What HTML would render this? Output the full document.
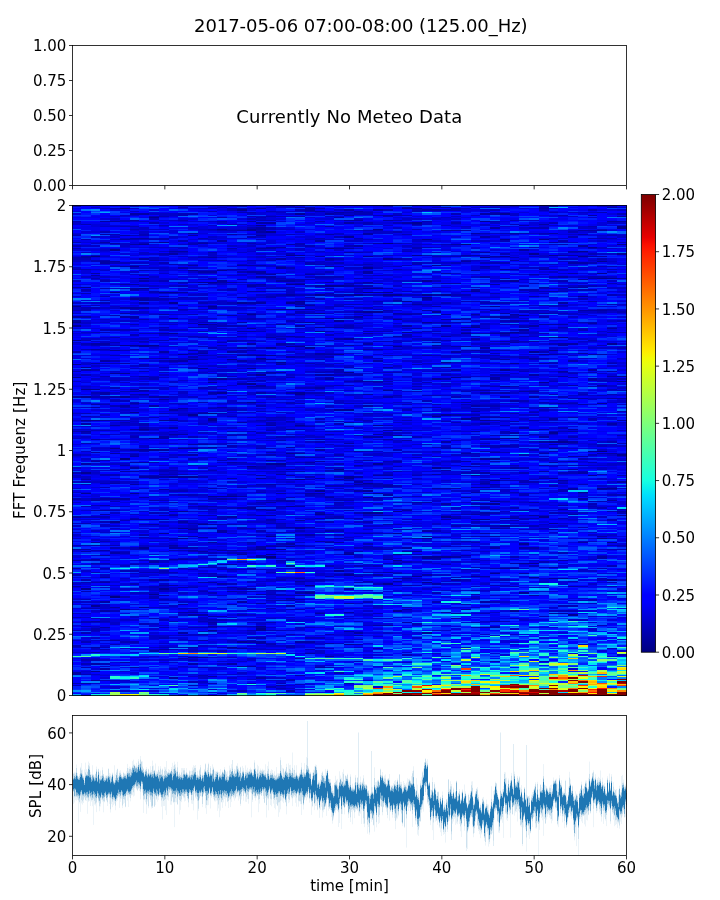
<!DOCTYPE html>
<html><head><meta charset="utf-8"><title>Spectrogram 2017-05-06 07:00-08:00</title>
<style>html,body{margin:0;padding:0;background:#fff}svg{display:block}</style></head>
<body><svg width="720" height="900" viewBox="0 0 720 900">
<rect width="720" height="900" fill="#fff"/>
<g fill="none" shape-rendering="crispEdges">
<path stroke="#000080" stroke-width="9" d="M95.5 256v1M212.5 413v1"/>
<path stroke="#000080" stroke-width="10" d="M115 596v2M125 458v2M203 324v1M271 556v2M300 479v1M368 292v1M388 243v1M466 244v1M485 257v1M495 480v1M563 337v1M602 451v1"/>
<path stroke="#000092" stroke-width="9" d="M76.5 306v1m0 15v1m0 2v2m0 13v1m0 23v1m0 12v1M95.5 389v1m0 30v1m0 184v2m0 64v1M134.5 266v1m0 31v2m0 45v1m0 66v1m0 80v1M173.5 292v1m0 9v2m0 14v1m0 14v1m0 86v1m0 55v2M212.5 282v1m0 23v1m0 75v1m0 35v3m0 75v1m0 31v1m0 101v1M251.5 229v2m0 83v1m0 13v1m0 39v1m0 14v2m0 17v1m0 63v1M290.5 255v1m0 28v1m0 17v2m0 5v1m0 36v1m0 82v1m0 23v1m0 52v1m0 39v1M329.5 248v1m0 36v2m0 31v1M358.5 294v2M397.5 294v2m0 23v1m0 26v1m0 83v1m0 4v1m0 75v1m0 21v1m0 20v1m0 5v1m0 49v2M436.5 265v1m0 45v2m0 65v2m0 36v1m0 50v2m0 87v2M475.5 291v1m0 35v1m0 147v1m0 100v1M514.5 280v2m0 50v1m0 30v1m0 74v1m0 171v2M553.5 255v1m0 81v1m0 12v1m0 81v2m0 7v2m0 5v1m0 29v1m0 44v1m0 54v1M592.5 247v1m0 203v1m0 23v1"/>
<path stroke="#000092" stroke-width="9.5" d="M621.75 226v3m0 15v1m0 8v2m0 121v1m0 4v1m0 72v2"/>
<path stroke="#000092" stroke-width="10" d="M86 287v1m0 79v1m0 21v1m0 6v2m0 22v1m0 51v2m0 19v1m0 94v2M115 249v2m0 41v1m0 57v1m0 22v1m0 74v1m0 72v2M125 208v1m0 136v1m0 27v1m0 22v2m0 211v1M144 244v1m0 33v1m0 9v1m0 56v2m0 82v1m0 117v2m0 58v1M154 217v1m0 127v1m0 92v1m0 10v2m0 68v1m0 74v1M164 242v1m0 49v1m0 127v1m0 112v1m0 54v2M183 354v1m0 93v1m0 27v2m0 33v1m0 16v1m0 9v1M193 270v1m0 88v1m0 54v2m0 32v1m0 27v2m0 179v1M203 282v1m0 85v1m0 155v1m0 132v1M222 229v1m0 40v1m0 107v2m0 12v2m0 102v1m0 79v1M232 359v1m0 136v1m0 150v1M242 209v2m0 91v2m0 337v2m0 23v1M261 225v1m0 129v1m0 2v1m0 15v2m0 102v1m0 70v1m0 76v1m0 1v3M271 231v2m0 114v2m0 6v1m0 104v1m0 2v2m0 71v1m0 12v1m0 4v1M281 267v2m0 40v1m0 52v1m0 100v2m0 84v1M300 213v2m0 40v1m0 28v1m0 16v1m0 44v1m0 45v3m0 30v1m0 101v2M310 322v1m0 24v2m0 236v1m0 6v2M320 294v2m0 17v1m0 13v1m0 3v1m0 158v2m0 22v1M339 285v2m0 33v2m0 32v1m0 54v2m0 58v1m0 100v2M349 236v2m0 100v2m0 32v1m0 36v2m0 65v3m0 75v1m0 19v2m0 68v1M368 256v1m0 10v2m0 19v1m0 22v2m0 170v1m0 6v2m0 5v1m0 14v2M378 229v1m0 58v1m0 3v1m0 18v2m0 112v1m0 37v2m0 28v1m0 18v2M388 258v2m0 32v1m0 1v2m0 94v1m0 192v2M407 301v1m0 30v1M417 222v2m0 31v1m0 295v1m0 24v1M427 239v1m0 40v2m0 12v2m0 1v1m0 24v1m0 215v1m0 17v3m0 23v1m0 49v2M446 294v2m0 29v2m0 35v1m0 51v2m0 100v2m0 38v2M456 319v1m0 57v1M466 333v1m0 12v1m0 71v2M485 221v1m0 198v1m0 37v2m0 59v1M495 306v1m0 151v2m0 41v1m0 1v2m0 68v1M505 213v2m0 24v1m0 16v1m0 12v1m0 63v1m0 35v2m0 15v1m0 30v1m0 20v1m0 86v2m0 41v1M524 315v1m0 227v2m0 18v1m0 28v2M534 253v2m0 96v2m0 210v1m0 13v1M544 239v1m0 114v1m0 27v1m0 133v2M563 441v2m0 135v1M573 614v2M583 251v1m0 4v1m0 39v1m0 195v1M602 261v1m0 11v1m0 4v1m0 124v1m0 84v1m0 49v1M612 278v1m0 64v2m0 143v1m0 53v1m0 36v2"/>
<path stroke="#0000a4" stroke-width="9" d="M76.5 287v1m0 28v2m0 2v2m0 74v2m0 118v2m0 31v1m0 10v1m0 7v1m0 17v1m0 85v3M95.5 273v1m0 1v1m0 67v2m0 4v1m0 13v1m0 40v1m0 2v1m0 31v1m0 12v1m0 8v1m0 38v1m0 9v1m0 31v1m0 2v1m0 13v1m0 61v1m0 25v1m0 4v1m0 10v2m0 15v1M134.5 213v2m0 5v1m0 17v1m0 5v1m0 39v1m0 3v3m0 16v2m0 7v2m0 71v1m0 1v1m0 11v1m0 25v1m0 19v2m0 5v1m0 5v1m0 4v2m0 2v1m0 12v1m0 34v1m0 147v1M173.5 251v1m0 1v2m0 105v2m0 47v2m0 16v2m0 5v1m0 76v1m0 3v1m0 22v1m0 6v1m0 1v2m0 10v1m0 25v1m0 91v2M212.5 257v1m0 13v2m0 34v2m0 15v1m0 53v2m0 12v2m0 53v1m0 40v1m0 17v1m0 17v1m0 17v1m0 39v1m0 33v1m0 5v1m0 3v1m0 49v1M251.5 221v1m0 43v1m0 5v2m0 12v2m0 4v1m0 10v2m0 27v1m0 11v2m0 10v1m0 30v1m0 120v2m0 79v2m0 51v2m0 23v1M290.5 244v1m0 35v2m0 12v2m0 40v1m0 19v2m0 34v2m0 53v1m0 21v1m0 5v1m0 25v1m0 25v1m0 15v2m0 20v2m0 31v1m0 1v1m0 4v2m0 83v2M329.5 213v2m0 11v1m0 7v1m0 23v2m0 6v1m0 15v1m0 44v1m0 26v1m0 19v2m0 2v2m0 117v1m0 20v1m0 11v2m0 10v1m0 100v1m0 12v1M358.5 211v1m0 8v1m0 24v2m0 64v2m0 3v2m0 63v1m0 69v1m0 13v1m0 10v2m0 3v2m0 1v1m0 5v2m0 140v2m0 1v1m0 8v1M397.5 258v2m0 40v1m0 12v1m0 22v1m0 124v1m0 35v1m0 65v1m0 14v1m0 2v1M436.5 209v2m0 83v2m0 10v1m0 35v1m0 2v1m0 128v1m0 13v1m0 69v1m0 24v2M475.5 233v1m0 21v1m0 14v1m0 18v2m0 23v1m0 10v2m0 11v2m0 10v1m0 54v2m0 4v1m0 5v3m0 11v1m0 55v1m0 4v1m0 7v1m0 13v1m0 4v1m0 70v1M514.5 233v1m0 26v1m0 8v1m0 44v1m0 5v2m0 20v1m0 57v2m0 19v1m0 10v2m0 33v2m0 49v1m0 44v1m0 4v1M553.5 205v2m0 26v1m0 8v1m0 48v1m0 32v1m0 29v1m0 52v1m0 10v2m0 24v1m0 17v1m0 66v1m0 37v1m0 45v1M592.5 215v1m0 14v1m0 25v1m0 21v1m0 31v1m0 12v1m0 30v1m0 14v2m0 7v3"/>
<path stroke="#0000a4" stroke-width="9.5" d="M621.75 216v1m0 4v1m0 56v1m0 119v1m0 21v1m0 60v2m0 28v1m0 3v1"/>
<path stroke="#0000a4" stroke-width="10" d="M86 256v2m0 58v2m0 51v2m0 52v2m0 6v1m0 31v2m0 14v1m0 69v1m0 1v1m0 131v1M105 221v1m0 12v1m0 7v1m0 18v3m0 79v2m0 15v2m0 30v3m0 25v1m0 77v2m0 5v1m0 4v1m0 3v1m0 35v1m0 4v1m0 21v1m0 4v1m0 18v2m0 7v2m0 15v1m0 40v2M115 221v1m0 21v1m0 17v1m0 134v2m0 22v1m0 4v1m0 27v1m0 29v1m0 14v2m0 52v2m0 53v1m0 32v1M125 235v1m0 3v1m0 26v1m0 17v1m0 22v2m0 4v1m0 2v2m0 45v1m0 41v2m0 58v1m0 5v1m0 26v2m0 162v1M144 213v2m0 23v1m0 19v2m0 20v2m0 16v3m0 1v2m0 3v2m0 49v1m0 17v1m0 13v1m0 3v1m0 54v2m0 11v1m0 13v2m0 19v1m0 21v1M154 396v2m0 7v2m0 69v2m0 22v1m0 23v1m0 36v2m0 16v2m0 69v2M164 314v1m0 18v1m0 17v2m0 5v1m0 37v2m0 1v1m0 36v3m0 10v2m0 25v2m0 11v1m0 89v2m0 4v1m0 9v1m0 53v1M183 251v1m0 15v2m0 23v1m0 67v2m0 46v1m0 25v1m0 86v2m0 24v2m0 10v1m0 27v1m0 16v1m0 7v1m0 19v2M193 233v1m0 1v1m0 29v1m0 84v1m0 93v1m0 9v2m0 73v1m0 6v1m0 13v1m0 61v1m0 1v2m0 31v1m0 15v2M203 243v1m0 27v2m0 80v1m0 59v1m0 30v1m0 61v1m0 30v1m0 13v1m0 30v1m0 31v2m0 18v1m0 5v1M222 240v2m0 38v3m0 124v1m0 90v2m0 30v3m0 17v1m0 13v1m0 18v2m0 31v1M232 234v1m0 47v1m0 32v1m0 25v1m0 9v2m0 109v1m0 15v1m0 37v2m0 32v1m0 13v1m0 22v1m0 3v1m0 71v2M242 230v1m0 34v1m0 31v1m0 24v1m0 8v1m0 15v2m0 6v1m0 4v2m0 21v2m0 37v1m0 73v1m0 10v2m0 45v1m0 33v2m0 11v2m0 45v1M261 208v1m0 13v2m0 3v3m0 1v2m0 2v1m0 12v1m0 16v1m0 5v3m0 2v2m0 6v1m0 6v1m0 10v2m0 55v1m0 25v2m0 5v2m0 81v1m0 33v1m0 5v1m0 30v3m0 6v3m0 36v1m0 8v1m0 23v1m0 13v3m0 33v2M271 222v2m0 23v2m0 25v1m0 1v2m0 31v1m0 27v1m0 21v1m0 12v1m0 52v1m0 58v1m0 17v1m0 7v1m0 4v1m0 30v1m0 11v1M281 247v1m0 10v2m0 20v2m0 42v1m0 18v2m0 19v1m0 7v1m0 101v1m0 18v1m0 6v1m0 45v1m0 53v1m0 84v1M300 207v1m0 94v3m0 1v1m0 2v1m0 12v1m0 2v2m0 126v1m0 3v1m0 48v1m0 13v1m0 47v1m0 9v1m0 2v1m0 10v2m0 1v1m0 3v1m0 41v2m0 15v1m0 16v1M310 208v3m0 63v1m0 30v1m0 3v1m0 3v1m0 143v1m0 4v1m0 30v1m0 33v1m0 6v2m0 105v2m0 10v1M320 211v1m0 28v2m0 14v1m0 28v2m0 66v2m0 19v2m0 11v2m0 50v1m0 9v2m0 10v1m0 16v1m0 14v1m0 18v2m0 4v1m0 22v1m0 71v1m0 53v1M339 212v1m0 4v1m0 30v1m0 78v1m0 10v2m0 139v1m0 58v1m0 3v1m0 6v1M349 209v2m0 4v1m0 4v1m0 1v2m0 24v1m0 3v1m0 32v2m0 7v2m0 49v1m0 76v1m0 20v1m0 108v2m0 34v2m0 13v1m0 8v1m0 18v1M368 233v2m0 36v3m0 8v1m0 48v1m0 1v1m0 9v2m0 4v1m0 31v1m0 12v1m0 10v2m0 29v2m0 22v1m0 72v1M378 209v2m0 32v1m0 105v1m0 10v2m0 19v1m0 52v1m0 1v2m0 37v1m0 39v1m0 58v2m0 49v1m0 22v1M388 215v1m0 4v1m0 146v1m0 28v2m0 32v1m0 8v1m0 35v1m0 9v2m0 7v2m0 63v1m0 12v1m0 52v1M407 208v1m0 13v2m0 90v1m0 10v2m0 113v1m0 69v1m0 36v2m0 2v1m0 2v1m0 23v1m0 6v1m0 23v1m0 12v1M417 208v1m0 15v1m0 79v1m0 23v1m0 173v1m0 35v1M427 209v2m0 87v2m0 10v1m0 44v1m0 146v1m0 27v2m0 4v1m0 37v2M446 207v1m0 22v1m0 42v1m0 9v1m0 30v1m0 4v1m0 16v1m0 30v1m0 10v2m0 61v2m0 27v1m0 17v1m0 14v2m0 14v1m0 92v1M456 230v1m0 13v1m0 38v1m0 62v1m0 4v2m0 16v2m0 43v2m0 72v1m0 29v1m0 37v2m0 21v2m0 32v1m0 4v1M466 230v1m0 24v1m0 5v1m0 65v1m0 74v1m0 50v1m0 7v1m0 4v1m0 30v1m0 57v1m0 53v1M485 213v2m0 21v2m0 14v1m0 13v1m0 9v2m0 69v2m0 41v1m0 1v2m0 23v1m0 5v2m0 14v1m0 11v1m0 20v2m0 9v1m0 3v1m0 15v2m0 7v2m0 19v1m0 42v1m0 24v2m0 24v1M495 213v2m0 12v2m0 27v1m0 27v1m0 25v1m0 5v2m0 15v1m0 43v3m0 37v1m0 2v1m0 17v2m0 12v1m0 31v1m0 24v1m0 18v1m0 7v1m0 10v2m0 19v1m0 52v1m0 5v1M505 280v2m0 31v1m0 2v2m0 23v1m0 17v1m0 32v2m0 2v2m0 47v2m0 31v1m0 39v1m0 9v1M524 225v1m0 23v2m0 78v2m0 60v1m0 35v2m0 118v2m0 24v1M534 274v1m0 21v1m0 28v2m0 14v1m0 16v1m0 15v2m0 15v1m0 4v2m0 22v1m0 81v1m0 12v1m0 31v2m0 46v1M544 208v1m0 15v1m0 44v1m0 17v1m0 25v1m0 10v1m0 38v1m0 43v1m0 21v1m0 6v2m0 3v2m0 10v1m0 11v1m0 5v1m0 6v1M563 255v1m0 20v2m0 24v2m0 20v1m0 18v3m0 25v1m0 4v1m0 26v1m0 76v1m0 24v1m0 3v1m0 50v1m0 52v1M573 251v1m0 3v1m0 6v2m0 9v1m0 13v1m0 55v2m0 15v2m0 23v1m0 31v1m0 11v1m0 1v1m0 9v2m0 13v1m0 4v1m0 7v1m0 18v2m0 24v1m0 71v1M583 230v1m0 3v1m0 10v2m0 15v2m0 15v1m0 7v1m0 22v1m0 42v1m0 44v1m0 5v1m0 51v1m0 15v2m0 24v2m0 42v1M602 230v1m0 25v1m0 53v1m0 43v1m0 30v1m0 67v1m0 35v1m0 46v1m0 19v3M612 207v1m0 13v1m0 106v1m0 42v1m0 4v1m0 21v1m0 24v2m0 28v1m0 46v1"/>
<path stroke="#0000b6" stroke-width="9" d="M76.5 205v2m0 14v1m0 13v1m0 6v1m0 2v2m0 1v1m0 8v3m0 9v1m0 40v1m0 40v2m0 18v1m0 59v1m0 22v2m0 16v2m0 24v2m0 45v1m0 28v2m0 41v1m0 12v1m0 14v2m0 36v1m0 1v1M95.5 260v2m0 16v1m0 26v1m0 1v2m0 23v1m0 12v1m0 23v2m0 21v2m0 2v2m0 32v1m0 29v1m0 37v2m0 5v1m0 10v2m0 32v1m0 9v1m0 2v1m0 8v1m0 9v1m0 25v1m0 9v1m0 9v3m0 28v2M134.5 226v1m0 2v1m0 5v1m0 3v1m0 57v1m0 20v1m0 5v1m0 4v2m0 3v2m0 13v1m0 44v1m0 41v2m0 16v2m0 62v1m0 28v3m0 14v1m0 5v2m0 11v2m0 56v2M173.5 264v1m0 93v1m0 111v1m0 3v1m0 15v2m0 10v1m0 11v1m0 31v1m0 3v1m0 21v1m0 48v1m0 27v1M212.5 208v1m0 2v1m0 17v1m0 22v1m0 25v1m0 4v1m0 38v1m0 14v1m0 9v2m0 45v1m0 13v1m0 12v1m0 22v1m0 25v1m0 27v2m0 9v1m0 5v1m0 33v1m0 2v2m0 13v1m0 5v1m0 2v1m0 15v2m0 25v2m0 2v2m0 2v1m0 55v1M251.5 212v1m0 3v1m0 1v2m0 7v2m0 7v2m0 5v1m0 16v1m0 23v1m0 28v1m0 4v2m0 20v1m0 9v1m0 3v1m0 19v2m0 5v1m0 35v1m0 13v1m0 35v2m0 40v1m0 18v1m0 13v1m0 6v1m0 13v1m0 4v1m0 22v1m0 17v1m0 16v1m0 3v1m0 6v2m0 44v1M290.5 216v1m0 17v1m0 18v2m0 12v2m0 10v1m0 34v1m0 5v2m0 21v2m0 32v1m0 24v2m0 17v1m0 14v2m0 33v1m0 7v1m0 17v1m0 2v1m0 31v1m0 5v1m0 21v1m0 34v1m0 13v1m0 24v1m0 10v3m0 31v2M329.5 260v1m0 10v2m0 3v2m0 10v1m0 4v3m0 35v1m0 2v2m0 4v1m0 12v1m0 2v2m0 13v1m0 5v1m0 53v1m0 2v1m0 35v1m0 14v2m0 9v1m0 17v1m0 6v2m0 18v1m0 23v2m0 9v1m0 57v1m0 32v1M358.5 212v3m0 23v1m0 13v1m0 25v1m0 4v1m0 1v2m0 1v1m0 3v1m0 11v1m0 69v2m0 4v1m0 54v1m0 76v2m0 4v1m0 14v1m0 13v2m0 2v1m0 13v2m0 9v1m0 5v1m0 56v1m0 21v1M397.5 215v1m0 4v1m0 1v2m0 7v2m0 10v1m0 22v1m0 2v1m0 31v1m0 12v1m0 34v1m0 22v1m0 22v1m0 53v2m0 11v1m0 3v1m0 4v1m0 13v2m0 22v1m0 14v1m0 4v1m0 43v1m0 11v1M436.5 207v1m0 48v1m0 23v2m0 9v1m0 30v1m0 4v1m0 3v1m0 8v1m0 6v2m0 6v1m0 15v1m0 23v1m0 8v1m0 2v1m0 6v2m0 31v1m0 3v1m0 4v1m0 73v2m0 5v1m0 21v1m0 32v2m0 7v2m0 27v1M475.5 252v1m0 48v1m0 31v1m0 56v1m0 17v1m0 5v2m0 37v1m0 9v2m0 1v1m0 5v2m0 29v2m0 16v2m0 2v2m0 9v1m0 5v1m0 16v1m0 7v1m0 26v1m0 3v1m0 23v1m0 4v1M514.5 220v1m0 3v1m0 32v1m0 57v3m0 6v1m0 8v1m0 6v2m0 44v1m0 26v1m0 21v1m0 9v2m0 18v1m0 14v1m0 11v1m0 14v2m0 7v2m0 2v1m0 4v2m0 29v2m0 28v1m0 31v1M553.5 212v1m0 9v2m0 14v1m0 30v1m0 6v2m0 10v1m0 24v1m0 15v2m0 12v2m0 18v1m0 17v1m0 12v1m0 8v1m0 27v1m0 19v1m0 33v2m0 25v2m0 96v2M592.5 209v2m0 15v1m0 11v1m0 9v1m0 4v2m0 7v2m0 12v2m0 7v2m0 2v2m0 10v1m0 20v1m0 17v1m0 31v1m0 13v1m0 31v2m0 34v2m0 6v1m0 38v1m0 1v2m0 1v1m0 92v2"/>
<path stroke="#0000b6" stroke-width="9.5" d="M621.75 213v2m0 27v1m0 68v2m0 7v2m0 10v1m0 14v2m0 29v2m0 10v1m0 20v1m0 23v1m0 7v1m0 31v1m0 18v2m0 13v1m0 2v2m0 31v1m0 3v1m0 104v2"/>
<path stroke="#0000b6" stroke-width="10" d="M86 224v1m0 14v1m0 18v2m0 9v1m0 19v2m0 2v1m0 13v4m0 29v1m0 2v2m0 4v1m0 24v2m0 37v1m0 2v1m0 15v2m0 9v1m0 37v2m0 1v1m0 21v1m0 9v2m0 5v1m0 21v1m0 14v1m0 18v2m0 1v1m0 8v1m0 7v1m0 8v1m0 12v2m0 3v1m0 5v2m0 7v2m0 16v2m0 2v2m0 2v1m0 6v1M105 231v2m0 27v1m0 19v2m0 6v1m0 7v1m0 3v1m0 1v2m0 25v2m0 1v1m0 12v1m0 3v1m0 13v1m0 12v1m0 19v2m0 6v1m0 25v1m0 3v1m0 4v1m0 20v1m0 13v2m0 7v1m0 3v1m0 28v2m0 3v2m0 18v1m0 3v1m0 17v1m0 4v1m0 12v1m0 13v1m0 25v1m0 18v1m0 6v1m0 1v1m0 13v2m0 15v1M115 208v1m0 25v1m0 27v2m0 2v1m0 48v1m0 13v2m0 6v1m0 4v1m0 2v1m0 9v1m0 4v2m0 1v1m0 16v1m0 6v2m0 11v2m0 3v2m0 62v1m0 4v2m0 5v2m0 18v1m0 8v1m0 34v1m0 1v2m0 61v2m0 32v1m0 35v1M125 220v2m0 4v1m0 35v2m0 65v2m0 19v1m0 4v1m0 35v1m0 8v2m0 5v1m0 12v1m0 1v1m0 46v1m0 50v1m0 31v2m0 16v2m0 24v2m0 43v2M144 234v2m0 7v1m0 26v1m0 4v1m0 21v1m0 21v1m0 13v1m0 7v1m0 22v3m0 4v1m0 19v1m0 31v3m0 1v2m0 1v1m0 20v1m0 72v1m0 9v2m0 1v1m0 11v1m0 10v1m0 11v1m0 50v2m0 24v1M154 216v1m0 1v2m0 2v2m0 15v1m0 2v1m0 17v1m0 30v2m0 5v3m0 32v1m0 12v1m0 11v1m0 18v3m0 37v1m0 11v1m0 32v1m0 12v1m0 36v2m0 46v1m0 11v1m0 13v2m0 8v3m0 19v1M164 216v1m0 8v1m0 12v2m0 13v2m0 7v2m0 16v2m0 14v1m0 1v2m0 27v1m0 1v2m0 9v1m0 19v2m0 5v1m0 45v1m0 56v2m0 2v1m0 25v1m0 14v1m0 3v1m0 50v3m0 17v2m0 7v1m0 19v2m0 6v1m0 9v2m0 8v1M183 207v1m0 5v3m0 4v1m0 19v2m0 40v1m0 2v2m0 10v1m0 7v1m0 3v1m0 144v2m0 18v1m0 15v2m0 2v2m0 40v1m0 13v1m0 7v1m0 9v1m0 39v1m0 26v1m0 22v1M193 213v2m0 28v2m0 37v1m0 31v1m0 8v1m0 3v1m0 8v1m0 16v2m0 1v2m0 78v2m0 20v2m0 34v2m0 10v1m0 16v1m0 4v1m0 18v2m0 2v1m0 7v1m0 9v1m0 17v1m0 20v1m0 18v1m0 12v1m0 9v2m0 7v2m0 20v2m0 2v1M203 238v1m0 3v1m0 14v1m0 26v1m0 17v2m0 2v1m0 15v1m0 4v1m0 3v1m0 5v1m0 8v1m0 4v2m0 2v1m0 31v2m0 13v1m0 9v1m0 63v2m0 37v1m0 7v1m0 4v1m0 38v1m0 5v1m0 17v1m0 29v1m0 5v1m0 3v1m0 35v1m0 7v1M222 217v1m0 3v1m0 8v1m0 29v1m0 54v1m0 9v2m0 1v1m0 13v1m0 2v1m0 43v1m0 23v1m0 25v1m0 20v1m0 55v3m0 5v1m0 34v1m0 9v1m0 49v2m0 5v1m0 20v1m0 2v2M232 208v3m0 13v1m0 5v1m0 17v1m0 20v1m0 19v2m0 11v2m0 21v2m0 13v1m0 35v1m0 1v2m0 29v2m0 5v1m0 14v1m0 3v1m0 9v2m0 11v2m0 34v2m0 2v2m0 7v2m0 15v1m0 27v2m0 15v1m0 6v1m0 6v2m0 14v1m0 4v1m0 21v1m0 21v1m0 8v1M242 205v2m0 1v1m0 3v1m0 56v1m0 1v2m0 6v1m0 2v1m0 30v1m0 11v2m0 9v1m0 3v1m0 9v3m0 25v2m0 22v1m0 31v1m0 27v1m0 24v1m0 40v1m0 21v1m0 1v2m0 15v1m0 21v1m0 22v2m0 10v1m0 63v2M261 217v1m0 2v1m0 9v1m0 54v2m0 44v1m0 15v2m0 23v1m0 7v1m0 21v1m0 2v2m0 4v1m0 8v1m0 4v1m0 6v2m0 14v1m0 17v3m0 15v1m0 7v1m0 9v1m0 3v1m0 23v2m0 105v2M271 211v1m0 4v1m0 3v1m0 6v3m0 30v1m0 17v1m0 9v1m0 7v2m0 75v1m0 22v2m0 19v1m0 2v1m0 1v3m0 5v1m0 17v1m0 3v1m0 1v2m0 44v1m0 18v2m0 2v1m0 21v1m0 26v1m0 17v1m0 3v1m0 5v1m0 7v1m0 13v1m0 7v1m0 12v2m0 41v2M281 216v1m0 49v1m0 11v1m0 9v1m0 5v2m0 40v1m0 1v2m0 5v1m0 17v1m0 53v1m0 18v2m0 2v1m0 19v1m0 4v2m0 4v1m0 29v1m0 4v1m0 16v1m0 3v1m0 4v1m0 10v2m0 15v1m0 18v2m0 9v1m0 3v2m0 34v1m0 52v1m0 4v1M300 209v2m0 5v1m0 26v2m0 12v1m0 21v3m0 1v1m0 10v2m0 15v3m0 22v2m0 18v2m0 29v2m0 14v1m0 22v1m0 2v1m0 32v1m0 8v1m0 58v2m0 2v2m0 9v1m0 63v1m0 74v1M310 207v1m0 3v1m0 33v2m0 15v3m0 14v1m0 14v2m0 1v1m0 65v1m0 23v2m0 3v2m0 32v1m0 12v1m0 36v2m0 1v1m0 14v2m0 85v1m0 9v1m0 35v1m0 9v2m0 10v1M320 208v1m0 12v1m0 16v1m0 25v1m0 9v1m0 1v2m0 20v2m0 18v1m0 3v1m0 36v1m0 12v1m0 19v2m0 24v2m0 21v2m0 14v1m0 121v2m0 56v2M339 213v2m0 21v2m0 20v2m0 2v2m0 2v1m0 9v2m0 16v3m0 9v1m0 11v1m0 50v4m0 1v2m0 9v1m0 35v1m0 1v2m0 6v1m0 22v2m0 7v2m0 5v2m0 4v2m0 7v2m0 13v1m0 1v1m0 13v3m0 11v2m0 2v2m0 38v2m0 96v2M349 212v1m0 32v2m0 36v1m0 20v1m0 13v1m0 6v3m0 39v1m0 6v2m0 5v1m0 3v1m0 17v1m0 22v1m0 53v1m0 19v1m0 9v1m0 62v1m0 109v1M368 212v3m0 7v3m0 5v1m0 33v1m0 18v1m0 1v2m0 7v2m0 11v2m0 6v1m0 40v2m0 45v1m0 9v1m0 6v1m0 30v1m0 28v1m0 3v1m0 8v1m0 21v1m0 5v2m0 20v2m0 1v3m0 23v1m0 8v1m0 19v2M378 215v1m0 14v1m0 44v1m0 7v1m0 10v2m0 5v1m0 7v1m0 21v1m0 9v1m0 16v1m0 23v1m0 100v4m0 11v2m0 33v1m0 13v3m0 15v2m0 5v1m0 10v2m0 28v1M388 209v2m0 5v1m0 71v1m0 21v1m0 20v1m0 9v1m0 3v1m0 9v1m0 16v1m0 8v1m0 43v1m0 6v4m0 25v1m0 12v1m0 3v1m0 5v1m0 30v1m0 8v1m0 8v1m0 15v1m0 13v1M407 207v1m0 7v1m0 18v1m0 16v1m0 6v2m0 5v1m0 25v1m0 2v2m0 17v1m0 14v1m0 5v3m0 67v1m0 4v2m0 9v1m0 88v1m0 19v1m0 8v1m0 22v2m0 32v1m0 11v1m0 46v2M417 209v3m0 17v1m0 17v2m0 13v3m0 15v2m0 12v2m0 17v2m0 17v1m0 31v1m0 21v1m0 2v1m0 1v1m0 44v2m0 19v1m0 17v1m0 20v1m0 22v1m0 34v1m0 30v1m0 37v2M427 221v1m0 25v1m0 7v1m0 44v1m0 3v1m0 26v1m0 8v1m0 41v1m0 12v1m0 4v2m0 5v1M446 209v2m0 33v1m0 11v1m0 8v1m0 36v2m0 18v1m0 17v1m0 33v2m0 33v2m0 10v1m0 25v2m0 18v2m0 77v1m0 17v1m0 91v1M456 208v3m0 2v2m0 7v2m0 32v1m0 5v2m0 30v2m0 26v1m0 73v2m0 24v1m0 17v1m0 7v1m0 12v1m0 54v2m0 7v2m0 50v1M466 260v1m0 30v1m0 2v2m0 5v1m0 16v2m0 2v1m0 6v2m0 1v1m0 17v1m0 26v1m0 13v1m0 12v1m0 9v2m0 53v1m0 2v2m0 40v1m0 26v1m0 4v1m0 3v1m0 18v1m0 9v2m0 23v1M485 207v1m0 25v1m0 28v2m0 3v2m0 33v2m0 12v2m0 15v1m0 11v1m0 4v3m0 2v1m0 7v1m0 21v1m0 19v2m0 9v1m0 21v1m0 4v1m0 1v2m0 32v1m0 1v2m0 1v1m0 15v1m0 6v2m0 5v1m0 10v2m0 9v1m0 76v1M495 207v1m0 1v2m0 1v1m0 8v1m0 40v2m0 16v2m0 11v1m0 8v2m0 37v1m0 8v1m0 2v1m0 1v1m0 2v2m0 14v2m0 10v1m0 3v1m0 1v2m0 11v2m0 28v1m0 9v3m0 13v1m0 12v1m0 37v2m0 11v2m0 58v1m0 15v2m0 23v1m0 34v1M505 233v1m0 6v2m0 11v2m0 7v2m0 14v1m0 23v2m0 16v2m0 2v1m0 7v1m0 1v2m0 7v2m0 5v1m0 23v2m0 49v1m0 5v3m0 1v1m0 16v1m0 27v1m0 20v1m0 77v2m0 40v1M524 233v1m0 55v2m0 20v2m0 7v2m0 3v3m0 4v2m0 2v1m0 4v1m0 14v3m0 12v1m0 28v2m0 33v1m0 18v2m0 11v2m0 3v2m0 6v3m0 10v3m0 14v1m0 7v2M534 227v2m0 18v1m0 8v1m0 26v1m0 5v3m0 18v1m0 43v1m0 4v1m0 52v1m0 21v1m0 14v2m0 30v2m0 26v1m0 8v1m0 6v2m0 38v2M544 205v3m0 1v2m0 16v2m0 4v1m0 33v2m0 19v1m0 2v1m0 13v1m0 10v2m0 15v1m0 17v2m0 5v1m0 43v1m0 6v2m0 117v1m0 32v2m0 53v1m0 44v1M563 215v1m0 24v2m0 2v1m0 13v2m0 20v2m0 6v1m0 2v1m0 13v1m0 7v1m0 13v1m0 26v1m0 17v1m0 23v2m0 29v2m0 2v1m0 29v1m0 10v2m0 9v1m0 5v3m0 20v2m0 4v1m0 33v2m0 51v2m0 3v2M573 231v2m0 3v2m0 14v1m0 120v1m0 3v1m0 20v1m0 4v1m0 32v2m0 5v1m0 21v1m0 6v2m0 107v1m0 23v2m0 3v2M583 285v2m0 2v2m0 7v2m0 22v1m0 6v2m0 63v1m0 63v2m0 5v1m0 5v1m0 12v1m0 42v1m0 58v1m0 13v1m0 43v1M602 212v1m0 25v1m0 19v2m0 6v1m0 9v2m0 31v1m0 1v2m0 32v1m0 34v1m0 5v1m0 8v1m0 49v2m0 27v1m0 26v1m0 5v2m0 59v1m0 9v3m0 44v1M612 235v1m0 2v1m0 27v1m0 2v1m0 13v1m0 10v2m0 8v1m0 4v2m0 21v1m0 30v1m0 17v1m0 7v1m0 4v1m0 46v2m0 46v1m0 4v2m0 15v1m0 7v2m0 17v1m0 6v1m0 3v1m0 15v2m0 15v1m0 3v1m0 61v1"/>
<path stroke="#0000c8" stroke-width="9" d="M76.5 222v3m0 9v1m0 25v2m0 5v2m0 11v2m0 2v1m0 11v1m0 5v2m0 1v1m0 1v3m0 3v1m0 9v1m0 18v1m0 38v1m0 31v1m0 6v1m0 8v1m0 8v1m0 28v2m0 6v3m0 3v2m0 5v1m0 3v1m0 9v1m0 16v1m0 3v1m0 1v2m0 5v1m0 1v2m0 2v1m0 44v2m0 14v1m0 1v2m0 10v1m0 26v1m0 6v1m0 4v1M95.5 207v1m0 28v2m0 5v1m0 1v2m0 8v1m0 13v1m0 32v2m0 34v2m0 1v1m0 23v2m0 11v2m0 14v1m0 21v1m0 31v1m0 14v2m0 5v1m0 1v2m0 7v2m0 36v1m0 10v2m0 7v2m0 14v1m0 8v1m0 36v2m0 7v2m0 10v1m0 3v1m0 4v1m0 5v2m0 1v1m0 7v2m0 8v1m0 15v1m0 8v1M134.5 205v2m0 1v1m0 2v1m0 3v1m0 5v1m0 40v2m0 1v1m0 1v2m0 2v2m0 1v1m0 3v1m0 30v1m0 1v3m0 6v2m0 16v2m0 1v1m0 4v1m0 18v2m0 1v1m0 7v1m0 19v2m0 4v1m0 1v1m0 2v1m0 10v2m0 1v1m0 1v3m0 6v2m0 1v1m0 17v1m0 25v1m0 1v2m0 6v1m0 24v1m0 48v1m0 9v1m0 14v2m0 2v2m0 15v1m0 6v2m0 1v2m0 22v1m0 13v1M173.5 213v3m0 4v1m0 15v2m0 9v1m0 4v1m0 26v1m0 5v2m0 6v1m0 4v2m0 7v2m0 5v1m0 7v1m0 1v1m0 4v2m0 7v2m0 6v1m0 15v1m0 18v2m0 3v1m0 9v2m0 5v1m0 9v1m0 4v2m0 11v1m0 3v1m0 7v1m0 10v2m0 1v1m0 9v2m0 2v3m0 20v2m0 32v1m0 31v1m0 26v5m0 8v1m0 4v2m0 10v1m0 17v1m0 11v1m0 14v1m0 5v2M212.5 221v1m0 3v1m0 4v1m0 5v2m0 1v1m0 3v1m0 9v4m0 3v1m0 9v1m0 2v1m0 5v1m0 21v3m0 1v1m0 12v1m0 6v6m0 24v1m0 9v2m0 4v1m0 1v1m0 6v1m0 5v4m0 8v1m0 8v1m0 14v1m0 34v1m0 8v1m0 12v1m0 17v1m0 13v1m0 43v1m0 2v1m0 6v2m0 7v2m0 45v1m0 9v1m0 2v1m0 22v1m0 9v1m0 21v1M251.5 208v1m0 4v2m0 10v1m0 8v1m0 10v2m0 4v1m0 45v3m0 4v1m0 2v2m0 6v1m0 31v2m0 11v3m0 2v2m0 11v2m0 7v2m0 3v3m0 8v1m0 8v1m0 8v1m0 17v1m0 23v2m0 6v1m0 2v1m0 10v2m0 16v2m0 1v1m0 7v2m0 2v1m0 2v2m0 20v2m0 2v2m0 1v1m0 18v1m0 11v2m0 3v1m0 9v2m0 16v2m0 6v1m0 9v2m0 6v1m0 7v1m0 9v3m0 18v1M290.5 205v3m0 3v1m0 1v2m0 14v1m0 53v1m0 3v1m0 1v5m0 7v1m0 49v2m0 21v2m0 23v1m0 7v1m0 9v1m0 4v1m0 11v1m0 21v1m0 5v1m0 18v2m0 31v1m0 13v1m0 22v1m0 6v1m0 9v1m0 8v2m0 20v1m0 17v1m0 1v2m0 9v1m0 54v1m0 2v1M329.5 211v2m0 3v1m0 22v1m0 22v3m0 13v1m0 27v3m0 4v1m0 32v1m0 17v3m0 5v1m0 12v2m0 5v2m0 4v1m0 6v3m0 1v2m0 28v1m0 4v1m0 22v2m0 2v1m0 35v2m0 7v2m0 20v1m0 8v2m0 30v2m0 67v1m0 16v1m0 14v1M358.5 218v2m0 2v2m0 6v1m0 8v3m0 6v1m0 15v2m0 1v2m0 13v1m0 6v3m0 6v2m0 7v2m0 5v1m0 3v1m0 4v1m0 3v1m0 10v2m0 5v1m0 27v1m0 20v1m0 3v1m0 4v1m0 1v2m0 11v3m0 1v1m0 4v2m0 31v1m0 1v1m0 3v1m0 5v2m0 6v1m0 4v2m0 34v2m0 32v3m0 16v2m0 27v1m0 4v1m0 12v1m0 25v1M397.5 213v2m0 12v2m0 51v2m0 3v2m0 17v1m0 5v1m0 7v1m0 4v1m0 1v2m0 13v3m0 2v1m0 9v1m0 9v2m0 23v1m0 5v2m0 4v1m0 19v1m0 9v2m0 6v3m0 9v1m0 7v1m0 41v1m0 44v2m0 9v1m0 2v2m0 9v1M436.5 218v2m0 20v2m0 2v1m0 2v1m0 4v1m0 9v2m0 7v2m0 10v1m0 3v1m0 16v1m0 10v1m0 17v1m0 4v2m0 23v1m0 3v1m0 84v1m0 9v3m0 6v1m0 28v2m0 21v2m0 27v2m0 9v1m0 10v2m0 11v1m0 65v1M475.5 207v1m0 7v1m0 24v2m0 9v1m0 8v1m0 15v2m0 9v1m0 21v1m0 5v1m0 4v2m0 14v1m0 3v1m0 2v2m0 11v2m0 4v1m0 13v1m0 3v1m0 23v1m0 4v2m0 9v1m0 2v2m0 14v1m0 14v3m0 13v2m0 12v1m0 5v2m0 14v1m0 5v2m0 9v1m0 9v1m0 12v1m0 23v2m0 14v1m0 9v2m0 9v1m0 5v1M514.5 205v2m0 6v3m0 18v1m0 94v2m0 6v1m0 12v1m0 5v2m0 11v2m0 2v1m0 18v2m0 46v1m0 3v1m0 2v1m0 12v1m0 28v1m0 8v2m0 23v1m0 35v1m0 7v1m0 60v2m0 4v1m0 6v2M553.5 208v1m0 16v1m0 18v1m0 19v1m0 6v2m0 7v2m0 23v2m0 4v2m0 27v1m0 6v2m0 13v1m0 8v1m0 4v1m0 3v1m0 18v1m0 9v2m0 6v1m0 2v1m0 1v1m0 11v1m0 30v2m0 25v1m0 39v1m0 58v1m0 15v1M592.5 212v1m0 4v1m0 9v2m0 2v2m0 27v1m0 50v2m0 28v1m0 5v2m0 46v1m0 2v2m0 4v1m0 15v1m0 19v1m0 3v1m0 13v2m0 5v1m0 39v1m0 1v2m0 23v1m0 1v2m0 2v1m0 2v1m0 17v1m0 10v2m0 11v2m0 18v1m0 12v1m0 11v3"/>
<path stroke="#0000c8" stroke-width="9.5" d="M621.75 207v1m0 1v2m0 11v2m0 11v3m0 46v1m0 2v2m0 2v1m0 2v2m0 8v1m0 5v1m0 47v1m0 28v2m0 6v1m0 4v3m0 1v1m0 17v1m0 7v1m0 14v2m0 6v1m0 2v1m0 3v1m0 2v2m0 23v1m0 57v1m0 22v1m0 9v2m0 7v2m0 49v1m0 10v2"/>
<path stroke="#0000c8" stroke-width="10" d="M86 245v2m0 5v1m0 7v1m0 15v2m0 13v1m0 13v1m0 16v2m0 8v1m0 5v2m0 5v1m0 17v2m0 21v1m0 16v1m0 3v1m0 13v1m0 4v1m0 2v1m0 6v2m0 13v1m0 2v2m0 2v2m0 16v3m0 19v3m0 9v1m0 8v1m0 39v1m0 10v2m0 29v2m0 1v1m0 8v1m0 3v1m0 12v1m0 16v1m0 4v1m0 18v1M105 208v1m0 17v1m0 16v1m0 5v2m0 5v1m0 13v1m0 5v2m0 1v1m0 27v2m0 10v1m0 2v1m0 14v1m0 3v2m0 7v1m0 47v1m0 15v2m0 32v1m0 14v2m0 5v1m0 10v2m0 41v3m0 5v1m0 27v1m0 3v1m0 4v1m0 4v3m0 8v1m0 1v1m0 16v5m0 9v3m0 1v1m0 11v1m0 24v2m0 5v1M115 216v1m0 1v2m0 6v1m0 9v2m0 1v1m0 44v1m0 3v1m0 17v3m0 62v1m0 6v2m0 12v2m0 5v1m0 11v1m0 18v1m0 3v1m0 4v1m0 11v1m0 11v2m0 5v1m0 7v1m0 27v1m0 5v2m0 11v2m0 1v1m0 3v1m0 8v1m0 9v1m0 33v1m0 9v1m0 26v3m0 61v2M125 215v1m0 22v1m0 4v4m0 41v1m0 31v2m0 56v3m0 1v1m0 26v2m0 1v1m0 3v1m0 6v3m0 23v2m0 2v1m0 9v2m0 16v3m0 22v1m0 40v2m0 2v1m0 13v2m0 11v1m0 9v2m0 29v2m0 27v1m0 31v1m0 9v2M144 221v1m0 5v3m0 1v3m0 5v1m0 2v1m0 9v3m0 7v2m0 1v1m0 8v1m0 10v2m0 2v2m0 20v3m0 24v2m0 2v1m0 25v1m0 9v2m0 3v2m0 2v2m0 6v1m0 7v1m0 13v1m0 14v2m0 4v1m0 6v3m0 23v1m0 3v1m0 12v1m0 22v1m0 33v2m0 16v1m0 12v1m0 9v2m0 4v2m0 22v1m0 40v1m0 1v2M154 213v2m0 14v1m0 8v1m0 8v1m0 5v2m0 2v3m0 7v2m0 1v1m0 5v2m0 2v2m0 3v2m0 1v1m0 8v1m0 16v1m0 25v1m0 35v1m0 10v2m0 38v2m0 3v2m0 24v2m0 10v2m0 6v1m0 50v1m0 8v1m0 2v1m0 4v1m0 41v3m0 1v2m0 13v1m0 15v2m0 3v2m0 5v4m0 8v1m0 1v1m0 6v1M164 213v3m0 13v1m0 17v1m0 3v1m0 3v1m0 4v1m0 6v2m0 1v1m0 2v1m0 19v1m0 6v1m0 21v1m0 1v1m0 9v2m0 10v1m0 25v1m0 1v2m0 1v1m0 9v3m0 37v2m0 3v3m0 8v1m0 8v1m0 5v2m0 5v1m0 3v1m0 9v1m0 22v1m0 6v2m0 1v2m0 7v2m0 2v2m0 11v1m0 7v1m0 13v3m0 10v1m0 9v2m0 1v2m0 12v1m0 2v1m0 3v1m0 17v1m0 9v2m0 6v1m0 15v2m0 1v1M183 224v1m0 19v1m0 2v2m0 3v1m0 3v1m0 7v1m0 5v1m0 12v1m0 14v2m0 10v1m0 3v1m0 14v2m0 5v1m0 21v2m0 4v1m0 15v1m0 10v3m0 9v2m0 4v2m0 2v3m0 4v2m0 17v1m0 31v1m0 17v1m0 33v1m0 68v2m0 7v2m0 11v2m0 23v1m0 7v1m0 8v1m0 9v1M193 227v2m0 13v1m0 14v1m0 9v2m0 2v2m0 16v2m0 3v2m0 2v2m0 9v1m0 9v1m0 43v1m0 3v2m0 27v2m0 15v1m0 2v1m0 30v1m0 4v1m0 12v1m0 5v1m0 8v1m0 22v2m0 6v1m0 13v3m0 4v1m0 25v1m0 27v1m0 14v2m0 31v2m0 13v1m0 26v1M203 208v1m0 12v1m0 7v1m0 26v1m0 3v1m0 6v2m0 1v1m0 2v1m0 5v1m0 13v3m0 1v3m0 9v1m0 8v1m0 17v1m0 13v1m0 8v1m0 12v1m0 50v2m0 7v2m0 9v1m0 3v2m0 8v3m0 7v2m0 2v1m0 15v1m0 6v2m0 4v1m0 6v2m0 2v1m0 40v2m0 4v1m0 31v1m0 21v1m0 4v4m0 14v1m0 9v2m0 3v2m0 24v3m0 2v2M222 207v1m0 14v2m0 33v1m0 25v2m0 4v2m0 10v4m0 2v2m0 14v2m0 12v1m0 11v1m0 4v1m0 1v2m0 9v1m0 1v3m0 2v3m0 9v1m0 9v2m0 5v1m0 4v1m0 2v1m0 31v2m0 17v1m0 25v1m0 17v3m0 10v1m0 23v2m0 7v2m0 4v1m0 8v2m0 8v1m0 9v1m0 7v1m0 12v1m0 23v2m0 27v1m0 1v2m0 9v1M232 205v2m0 22v1m0 15v2m0 23v1m0 4v1m0 12v1m0 15v1m0 2v2m0 28v1m0 9v2m0 5v1m0 14v3m0 13v1m0 4v1m0 4v1m0 4v4m0 3v2m0 3v1m0 14v2m0 5v1m0 8v1m0 3v1m0 3v1m0 11v2m0 16v2m0 50v1m0 36v2m0 16v2m0 27v1m0 1v2m0 19v3m0 31v1m0 2v2m0 11v2M242 224v1m0 4v1m0 4v1m0 3v1m0 13v1m0 11v1m0 9v2m0 31v2m0 9v2m0 21v1m0 12v1m0 10v2m0 1v1m0 26v1m0 7v1m0 5v2m0 1v1m0 18v1m0 7v1m0 14v2m0 7v2m0 9v1m0 10v2m0 37v1m0 2v1m0 33v2m0 24v1m0 4v2m0 67v1m0 10v2M261 216v1m0 1v2m0 13v2m0 1v2m0 1v1m0 4v1m0 4v2m0 2v2m0 1v2m0 2v1m0 13v1m0 13v1m0 5v2m0 1v1m0 3v1m0 12v1m0 3v2m0 21v1m0 12v1m0 5v2m0 15v1m0 3v1m0 5v2m0 7v2m0 10v1m0 8v1m0 3v1m0 23v3m0 6v2m0 7v2m0 6v1m0 13v2m0 3v2m0 8v1m0 2v2m0 5v1m0 10v2m0 15v1m0 30v1m0 11v1m0 3v1m0 5v1m0 30v3m0 24v1m0 17v1M271 256v1m0 1v2m0 5v2m0 6v1m0 5v1m0 11v1m0 2v2m0 28v1m0 2v1m0 6v3m0 25v1m0 13v1m0 9v3m0 3v2m0 24v2m0 9v1m0 2v2m0 4v1m0 1v1m0 24v4m0 2v1m0 6v1m0 6v2m0 19v1m0 2v1m0 11v2m0 9v1m0 1v2m0 43v3m0 9v3m0 4v1m0 19v1m0 8v1m0 17v2m0 2v1m0 27v2m0 1v1M281 205v3m0 3v2m0 16v1m0 21v1m0 4v1m0 16v1m0 5v1m0 7v1m0 8v1m0 58v1m0 3v1m0 18v2m0 19v1m0 2v1m0 4v1m0 4v1m0 5v3m0 6v3m0 49v1m0 4v1m0 5v2m0 6v2m0 7v2m0 10v1m0 4v3m0 1v1m0 16v1m0 5v1m0 2v1m0 3v1m0 2v2m0 5v1m0 8v2m0 8v1m0 10v1m0 37v1m0 8v2m0 2v1m0 27v2m0 1v1M300 211v1m0 19v2m0 12v2m0 1v3m0 10v1m0 66v1m0 3v1m0 12v1m0 3v1m0 3v1m0 9v1m0 31v1m0 2v1m0 8v1m0 15v2m0 9v1m0 1v2m0 18v1m0 12v1m0 14v1m0 8v1m0 11v1m0 12v1m0 23v1m0 3v1m0 30v1m0 4v3m0 6v1m0 9v2m0 18v1m0 5v3M310 213v2m0 24v1m0 33v1m0 2v2m0 7v2m0 14v1m0 2v1m0 6v2m0 5v1m0 5v1m0 12v1m0 7v1m0 7v5m0 13v1m0 18v1m0 7v1m0 10v2m0 14v1m0 9v3m0 3v2m0 20v2m0 19v1m0 5v2m0 4v1m0 12v1m0 8v2m0 8v1m0 17v1m0 5v2m0 14v1m0 10v2m0 27v1m0 34v1M320 234v1m0 4v1m0 11v1m0 9v3m0 9v1m0 4v1m0 3v1m0 27v1m0 13v1m0 20v1m0 9v3m0 6v1m0 6v1m0 6v2m0 6v1m0 8v1m0 25v2m0 13v2m0 9v1m0 26v1m0 19v3m0 24v2m0 5v1m0 3v1m0 40v3m0 5v1m0 30v1m0 14v1m0 15v1m0 3v1m0 2v4m0 11v2M339 209v2m0 22v2m0 12v1m0 1v2m0 4v1m0 35v1m0 12v2m0 5v2m0 12v2m0 6v1m0 19v1m0 9v1m0 36v4m0 35v1m0 5v2m0 20v2m0 19v1m0 9v2m0 3v3m0 1v2m0 20v1m0 24v1m0 13v1m0 40v1m0 16v1m0 16v1M349 213v2m0 25v2m0 25v2m0 15v1m0 7v1m0 5v2m0 6v1m0 4v2m0 3v2m0 6v1m0 3v1m0 24v1m0 11v2m0 6v1m0 16v1m0 3v2m0 49v2m0 4v1m0 18v1m0 8v1m0 5v2m0 2v1m0 8v2m0 2v1m0 4v2m0 9v1m0 18v1m0 1v2m0 22v1m0 6v2m0 36v1m0 9v1m0 16v1M368 211v1m0 27v1m0 3v1m0 8v1m0 13v1m0 8v1m0 2v1m0 63v1m0 15v1m0 4v1m0 34v1m0 15v2m0 5v1m0 9v1m0 22v2m0 9v1m0 19v2m0 1v1m0 13v1m0 11v1m0 10v2m0 2v1m0 19v1m0 15v2m0 7v2m0 6v1m0 27v2m0 2v2m0 9v1m0 31v1m0 22v1M378 224v1m0 6v3m0 22v1m0 10v2m0 18v1m0 18v1m0 26v1m0 20v1m0 17v1m0 40v1m0 17v1m0 7v1m0 11v1m0 1v3m0 18v1m0 22v1m0 2v1m0 2v2m0 5v1m0 14v2m0 65v2m0 11v4m0 9v1m0 17v1M388 205v2m0 18v1m0 5v3m0 21v1m0 10v1m0 3v1m0 4v1m0 20v1m0 7v1m0 6v2m0 3v3m0 30v1m0 14v1m0 13v2m0 3v2m0 4v1m0 24v2m0 2v2m0 27v1m0 4v1m0 9v3m0 4v1m0 2v2m0 13v1m0 5v1m0 3v1m0 49v2m0 6v4m0 59v1m0 13v2M407 218v2m0 23v1m0 1v2m0 2v2m0 29v2m0 22v1m0 15v2m0 15v1m0 3v1m0 4v3m0 11v2m0 14v1m0 14v1m0 10v1m0 5v1m0 8v1m0 12v1m0 1v2m0 17v1m0 50v1m0 16v1m0 4v1m0 54v2m0 29v2m0 40v1m0 9v1M417 218v2m0 5v1m0 13v3m0 2v1m0 46v1m0 10v2m0 16v2m0 14v1m0 1v2m0 7v2m0 6v1m0 4v3m0 15v4m0 1v2m0 22v1m0 22v1m0 13v1m0 9v2m0 18v1m0 3v1m0 5v1m0 18v2m0 38v2m0 11v2m0 3v2m0 15v1m0 12v1m0 33v1m0 11v2M427 222v3m0 15v2m0 2v1m0 17v2m0 2v1m0 7v1m0 30v2m0 16v1m0 14v2m0 7v2m0 14v1m0 7v1m0 42v2m0 28v1m0 18v2m0 6v1m0 2v1m0 17v1m0 68v2m0 16v2m0 7v2M446 217v1m0 7v1m0 36v2m0 23v1m0 35v1m0 21v2m0 8v3m0 5v1m0 7v1m0 11v2m0 1v1m0 8v1m0 12v1m0 36v2m0 14v1m0 12v1m0 5v1m0 34v1m0 16v1m0 4v1m0 36v2m0 5v1m0 1v2m0 5v1m0 39v1M456 216v1m0 1v2m0 53v1m0 60v2m0 4v1m0 21v1m0 11v2m0 13v1m0 12v1m0 28v1m0 22v2m0 4v1m0 1v1m0 2v1m0 8v1m0 15v2m0 15v2m0 2v1m0 2v1m0 26v1m0 1v2m0 1v1m0 3v1m0 10v2m0 20v2m0 5v1m0 12v1M466 208v1m0 17v1m0 29v1m0 94v2m0 23v1m0 4v1m0 8v1m0 4v1m0 11v2m0 16v1m0 5v1m0 16v1m0 3v1m0 1v2m0 34v2m0 10v1m0 8v1m0 6v1m0 6v2m0 6v1m0 47v1m0 8v1m0 7v1m0 14v1m0 33v1M485 209v3m0 12v2m0 14v2m0 13v1m0 27v1m0 8v1m0 4v1m0 3v1m0 4v1m0 2v1m0 1v2m0 10v2m0 3v1m0 14v2m0 11v3m0 17v1m0 9v1m0 13v2m0 2v1m0 3v3m0 11v1m0 40v2m0 10v1m0 13v1m0 16v1m0 8v1m0 5v2m0 28v1m0 8v1m0 22v2m0 5v1m0 14v2m0 14v1m0 12v1M495 222v2m0 9v1m0 2v2m0 19v1m0 8v1m0 30v1m0 34v1m0 10v2m0 18v1m0 17v1m0 22v1m0 3v1m0 7v1m0 5v1m0 28v1m0 33v3m0 1v1m0 31v2m0 10v1m0 12v1m0 25v1m0 6v2m0 9v1m0 4v1m0 16v1M505 207v1m0 18v1m0 46v1m0 35v1m0 8v1m0 37v2m0 5v1m0 12v1m0 44v1m0 25v1m0 19v2m0 5v1m0 14v3m0 19v1m0 8v1m0 46v1m0 17v2m0 14v2M524 220v1m0 6v2m0 35v1m0 2v2m0 5v1m0 4v1m0 5v2m0 5v1m0 7v1m0 9v1m0 7v1m0 12v1m0 10v1m0 26v2m0 36v1m0 6v2m0 2v2m0 64v1m0 17v1m0 12v1m0 7v1m0 1v2m0 2v1m0 89v2M534 220v1m0 12v1m0 33v2m0 36v1m0 5v3m0 18v2m0 2v1m0 53v1m0 1v2m0 13v2m0 2v1m0 2v2m0 13v1m0 11v2m0 15v2m0 19v1m0 13v1m0 35v1m0 19v1m0 10v1m0 26v1m0 3v1M544 234v1m0 20v2m0 17v1m0 18v1m0 2v1m0 13v1m0 26v1m0 47v1m0 13v1m0 3v1m0 13v1m0 2v1m0 1v1m0 11v1m0 17v1m0 3v1m0 1v3m0 15v2m0 10v1m0 26v1m0 8v1m0 4v1m0 37v1m0 10v1m0 2v2m0 4v1m0 3v1M563 238v1m0 3v1m0 18v1m0 7v2m0 2v1m0 11v2m0 2v2m0 15v1m0 21v1m0 39v1m0 16v1m0 31v1m0 21v2m0 3v1m0 3v1m0 16v1m0 3v1m0 11v2m0 40v1m0 1v2m0 40v1M573 212v1m0 3v1m0 13v1m0 3v1m0 7v1m0 15v2m0 1v1m0 14v2m0 4v1m0 2v2m0 2v2m0 5v1m0 16v2m0 1v2m0 4v1m0 15v2m0 15v1m0 16v1m0 22v1m0 6v1m0 19v1m0 25v1m0 22v1m0 38v1m0 1v2m0 5v1m0 18v1m0 39v1m0 21v1m0 18v2m0 47v2M583 212v1m0 13v3m0 23v1m0 2v1m0 13v1m0 6v2m0 5v1m0 27v2m0 1v1m0 13v1m0 9v2m0 1v1m0 8v1m0 7v1m0 33v2m0 1v1m0 27v2m0 68v1m0 2v1m0 15v2m0 24v1m0 2v1m0 27v3m0 26v1m0 20v2M602 205v2m0 22v1m0 5v1m0 4v2m0 5v2m0 4v2m0 5v1m0 24v2m0 19v1m0 24v1m0 2v2m0 11v2m0 24v1m0 4v2m0 1v1m0 16v1m0 18v1m0 23v2m0 1v1m0 4v2m0 14v1m0 1v3m0 8v2m0 5v2m0 29v2m0 31v1m0 5v1M612 205v2m0 15v2m0 10v1m0 13v1m0 4v2m0 6v1m0 9v2m0 3v2m0 2v2m0 5v2m0 22v2m0 7v2m0 5v1m0 19v2m0 13v1m0 2v2m0 11v3m0 4v2m0 3v1m0 11v1m0 14v1m0 4v1m0 2v1m0 18v3m0 7v2m0 7v3m0 15v2m0 4v1m0 18v1m0 27v2m0 55v1"/>
<path stroke="#0000da" stroke-width="9" d="M76.5 211v1m0 1v2m0 18v1m0 15v2m0 5v1m0 7v1m0 28v1m0 30v1m0 3v1m0 2v1m0 1v1m0 9v2m0 10v1m0 2v1m0 15v2m0 10v1m0 13v2m0 5v1m0 18v1m0 3v1m0 5v2m0 6v1m0 11v1m0 13v1m0 13v1m0 11v1m0 3v1m0 28v1m0 6v1m0 9v1m0 3v2m0 3v3m0 19v1m0 4v1m0 4v1m0 10v1m0 5v1m0 3v1m0 13v1m0 2v1m0 32v1M95.5 224v3m0 4v2m0 9v1m0 6v2m0 6v1m0 18v2m0 1v1m0 36v2m0 1v1m0 2v1m0 5v1m0 21v1m0 23v3m0 9v1m0 8v1m0 7v1m0 5v2m0 2v1m0 3v1m0 8v1m0 16v1m0 3v1m0 1v2m0 20v1m0 2v1m0 5v1m0 6v1m0 6v3m0 24v2m0 13v1m0 14v1m0 15v1m0 9v1m0 3v1m0 3v1m0 18v1m0 2v1m0 4v1m0 14v1m0 40v2M134.5 227v2m0 1v1m0 2v1m0 8v2m0 3v1m0 7v1m0 2v2m0 20v3m0 19v2m0 1v1m0 34v1m0 37v3m0 2v2m0 5v1m0 4v1m0 13v2m0 9v1m0 1v1m0 11v1m0 3v2m0 1v2m0 23v1m0 16v1m0 46v2m0 23v1m0 4v1m0 15v1m0 17v1m0 9v1m0 44v1m0 2v1m0 19v2m0 7v2M173.5 216v1m0 13v3m0 5v1m0 10v2m0 9v1m0 6v4m0 3v1m0 3v1m0 3v1m0 51v2m0 6v1m0 11v1m0 9v1m0 29v1m0 3v2m0 11v1m0 13v1m0 6v2m0 2v2m0 10v3m0 5v1m0 12v1m0 13v2m0 4v1m0 19v1m0 11v2m0 4v1m0 11v2m0 2v2m0 28v1m0 2v1m0 2v2m0 18v1m0 7v1m0 8v1m0 20v2m0 6v2m0 12v2M212.5 207v1m0 7v1m0 22v1m0 3v1m0 41v1m0 2v1m0 62v1m0 7v1m0 10v2m0 40v1m0 13v1m0 6v3m0 4v1m0 3v1m0 4v1m0 16v1m0 3v1m0 1v1m0 12v1m0 15v2m0 5v2m0 1v1m0 1v2m0 4v1m0 2v2m0 4v1m0 11v2m0 2v2m0 5v1m0 8v1m0 28v2m0 5v1m0 45v2m0 2v2m0 3v2m0 16v2m0 4v1m0 17v1M251.5 209v2m0 15v1m0 15v1m0 1v1m0 4v2m0 5v2m0 3v3m0 9v2m0 1v2m0 4v1m0 4v1m0 28v2m0 9v1m0 8v1m0 4v1m0 30v1m0 4v1m0 26v1m0 15v1m0 1v1m0 11v2m0 9v2m0 9v1m0 35v1m0 9v1m0 26v1m0 4v2m0 16v2m0 2v2m0 45v1m0 15v2m0 6v1m0 3v1m0 2v1m0 10v2m0 29v1M290.5 227v2m0 10v1m0 8v1m0 8v3m0 9v1m0 1v2m0 15v1m0 7v1m0 16v1m0 1v1m0 6v1m0 5v1m0 4v1m0 3v1m0 7v1m0 17v2m0 11v1m0 12v1m0 6v2m0 14v2m0 4v2m0 6v1m0 22v2m0 1v1m0 1v2m0 2v2m0 3v2m0 1v1m0 17v1m0 3v1m0 4v1m0 29v1m0 18v1m0 2v1m0 13v1m0 19v2m0 72v1m0 7v1m0 10v2M329.5 218v2m0 32v1m0 2v1m0 17v1m0 5v1m0 9v2m0 31v1m0 22v1m0 3v4m0 2v1m0 13v2m0 25v2m0 1v1m0 2v1m0 8v1m0 9v1m0 19v2m0 9v1m0 3v1m0 6v2m0 23v1m0 1v3m0 5v3m0 4v1m0 9v1m0 13v1m0 4v2m0 34v2m0 1v3m0 52v2m0 9v1m0 14v2M358.5 226v1m0 7v1m0 23v2m0 9v1m0 1v2m0 1v1m0 26v1m0 17v1m0 5v2m0 1v1m0 5v2m0 6v1m0 6v1m0 5v1m0 12v1m0 13v1m0 12v3m0 2v2m0 5v1m0 5v1m0 2v1m0 13v1m0 52v1m0 14v2m0 2v1m0 16v1m0 12v1m0 3v1m0 17v1m0 8v1m0 15v2m0 4v1m0 27v3m0 2v1m0 12v1m0 39v1M397.5 217v1m0 16v1m0 20v1m0 14v1m0 5v2m0 11v3m0 6v2m0 27v1m0 9v1m0 9v2m0 18v1m0 3v1m0 8v1m0 23v1m0 3v1m0 4v1m0 6v1m0 6v3m0 8v1m0 48v1m0 94v1m0 7v2m0 3v1m0 21v1m0 14v2M436.5 211v1m0 5v1m0 13v2m0 22v1m0 1v1m0 2v1m0 15v3m0 23v2m0 19v1m0 22v1m0 22v2m0 12v2m0 24v2m0 16v2m0 41v1m0 18v1m0 13v2m0 10v1m0 12v1m0 3v1m0 8v1m0 4v1M475.5 209v2m0 23v2m0 11v2m0 12v1m0 4v4m0 4v1m0 22v1m0 48v1m0 4v2m0 2v1m0 7v1m0 4v1m0 20v1m0 2v2m0 6v4m0 9v1m0 11v1m0 3v1m0 4v1m0 1v3m0 19v2m0 21v2m0 28v1m0 29v1m0 9v1m0 2v1m0 6v2m0 11v2M514.5 226v1m0 25v1m0 2v1m0 8v1m0 5v1m0 3v1m0 27v2m0 7v2m0 5v1m0 3v1m0 53v1m0 10v2m0 2v1m0 11v1m0 1v2m0 10v1m0 5v2m0 2v2m0 37v1m0 3v1m0 1v2m0 10v1m0 8v1m0 16v1m0 22v1m0 45v2m0 2v2m0 59v1m0 27v2M553.5 211v1m0 3v2m0 22v1m0 17v1m0 8v1m0 33v1m0 48v1m0 3v1m0 4v1m0 6v2m0 11v2m0 5v2m0 15v1m0 24v2m0 18v1m0 12v1m0 20v2m0 7v2m0 10v1m0 2v1m0 4v1m0 8v1m0 5v3m0 5v1m0 18v2m0 4v1m0 2v2m0 38v2m0 5v1m0 18v1M592.5 235v1m0 4v2m0 2v1m0 7v1m0 5v2m0 1v1m0 5v3m0 3v2m0 7v1m0 13v2m0 11v1m0 3v1m0 1v1m0 8v1m0 9v2m0 2v2m0 6v1m0 11v1m0 24v2m0 5v1m0 25v1m0 21v1m0 4v1m0 1v2m0 1v1m0 18v2m0 10v1m0 17v1m0 58v3m0 51v2m0 10v1m0 3v1"/>
<path stroke="#0000da" stroke-width="9.5" d="M621.75 225v1m0 8v1m0 4v1m0 8v1m0 15v1m0 1v1m0 2v1m0 22v1m0 8v1m0 3v1m0 3v1m0 3v1m0 2v2m0 9v1m0 13v1m0 1v2m0 1v1m0 4v2m0 6v1m0 2v2m0 1v2m0 2v2m0 12v2m0 9v1m0 4v1m0 14v2m0 7v3m0 12v1m0 19v2m0 2v1m0 2v1m0 3v1m0 22v1m0 8v4m0 5v1m0 12v1m0 12v1m0 2v2m0 2v2m0 46v1m0 6v1m0 9v1m0 8v1"/>
<path stroke="#0000da" stroke-width="10" d="M86 231v2m0 9v1m0 6v2m0 10v1m0 8v4m0 10v1m0 15v1m0 1v2m0 16v2m0 3v2m0 1v1m0 4v1m0 21v1m0 2v1m0 3v1m0 19v1m0 4v2m0 5v1m0 7v1m0 27v1m0 7v1m0 21v1m0 9v2m0 2v1m0 17v1m0 3v1m0 39v1m0 27v1m0 12v1m0 5v2m0 1v1m0 20v1m0 20v2m0 7v2m0 1v1m0 17v1m0 2v1m0 10v2M105 218v2m0 4v2m0 10v2m0 2v2m0 6v1m0 2v1m0 3v1m0 8v1m0 4v1m0 45v1m0 4v2m0 16v2m0 14v2m0 9v2m0 6v1m0 3v3m0 7v2m0 14v1m0 5v2m0 6v1m0 29v1m0 1v2m0 29v1m0 16v1m0 2v1m0 17v1m0 11v2m0 7v2m0 10v1m0 76v3m0 4v1m0 7v1m0 1v2m0 5v1m0 22v1m0 1v2m0 7v2M115 209v2m0 9v1m0 4v1m0 9v1m0 8v1m0 3v1m0 16v1m0 10v2m0 2v2m0 16v2m0 10v1m0 9v2m0 21v2m0 2v2m0 23v1m0 4v1m0 3v2m0 7v1m0 18v2m0 11v3m0 22v1m0 1v2m0 49v1m0 8v1m0 13v1m0 13v1m0 26v1m0 16v2m0 5v2m0 9v1m0 8v1m0 10v3m0 17v1m0 22v1m0 2v1m0 15v2m0 5v1m0 1v2M125 216v1m0 8v1m0 3v1m0 17v1m0 5v2m0 2v1m0 13v2m0 25v2m0 24v1m0 13v2m0 37v1m0 11v1m0 21v1m0 1v1m0 18v2m0 5v1m0 39v1m0 14v2m0 4v1m0 1v1m0 7v1m0 8v1m0 9v1m0 6v1m0 17v1m0 3v1m0 5v1m0 14v2m0 2v2m0 15v1m0 12v1m0 25v2m0 2v1m0 21v1m0 5v1m0 9v2m0 3v2M144 247v1m0 19v2m0 10v1m0 4v1m0 19v1m0 32v1m0 39v1m0 3v1m0 14v2m0 11v2m0 7v2m0 6v1m0 7v1m0 4v1m0 27v2m0 15v1m0 8v1m0 21v1m0 9v2m0 1v1m0 1v3m0 5v1m0 25v1m0 5v2m0 2v2m0 3v2m0 7v2m0 4v1m0 3v1m0 68v1m0 2v1M154 209v2m0 1v1m0 31v1m0 17v3m0 13v2m0 13v1m0 13v2m0 4v1m0 8v1m0 4v2m0 8v1m0 9v2m0 11v2m0 3v2m0 24v1m0 8v2m0 28v1m0 59v2m0 4v1m0 5v1m0 4v2m0 16v2m0 10v1m0 7v1m0 8v1m0 9v1m0 4v3m0 2v2m0 5v1m0 13v1m0 4v1m0 24v2m0 5v2m0 5v1m0 19v2m0 15v1m0 11v1m0 1v2M164 220v1m0 1v2m0 2v1m0 4v2m0 25v2m0 4v1m0 4v1m0 8v2m0 5v2m0 15v2m0 12v3m0 9v1m0 13v1m0 10v1m0 15v2m0 29v2m0 9v1m0 4v1m0 18v1m0 20v1m0 15v2m0 1v1m0 14v2m0 4v1m0 1v2m0 7v2m0 28v1m0 3v1m0 1v3m0 5v1m0 46v1m0 19v1m0 26v2m0 29v1m0 16v1M183 205v2m0 1v1m0 9v2m0 1v1m0 11v1m0 2v2m0 15v2m0 10v1m0 10v2m0 1v1m0 8v3m0 2v1m0 24v1m0 23v1m0 6v1m0 44v4m0 13v2m0 17v1m0 1v2m0 13v1m0 14v1m0 7v1m0 9v3m0 35v1m0 1v1m0 4v3m0 2v2m0 13v1m0 23v1m0 7v1m0 1v2m0 4v1m0 8v1m0 14v1m0 3v1m0 5v2m0 5v1m0 1v2m0 7v2m0 1v1m0 8v1m0 9v2m0 6v1m0 6v1M193 208v1m0 9v2m0 1v1m0 2v1m0 4v1m0 9v1m0 18v2m0 4v1m0 11v2m0 7v3m0 5v1m0 3v1m0 22v2m0 15v1m0 3v2m0 15v1m0 5v1m0 7v1m0 35v1m0 3v1m0 47v1m0 13v1m0 6v2m0 6v3m0 4v1m0 3v1m0 6v2m0 9v1m0 2v2m0 1v1m0 5v2m0 9v1m0 1v3m0 39v1m0 24v2m0 7v2m0 27v1m0 9v1m0 8v1m0 6v1M203 211v1m0 14v3m0 1v1m0 2v1m0 5v1m0 5v2m0 29v2m0 10v1m0 12v1m0 9v2m0 3v2m0 2v2m0 3v2m0 31v1m0 4v1m0 1v2m0 4v1m0 1v1m0 15v1m0 8v1m0 17v2m0 2v3m0 7v1m0 5v2m0 15v1m0 27v2m0 6v3m0 4v2m0 7v1m0 3v1m0 23v1m0 9v2m0 2v2m0 1v1m0 5v2m0 1v1m0 10v2m0 2v3m0 9v1m0 5v2m0 28v1m0 60v1m0 1v1M222 205v2m0 1v3m0 16v2m0 2v2m0 3v3m0 4v1m0 11v1m0 13v1m0 5v1m0 24v1m0 40v1m0 5v2m0 13v1m0 2v2m0 6v1m0 17v1m0 12v1m0 4v2m0 3v3m0 8v1m0 1v3m0 4v1m0 1v2m0 9v1m0 17v1m0 5v3m0 11v2m0 6v1m0 7v1m0 37v2m0 5v1m0 2v1m0 24v2m0 23v1m0 22v1m0 7v1m0 8v1m0 17v1m0 9v3m0 23v1M232 227v2m0 2v2m0 5v1m0 10v2m0 5v1m0 4v1m0 4v1m0 17v1m0 9v2m0 13v2m0 12v1m0 4v3m0 19v1m0 5v2m0 2v2m0 11v1m0 40v2m0 23v1m0 53v1m0 24v1m0 11v2m0 19v1m0 62v2m0 16v2m0 27v1M242 211v1m0 6v2m0 1v1m0 4v3m0 13v1m0 2v3m0 13v1m0 22v1m0 8v1m0 10v1m0 4v1m0 5v3m0 10v1m0 4v1m0 3v1m0 24v1m0 8v1m0 1v1m0 7v2m0 15v1m0 9v1m0 8v1m0 17v1m0 4v1m0 4v2m0 19v1m0 14v2m0 10v3m0 2v2m0 14v1m0 3v1m0 2v2m0 6v1m0 12v1m0 56v1m0 10v2m0 7v2m0 9v1m0 1v2m0 13v1m0 26v1m0 1v1M261 212v3m0 11v1m0 16v1m0 3v1m0 18v1m0 29v1m0 16v1m0 13v1m0 1v2m0 5v2m0 27v2m0 6v1m0 30v1m0 11v1m0 5v1m0 15v1m0 1v1m0 19v1m0 4v1m0 3v1m0 50v1m0 7v1m0 3v1m0 1v2m0 47v2m0 11v2m0 11v1m0 7v1m0 1v2m0 15v1m0 8v2m0 1v1m0 14v2m0 3v2m0 6v1M271 207v1m0 4v1m0 2v1m0 1v3m0 13v3m0 4v4m0 5v2m0 2v2m0 25v2m0 3v3m0 30v1m0 14v1m0 43v3m0 2v1m0 16v1m0 2v1m0 8v1m0 15v2m0 7v2m0 31v1m0 2v2m0 2v2m0 9v1m0 2v3m0 8v1m0 10v2m0 13v1m0 41v3m0 1v1m0 11v1m0 9v3m0 3v2m0 2v2m0 10v1m0 45v2m0 9v1M281 213v2m0 3v2m0 1v1m0 5v2m0 5v2m0 12v1m0 4v2m0 21v2m0 13v1m0 24v2m0 15v3m0 1v1m0 9v2m0 27v2m0 4v1m0 9v2m0 2v2m0 18v1m0 5v3m0 1v1m0 3v1m0 7v2m0 12v1m0 1v2m0 13v1m0 2v2m0 7v2m0 28v4m0 48v1m0 27v1m0 13v2m0 2v3m0 5v1m0 17v1m0 4v1m0 29v1m0 10v2m0 3v2m0 1v1M300 224v1m0 9v1m0 1v2m0 20v2m0 15v1m0 12v3m0 7v2m0 5v1m0 9v1m0 2v1m0 1v2m0 18v1m0 6v2m0 5v1m0 7v1m0 11v2m0 20v2m0 2v2m0 43v2m0 5v1m0 14v2m0 7v2m0 7v2m0 2v1m0 11v1m0 30v1m0 5v1m0 12v1m0 2v1m0 3v1m0 20v2m0 38v2m0 2v2m0 5v1m0 3v1m0 8v1m0 1v3m0 5v1m0 35v1M310 215v1m0 1v1m0 4v2m0 12v3m0 8v1m0 4v1m0 2v1m0 42v2m0 6v1m0 20v4m0 10v1m0 23v2m0 5v1m0 1v2m0 7v2m0 1v1m0 7v1m0 13v1m0 20v3m0 29v1m0 4v1m0 2v1m0 4v1m0 55v3m0 3v2m0 7v1m0 4v2m0 6v1m0 27v1m0 8v1m0 3v1m0 16v1m0 2v2m0 31v1m0 24v2m0 5v1m0 4v1M320 212v4m0 2v2m0 6v1m0 20v2m0 3v1m0 16v1m0 1v2m0 6v1m0 26v3m0 41v1m0 7v1m0 3v2m0 1v2m0 2v2m0 6v1m0 7v1m0 3v1m0 4v1m0 3v1m0 9v4m0 17v1m0 1v1m0 24v1m0 6v2m0 22v1m0 9v1m0 17v1m0 14v2m0 2v2m0 34v2m0 63v1m0 5v2m0 1v1m0 3v1m0 21v1M339 216v1m0 3v1m0 1v3m0 14v1m0 12v1m0 7v1m0 3v1m0 13v2m0 12v1m0 31v1m0 16v1m0 3v2m0 3v1m0 14v2m0 6v1m0 16v1m0 43v1m0 6v2m0 10v1m0 4v2m0 36v1m0 9v1m0 8v1m0 34v1m0 14v3m0 5v1m0 18v2m0 14v1m0 25v2m0 18v2m0 11v1M349 211v1m0 23v1m0 7v1m0 3v1m0 7v1m0 8v2m0 3v1m0 21v1m0 9v1m0 12v1m0 5v2m0 58v1m0 1v1m0 17v2m0 11v1m0 27v2m0 5v1m0 7v1m0 14v1m0 11v1m0 6v2m0 11v2m0 1v1m0 16v1m0 8v2m0 16v2m0 13v2m0 46v1m0 2v1m0 9v1m0 5v3m0 4v1m0 1v2M368 231v2m0 18v1m0 10v2m0 1v1m0 21v1m0 13v1m0 2v1m0 8v1m0 4v1m0 3v1m0 2v2m0 7v2m0 11v2m0 22v1m0 1v1m0 8v3m0 17v1m0 13v1m0 5v1m0 18v2m0 10v1m0 9v2m0 1v1m0 31v2m0 23v1m0 8v1m0 31v1m0 3v1m0 21v1m0 14v2m0 1v1m0 4v1m0 4v1m0 3v3m0 7v2m0 9v1m0 6v2m0 2v2M378 212v1m0 9v2m0 15v1m0 15v1m0 6v5m0 3v1m0 7v1m0 1v2m0 20v3m0 13v1m0 9v1m0 21v1m0 26v1m0 5v2m0 2v2m0 7v3m0 3v2m0 1v2m0 4v1m0 2v3m0 1v2m0 7v2m0 18v1m0 17v1m0 3v1m0 8v1m0 8v1m0 26v1m0 13v1m0 3v1m0 6v2m0 27v1m0 13v1m0 16v1m0 16v1m0 6v2m0 3v2m0 2v2m0 18v1m0 1v2m0 10v1m0 19v2M388 222v2m0 24v1m0 15v1m0 9v1m0 3v4m0 18v2m0 27v2m0 2v1m0 3v1m0 15v1m0 14v1m0 5v2m0 10v1m0 8v1m0 7v1m0 9v1m0 13v2m0 11v1m0 12v4m0 10v2m0 40v1m0 10v1m0 4v2m0 1v1m0 45v3m0 5v1m0 8v1m0 4v2m0 25v2M407 212v1m0 4v1m0 2v1m0 10v2m0 14v1m0 7v1m0 13v2m0 4v1m0 7v1m0 3v1m0 18v1m0 11v2m0 20v1m0 8v1m0 4v2m0 13v2m0 6v1m0 35v1m0 8v3m0 2v2m0 6v1m0 2v1m0 6v2m0 5v1m0 4v1m0 13v1m0 24v1m0 14v1m0 9v2m0 20v2m0 28v1m0 2v2m0 39v1m0 16v1M417 216v1m0 26v1m0 1v2m0 2v3m0 17v1m0 3v2m0 3v1m0 13v1m0 4v1m0 7v1m0 3v1m0 8v2m0 13v1m0 6v1m0 17v1m0 10v2m0 2v3m0 23v1m0 3v1m0 7v1m0 36v1m0 2v2m0 18v3m0 5v1m0 12v1m0 18v1m0 3v1m0 7v1m0 1v2m0 31v1m0 14v3m0 3v2m0 1v1m0 12v1m0 12v1m0 1v2m0 20v2m0 20v2M427 208v1m0 9v2m0 58v1m0 12v1m0 24v2m0 42v2m0 2v1m0 4v2m0 7v3m0 5v1m0 16v1m0 7v1m0 15v2m0 1v1m0 3v1m0 1v2m0 13v2m0 1v2m0 55v1m0 27v3m0 1v2m0 1v1m0 16v1m0 8v1m0 10v2m0 40v1M446 218v2m0 20v2m0 3v2m0 2v2m0 27v1m0 12v1m0 12v1m0 29v2m0 11v2m0 20v2m0 2v1m0 7v1m0 3v1m0 3v1m0 21v1m0 8v1m0 17v1m0 17v1m0 5v1m0 2v1m0 5v3m0 7v2m0 6v1m0 15v1m0 5v1m0 18v2m0 9v1m0 3v1m0 17v1m0 14v1m0 17v2m0 10v1m0 16v1m0 14v1m0 20v1M456 221v1m0 2v1m0 1v1m0 9v2m0 7v2m0 4v1m0 3v1m0 36v2m0 2v1m0 5v3m0 31v1m0 10v2m0 6v3m0 5v1m0 17v1m0 1v2m0 5v1m0 3v2m0 13v2m0 7v2m0 5v1m0 4v1m0 13v1m0 26v3m0 5v1m0 22v1m0 6v1m0 14v1m0 9v3m0 1v1m0 15v2m0 13v1m0 11v1m0 25v1m0 18v1m0 1v2m0 5v1m0 27v2M466 209v3m0 5v1m0 9v2m0 33v2m0 15v1m0 16v2m0 11v1m0 24v3m0 3v1m0 14v1m0 6v1m0 33v2m0 1v1m0 5v2m0 2v2m0 12v2m0 9v1m0 4v2m0 30v1m0 3v1m0 5v2m0 10v1m0 18v2m0 2v2m0 6v1m0 11v1m0 1v1m0 3v1m0 13v2m0 3v2m0 7v3m0 3v1m0 30v1m0 14v1M485 234v1m0 21v1m0 3v1m0 30v1m0 33v3m0 14v1m0 19v1m0 18v1m0 7v1m0 13v1m0 9v1m0 15v2m0 35v1m0 3v1m0 5v2m0 2v1m0 11v1m0 5v2m0 43v2m0 1v3m0 15v1m0 2v2m0 8v1m0 4v1m0 8v1m0 20v1m0 9v1m0 17v1m0 8v1M495 205v2m0 18v1m0 9v1m0 4v2m0 1v1m0 5v2m0 1v1m0 14v3m0 6v3m0 3v1m0 13v1m0 12v1m0 13v2m0 31v2m0 11v2m0 1v1m0 3v1m0 8v1m0 13v1m0 3v1m0 3v1m0 1v2m0 2v1m0 9v2m0 40v1m0 1v2m0 31v1m0 26v1m0 50v1m0 9v2m0 45v1m0 17v1M505 205v2m0 5v1m0 8v1m0 13v1m0 21v1m0 29v1m0 34v1m0 41v1m0 7v1m0 4v4m0 6v2m0 1v1m0 9v2m0 1v1m0 1v2m0 6v1m0 6v1m0 19v1m0 17v2m0 5v1m0 4v1m0 13v1m0 2v1m0 4v2m0 8v1m0 4v2m0 3v2m0 7v2m0 4v1m0 8v1m0 5v1m0 35v1m0 3v1m0 12v1m0 2v1m0 11v2m0 6v1m0 13v2m0 6v3m0 11v2M524 208v1m0 3v1m0 16v1m0 22v3m0 3v2m0 1v1m0 20v1m0 71v1m0 8v1m0 12v2m0 9v2m0 1v1m0 11v1m0 17v1m0 24v2m0 1v1m0 9v2m0 38v2m0 1v1m0 31v1m0 5v2m0 4v1m0 3v1m0 14v1m0 3v1m0 7v1m0 41v1m0 15v1M534 222v4m0 23v2m0 10v1m0 13v1m0 3v1m0 35v1m0 4v2m0 1v1m0 4v1m0 2v1m0 2v2m0 20v2m0 5v1m0 5v3m0 5v1m0 39v1m0 12v1m0 4v1m0 9v2m0 7v2m0 22v1m0 26v1m0 4v1m0 17v1m0 8v1m0 40v1m0 40v2m0 6v1M544 211v1m0 3v1m0 6v2m0 1v2m0 11v1m0 5v1m0 8v2m0 2v1m0 3v1m0 9v2m0 38v2m0 2v1m0 25v1m0 1v2m0 5v1m0 8v1m0 11v1m0 2v2m0 2v2m0 3v2m0 7v2m0 17v1m0 23v1m0 8v4m0 33v2m0 9v1m0 9v3m0 6v1m0 9v2m0 2v2m0 12v2m0 6v3m0 8v1m0 20v2m0 38v2m0 6v1m0 9v2M563 212v1m0 3v1m0 8v1m0 4v1m0 3v1m0 18v2m0 27v1m0 28v2m0 1v1m0 14v2m0 9v1m0 6v2m0 34v2m0 19v1m0 2v1m0 4v1m0 9v1m0 7v1m0 12v1m0 3v1m0 9v1m0 16v1m0 10v2m0 16v2m0 5v1m0 8v1m0 25v2m0 16v1m0 1v2m0 14v4m0 14v1m0 32v2M573 225v1m0 21v1m0 16v2m0 3v1m0 13v1m0 14v2m0 4v2m0 25v1m0 5v1m0 15v1m0 50v1m0 21v1m0 3v1m0 4v1m0 3v1m0 40v1m0 35v2m0 2v1m0 2v1m0 6v2m0 10v1m0 17v1m0 3v1m0 33v1m0 4v1m0 35v1m0 13v1M583 213v2m0 16v2m0 14v1m0 9v1m0 6v1m0 2v2m0 4v1m0 27v1m0 2v1m0 18v1m0 18v1m0 17v2m0 10v1m0 65v1m0 4v1m0 4v1m0 12v2m0 4v2m0 25v2m0 10v1m0 16v1m0 35v1m0 19v2m0 22v1m0 6v2M602 209v2m0 11v4m0 10v2m0 31v1m0 23v1m0 19v1m0 27v1m0 26v1m0 2v1m0 18v1m0 16v1m0 6v2m0 6v3m0 29v2m0 2v2m0 3v2m0 29v2m0 10v1m0 13v1m0 13v2m0 37v1m0 8v1m0 3v1m0 63v2M612 209v2m0 2v2m0 10v1m0 4v1m0 8v1m0 5v2m0 4v1m0 6v3m0 1v2m0 27v1m0 14v1m0 17v1m0 4v2m0 5v1m0 4v1m0 12v1m0 19v2m0 19v1m0 4v2m0 16v2m0 18v1m0 1v1m0 10v1m0 8v1m0 6v2m0 10v1m0 5v2m0 6v1m0 4v2m0 2v1m0 6v1m0 26v1m0 19v2m0 15v1m0 42v1m0 2v2"/>
<path stroke="#0000ed" stroke-width="9" d="M76.5 208v1m0 8v1m0 9v2m0 11v2m0 2v1m0 17v2m0 7v2m0 15v1m0 22v2m0 21v2m0 1v1m0 8v4m0 6v2m0 4v1m0 4v1m0 1v2m0 2v1m0 2v1m0 8v1m0 6v3m0 7v1m0 9v1m0 1v2m0 2v2m0 1v1m0 10v2m0 19v1m0 3v1m0 16v1m0 15v2m0 2v2m0 14v1m0 7v1m0 22v1m0 17v1m0 4v1m0 25v1m0 35v1m0 5v2m0 16v2m0 19v1M95.5 216v2m0 4v2m0 3v4m0 17v1m0 3v1m0 5v2m0 4v1m0 1v1m0 3v1m0 12v1m0 1v2m0 13v1m0 8v1m0 10v2m0 1v1m0 22v1m0 7v2m0 3v1m0 4v1m0 2v1m0 12v1m0 2v2m0 2v2m0 2v1m0 6v1m0 22v1m0 7v1m0 1v1m0 2v1m0 19v2m0 1v1m0 9v2m0 6v3m0 1v1m0 3v1m0 13v1m0 8v3m0 6v1m0 42v1m0 73v3m0 6v2m0 14v1m0 17v1m0 17v1M134.5 225v1m0 5v2m0 7v2m0 3v2m0 4v1m0 1v2m0 6v1m0 17v1m0 5v2m0 13v1m0 5v1m0 12v1m0 5v2m0 5v1m0 3v1m0 6v2m0 5v1m0 7v2m0 3v1m0 7v1m0 1v1m0 3v1m0 7v1m0 1v2m0 16v2m0 1v1m0 2v1m0 1v1m0 3v1m0 12v1m0 20v1m0 42v2m0 2v2m0 1v2m0 13v2m0 16v2m0 1v1m0 1v2m0 28v1m0 4v2m0 3v2m0 15v4m0 18v1m0 8v1m0 6v1m0 24v2m0 1v1m0 7v1m0 3v1M173.5 208v1m0 12v1m0 2v1m0 2v2m0 4v1m0 6v3m0 5v1m0 7v1m0 27v1m0 19v1m0 6v2m0 10v1m0 7v1m0 11v2m0 10v1m0 3v1m0 14v2m0 15v1m0 12v1m0 3v1m0 3v1m0 13v1m0 48v1m0 3v1m0 5v2m0 5v1m0 7v1m0 15v2m0 7v2m0 15v1m0 15v1m0 2v2m0 6v1m0 7v1m0 20v1m0 9v2m0 2v1m0 6v2m0 19v1m0 2v1m0 23v1m0 7v1M212.5 205v2m0 10v1m0 4v2m0 2v3m0 2v2m0 1v1m0 12v1m0 10v2m0 32v2m0 19v1m0 9v1m0 14v2m0 6v1m0 7v1m0 1v2m0 4v1m0 5v1m0 12v1m0 9v1m0 12v1m0 4v2m0 5v1m0 10v2m0 43v2m0 1v4m0 11v2m0 11v2m0 14v1m0 12v1m0 1v2m0 1v1m0 8v3m0 2v1m0 29v1m0 1v2m0 9v1m0 3v1m0 15v2m0 2v1m0 6v1m0 10v1m0 2v2m0 2v1m0 19v2m0 5v1m0 6v2M251.5 217v1m0 2v1m0 12v1m0 13v2m0 3v3m0 9v1m0 1v1m0 3v1m0 7v1m0 17v1m0 23v2m0 27v1m0 1v2m0 6v1m0 3v1m0 3v1m0 5v1m0 6v1m0 14v1m0 12v3m0 29v1m0 6v1m0 6v2m0 4v1m0 14v1m0 5v2m0 10v1m0 18v2m0 9v2m0 13v1m0 7v1m0 26v1m0 75v1m0 15v1m0 6v2m0 3v2m0 6v1M290.5 238v1m0 10v2m0 15v1m0 3v1m0 4v1m0 2v1m0 3v1m0 15v2m0 4v1m0 14v1m0 3v2m0 29v1m0 4v1m0 2v1m0 5v1m0 2v1m0 1v1m0 6v1m0 1v1m0 21v1m0 18v3m0 1v2m0 9v2m0 34v1m0 5v1m0 21v3m0 7v2m0 7v2m0 1v3m0 3v2m0 22v1m0 28v2m0 6v1m0 2v1m0 19v2m0 2v1m0 16v1m0 12v1m0 7v1m0 29v2m0 1v1m0 2v1M329.5 205v2m0 10v1m0 15v1m0 1v4m0 8v1m0 5v2m0 6v1m0 3v1m0 4v1m0 3v1m0 9v1m0 15v5m0 4v1m0 1v2m0 7v2m0 2v3m0 10v1m0 21v3m0 1v1m0 16v1m0 6v2m0 5v1m0 22v1m0 7v1m0 9v1m0 9v2m0 2v3m0 2v2m0 2v2m0 1v1m0 3v1m0 12v1m0 66v1m0 3v2m0 3v1m0 57v1m0 6v2m0 14v1m0 1v2m0 33v2m0 18v1M358.5 205v2m0 2v2m0 4v1m0 5v1m0 2v2m0 17v1m0 7v1m0 21v1m0 1v1m0 11v1m0 22v1m0 2v1m0 10v1m0 7v1m0 20v1m0 10v1m0 13v2m0 6v1m0 3v1m0 11v1m0 11v2m0 24v1m0 2v1m0 1v2m0 10v1m0 3v1m0 9v1m0 24v2m0 2v1m0 5v1m0 8v1m0 8v1m0 20v2m0 3v1m0 9v1m0 31v2m0 16v3m0 13v1M397.5 208v1m0 9v2m0 13v1m0 1v1m0 9v2m0 18v1m0 8v2m0 6v3m0 8v1m0 21v1m0 13v2m0 20v3m0 14v1m0 22v4m0 8v1m0 3v1m0 9v3m0 5v1m0 8v1m0 10v3m0 17v1m0 3v1m0 4v2m0 14v2m0 13v2m0 16v1m0 3v1m0 11v2m0 14v1m0 8v1m0 38v1m0 1v2m0 55v1m0 3v1M436.5 205v2m0 14v1m0 2v1m0 10v1m0 2v2m0 18v2m0 1v1m0 17v1m0 9v2m0 6v5m0 8v1m0 5v3m0 1v2m0 7v2m0 3v2m0 14v1m0 5v2m0 1v3m0 6v1m0 17v3m0 2v1m0 2v1m0 16v1m0 5v1m0 2v1m0 2v2m0 4v1m0 4v2m0 17v1m0 7v1m0 3v1m0 14v3m0 15v2m0 5v1m0 5v1m0 9v2m0 13v1m0 6v3m0 15v2m0 1v1m0 17v1m0 7v1m0 17v1m0 16v1m0 10v1m0 6v1m0 24v2M475.5 211v1m0 8v1m0 3v2m0 12v1m0 17v1m0 5v2m0 1v1m0 26v1m0 3v1m0 1v2m0 13v1m0 2v2m0 11v2m0 11v1m0 11v1m0 16v1m0 1v1m0 7v1m0 9v1m0 24v1m0 5v1m0 20v1m0 1v2m0 42v1m0 7v1m0 4v1m0 27v2m0 11v2m0 5v1m0 9v1m0 8v1m0 7v1m0 3v1m0 1v2m0 14v1m0 12v1m0 4v1m0 14v2m0 6v1m0 11v1M514.5 207v1m0 10v2m0 27v1m0 1v2m0 2v2m0 1v1m0 1v2m0 22v1m0 9v1m0 7v1m0 9v1m0 14v2m0 9v1m0 1v2m0 18v1m0 5v1m0 9v2m0 1v1m0 4v1m0 7v1m0 16v1m0 6v3m0 13v1m0 27v2m0 14v1m0 3v1m0 22v2m0 9v2m0 1v1m0 5v2m0 18v2m0 49v2m0 4v1m0 2v2M553.5 218v2m0 14v1m0 21v1m0 4v1m0 35v3m0 19v1m0 7v2m0 12v1m0 9v2m0 14v1m0 6v2m0 11v2m0 7v2m0 25v2m0 4v1m0 5v3m0 1v1m0 21v1m0 7v1m0 6v2m0 2v1m0 3v1m0 12v1m0 5v2m0 2v2m0 6v1m0 40v2m0 10v1m0 10v4M592.5 211v1m0 12v2m0 3v1m0 4v1m0 16v1m0 3v1m0 37v1m0 4v2m0 6v1m0 30v1m0 4v1m0 28v1m0 20v2m0 2v2m0 19v1m0 5v2m0 2v2m0 23v1m0 3v1m0 6v2m0 13v1m0 15v2m0 16v2m0 10v1m0 39v3m0 1v1m0 10v2m0 4v3m0 2v1m0 40v1m0 12v1"/>
<path stroke="#0000ed" stroke-width="9.5" d="M621.75 215v1m0 29v2m0 2v2m0 7v3m0 1v2m0 10v1m0 7v2m0 5v2m0 6v1m0 2v1m0 22v1m0 4v3m0 18v1m0 14v1m0 8v1m0 12v1m0 2v1m0 17v1m0 4v1m0 14v2m0 5v1m0 1v2m0 29v2m0 1v1m0 1v2m0 11v2m0 19v1m0 11v1m0 2v2m0 6v1m0 8v1m0 2v1m0 13v3m0 1v1m0 16v1m0 13v1m0 8v1m0 3v1m0 14v1"/>
<path stroke="#0000ed" stroke-width="10" d="M86 217v1m0 4v2m0 2v4m0 3v1m0 6v2m0 2v1m0 3v1m0 64v1m0 10v1m0 52v1m0 2v2m0 3v1m0 4v2m0 25v1m0 34v2m0 7v1m0 5v2m0 52v2m0 27v1m0 4v1m0 16v1m0 25v1m0 15v2m0 23v1m0 4v1m0 5v2m0 10v1m0 2v1m0 4v1M105 215v2m0 5v2m0 6v1m0 21v1m0 4v1m0 36v2m0 8v2m0 3v1m0 18v1m0 18v2m0 9v2m0 11v1m0 8v1m0 2v2m0 6v1m0 7v1m0 5v3m0 3v1m0 17v1m0 26v1m0 10v2m0 20v1m0 16v1m0 2v1m0 27v1m0 4v1m0 15v1m0 8v1m0 4v1m0 17v1m0 18v1m0 40v2m0 22v1M115 217v1m0 13v2m0 7v2m0 10v1m0 4v1m0 25v1m0 7v1m0 2v2m0 4v4m0 1v1m0 13v1m0 3v1m0 8v1m0 5v4m0 7v1m0 4v1m0 3v1m0 35v1m0 12v2m0 17v1m0 33v1m0 1v1m0 17v1m0 11v1m0 10v2m0 10v1m0 13v1m0 12v3m0 9v2m0 2v1m0 28v1m0 6v1m0 9v3m0 2v1m0 33v1M125 205v2m0 2v2m0 1v1m0 36v2m0 14v1m0 7v2m0 1v3m0 4v1m0 1v2m0 4v1m0 1v1m0 7v1m0 3v2m0 4v2m0 10v1m0 7v1m0 4v1m0 3v2m0 7v1m0 10v2m0 5v1m0 3v2m0 12v1m0 6v2m0 10v1m0 3v1m0 12v1m0 7v1m0 4v1m0 16v1m0 2v2m0 6v1m0 3v1m0 7v2m0 20v1m0 12v1m0 13v1m0 1v2m0 22v1m0 35v1m0 4v1m0 3v1m0 4v1m0 5v2m0 1v1m0 9v1m0 2v1m0 4v1m0 17v1m0 22v1M144 217v1m0 12v1m0 5v2m0 11v2m0 10v1m0 4v1m0 25v1m0 16v1m0 10v3m0 5v1m0 11v1m0 12v1m0 5v1m0 25v1m0 13v1m0 5v2m0 4v1m0 28v1m0 2v1m0 9v3m0 14v1m0 27v2m0 14v1m0 28v2m0 24v1m0 3v1m0 8v1m0 13v2m0 11v1m0 21v1m0 2v1m0 21v1m0 22v1M154 221v1m0 3v1m0 5v2m0 2v1m0 9v2m0 2v2m0 14v2m0 8v1m0 7v1m0 18v3m0 14v1m0 22v1m0 7v1m0 2v2m0 13v3m0 9v1m0 2v2m0 7v2m0 5v1m0 25v1m0 8v1m0 5v1m0 2v2m0 2v1m0 17v1m0 3v1m0 27v3m0 10v1m0 4v1m0 17v3m0 27v1m0 9v1m0 17v1m0 42v1m0 8v1m0 13v1m0 27v1m0 7v1M164 212v1m0 4v1m0 30v1m0 8v1m0 8v1m0 4v2m0 9v2m0 3v1m0 3v1m0 9v1m0 2v1m0 2v2m0 2v3m0 5v1m0 3v1m0 8v1m0 12v1m0 8v1m0 1v2m0 4v1m0 2v2m0 1v1m0 12v1m0 3v1m0 12v1m0 5v3m0 1v1m0 16v1m0 5v1m0 8v3m0 1v1m0 9v2m0 36v1m0 31v1m0 3v2m0 34v3m0 38v2m0 1v1m0 21v1m0 10v2m0 5v1m0 1v2m0 19v1m0 2v1M183 227v2m0 14v1m0 5v2m0 7v2m0 14v1m0 36v2m0 9v2m0 9v3m0 11v2m0 13v1m0 18v2m0 48v1m0 4v2m0 5v1m0 5v2m0 10v1m0 10v2m0 10v1m0 3v1m0 8v1m0 2v1m0 13v1m0 17v1m0 13v1m0 4v1m0 2v1m0 5v1m0 2v1m0 9v1m0 26v1m0 33v1m0 15v2M193 205v2m0 2v2m0 14v1m0 8v1m0 17v1m0 3v1m0 9v1m0 6v2m0 4v3m0 19v1m0 4v1m0 4v2m0 5v1m0 3v1m0 8v1m0 2v2m0 4v1m0 5v1m0 13v3m0 31v1m0 10v2m0 2v2m0 9v2m0 4v1m0 5v2m0 9v1m0 40v1m0 12v1m0 22v1m0 17v1m0 10v1m0 10v1m0 9v2m0 1v1m0 5v2m0 11v3m0 18v1m0 12v1m0 1v2m0 45v1M203 205v2m0 2v2m0 20v2m0 1v1m0 9v1m0 7v3m0 3v2m0 27v1m0 16v2m0 13v1m0 3v1m0 10v2m0 5v1m0 1v2m0 9v1m0 1v2m0 4v1m0 6v2m0 11v1m0 11v2m0 12v3m0 7v2m0 45v2m0 3v1m0 1v2m0 1v1m0 4v1m0 3v1m0 3v1m0 30v1m0 1v2m0 4v1m0 4v1m0 1v2m0 2v1m0 3v1m0 2v1m0 3v1m0 35v1m0 8v1m0 12v1m0 18v1m0 1v2m0 13v1m0 3v1m0 11v2m0 2v2m0 9v1M222 213v2m0 19v1m0 4v1m0 2v1m0 8v1m0 4v1m0 28v2m0 5v1m0 3v1m0 9v1m0 15v1m0 6v2m0 7v2m0 6v1m0 3v1m0 8v1m0 20v1m0 1v1m0 15v1m0 59v2m0 7v3m0 5v1m0 2v1m0 18v1m0 2v1m0 11v2m0 11v5m0 17v2m0 32v1m0 6v2m0 31v1m0 18v3M232 211v2m0 8v3m0 2v1m0 15v2m0 7v1m0 5v1m0 43v1m0 4v1m0 15v1m0 11v2m0 2v2m0 22v1m0 2v3m0 6v2m0 16v2m0 19v1m0 11v1m0 14v1m0 15v1m0 3v1m0 24v2m0 2v1m0 12v1m0 11v1m0 8v1m0 4v1m0 3v1m0 5v1m0 4v2m0 16v2m0 14v1m0 14v2m0 16v2m0 18v1m0 5v1m0 2v1m0 19v2m0 25v2M242 215v1m0 27v1m0 5v3m0 4v2m0 12v1m0 34v1m0 4v1m0 18v2m0 33v1m0 2v1m0 6v2m0 1v1m0 29v1m0 5v1m0 7v1m0 7v1m0 17v1m0 8v1m0 1v2m0 11v1m0 20v1m0 12v1m0 9v1m0 7v1m0 9v3m0 7v2m0 2v2m0 15v1m0 5v2m0 1v1m0 24v1m0 6v2m0 6v1m0 13v1m0 3v1m0 8v1m0 18v2M261 207v1m0 34v1m0 15v2m0 4v1m0 13v1m0 26v1m0 5v2m0 7v2m0 2v1m0 3v1m0 11v1m0 9v3m0 9v1m0 5v1m0 9v2m0 3v2m0 6v1m0 17v2m0 7v2m0 9v1m0 5v1m0 43v1m0 21v1m0 9v1m0 6v2m0 3v1m0 17v1m0 8v1m0 12v1m0 10v2m0 3v2m0 1v1m0 17v1m0 13v2m0 9v1m0 21v1m0 31v2M271 208v3m0 2v2m0 9v1m0 14v1m0 58v2m0 1v1m0 3v1m0 7v1m0 5v1m0 9v2m0 7v2m0 23v1m0 1v2m0 13v1m0 14v1m0 2v1m0 5v3m0 14v1m0 23v2m0 4v1m0 1v1m0 25v1m0 8v1m0 4v1m0 2v1m0 6v2m0 23v1m0 10v2m0 9v1m0 4v1m0 7v1m0 35v1m0 9v3m0 11v2m0 3v2m0 2v2m0 1v2m0 10v1m0 37v1m0 6v1M281 231v2m0 6v1m0 2v1m0 2v2m0 5v1m0 45v2m0 13v1m0 1v1m0 3v1m0 3v1m0 32v2m0 9v1m0 5v1m0 6v1m0 9v1m0 7v1m0 4v1m0 10v2m0 5v1m0 3v1m0 17v2m0 3v1m0 2v1m0 1v1m0 7v1m0 5v2m0 1v1m0 9v1m0 7v2m0 12v1m0 6v1m0 11v2m0 95v1m0 24v1m0 3v1m0 15v2m0 27v1M300 205v2m0 22v1m0 9v3m0 10v1m0 7v1m0 1v2m0 5v4m0 1v1m0 7v1m0 10v1m0 2v1m0 3v1m0 9v1m0 8v1m0 9v2m0 12v2m0 6v2m0 2v1m0 2v1m0 6v2m0 13v1m0 5v1m0 15v1m0 6v2m0 27v2m0 1v2m0 1v1m0 13v2m0 1v1m0 1v2m0 1v1m0 7v1m0 6v2m0 5v1m0 3v1m0 3v1m0 5v1m0 6v1m0 6v2m0 3v2m0 6v1m0 6v1m0 2v2m0 9v1m0 1v2m0 5v1m0 9v1m0 18v2m0 10v1m0 16v2m0 42v1m0 24v2m0 4v1M310 220v1m0 3v1m0 4v1m0 5v1m0 4v3m0 6v3m0 5v1m0 3v1m0 7v4m0 34v2m0 1v1m0 22v1m0 6v1m0 1v1m0 6v1m0 8v1m0 3v1m0 1v1m0 4v2m0 10v1m0 13v1m0 18v2m0 18v1m0 18v1m0 2v1m0 13v1m0 7v1m0 4v1m0 5v1m0 2v1m0 12v1m0 5v1m0 4v2m0 21v2m0 29v2m0 10v3m0 9v1m0 23v1m0 2v1m0 14v1m0 10v1m0 2v2m0 31v1m0 8v1M320 209v2m0 11v2m0 9v1m0 1v1m0 9v2m0 8v1m0 2v2m0 6v1m0 3v1m0 16v1m0 5v1m0 11v1m0 3v1m0 1v2m0 2v1m0 7v1m0 9v1m0 3v1m0 2v1m0 71v1m0 12v2m0 7v2m0 18v2m0 2v2m0 10v1m0 4v1m0 4v1m0 2v1m0 41v2m0 18v1m0 1v2m0 1v1m0 7v1m0 1v1m0 11v1m0 26v1m0 10v2m0 2v2m0 2v3m0 59v1m0 11v1M339 207v1m0 3v1m0 15v2m0 41v1m0 11v1m0 1v1m0 16v3m0 18v1m0 8v1m0 2v2m0 1v1m0 2v1m0 2v2m0 33v2m0 14v1m0 10v3m0 8v1m0 31v4m0 4v1m0 21v1m0 1v1m0 3v1m0 5v2m0 5v1m0 12v1m0 3v1m0 24v2m0 6v2m0 15v1m0 14v2m0 19v1m0 11v1m0 4v1m0 1v2m0 11v2m0 22v1m0 4v1M349 207v1m0 13v1m0 8v1m0 3v1m0 4v1m0 4v1m0 6v1m0 6v2m0 2v2m0 14v1m0 10v2m0 19v1m0 12v1m0 8v1m0 1v2m0 1v1m0 3v2m0 59v1m0 4v1m0 10v2m0 74v3m0 39v1m0 1v1m0 8v2m0 28v2m0 13v2m0 5v1m0 47v1m0 4v1m0 1v2m0 5v2m0 11v1m0 9v1M368 209v2m0 4v1m0 2v2m0 1v1m0 18v2m0 3v2m0 8v1m0 2v3m0 8v2m0 5v2m0 11v2m0 6v4m0 1v2m0 10v1m0 8v2m0 3v1m0 16v1m0 4v1m0 40v1m0 8v2m0 16v2m0 7v3m0 5v1m0 2v1m0 13v1m0 4v1m0 4v1m0 8v1m0 4v2m0 3v2m0 4v1m0 12v1m0 15v2m0 10v1m0 21v1m0 5v2m0 18v1m0 8v1m0 6v2m0 22v1m0 18v1m0 11v1M378 205v3m0 13v1m0 18v2m0 5v1m0 10v2m0 13v1m0 26v1m0 6v2m0 13v1m0 1v1m0 4v2m0 3v2m0 9v1m0 13v1m0 7v1m0 1v3m0 13v1m0 3v1m0 58v1m0 3v1m0 67v1m0 34v1m0 20v1m0 4v1m0 53v1m0 13v1M388 207v1m0 13v1m0 2v1m0 2v2m0 28v1m0 4v2m0 1v1m0 17v1m0 9v1m0 13v2m0 18v1m0 34v1m0 8v1m0 5v1m0 2v1m0 1v1m0 19v1m0 5v1m0 35v1m0 20v1m0 26v1m0 5v2m0 7v2m0 3v3m0 3v1m0 20v2m0 28v1m0 11v1m0 3v1m0 19v2m0 1v1m0 32v2m0 11v2m0 10v1M407 211v1m0 12v1m0 4v1m0 3v1m0 1v1m0 24v1m0 1v2m0 10v1m0 9v1m0 11v1m0 8v1m0 5v2m0 14v1m0 17v1m0 7v1m0 18v1m0 7v1m0 6v2m0 7v2m0 5v1m0 14v2m0 21v2m0 1v1m0 20v2m0 7v1m0 8v1m0 4v1m0 26v1m0 34v1m0 7v1m0 22v1m0 5v3m0 1v1m0 2v1m0 17v1m0 14v1m0 4v2m0 1v2m0 7v1m0 25v1M417 205v3m0 28v2m0 4v1m0 9v1m0 31v1m0 2v2m0 7v1m0 4v1m0 4v3m0 13v1m0 2v3m0 15v2m0 11v2m0 14v1m0 12v1m0 1v2m0 31v1m0 1v1m0 2v4m0 12v2m0 20v2m0 1v1m0 16v1m0 4v1m0 32v2m0 1v1m0 3v1m0 21v1m0 16v1m0 2v2m0 16v2m0 2v2m0 40v1m0 13v1M427 205v3m0 3v1m0 4v1m0 14v2m0 19v1m0 4v1m0 24v1m0 5v1m0 13v2m0 11v1m0 16v2m0 8v1m0 11v1m0 4v1m0 23v2m0 35v1m0 8v1m0 17v1m0 19v2m0 6v1m0 3v1m0 5v2m0 1v1m0 7v1m0 3v1m0 2v2m0 10v1m0 5v6m0 18v1m0 13v1m0 27v1m0 4v2m0 1v1m0 8v1m0 3v1M446 220v1m0 1v3m0 6v2m0 2v1m0 6v1m0 4v2m0 6v1m0 1v1m0 6v1m0 15v2m0 18v1m0 19v2m0 5v2m0 2v1m0 1v1m0 7v1m0 1v2m0 6v2m0 24v1m0 16v1m0 3v1m0 5v1m0 2v1m0 17v1m0 5v1m0 20v1m0 7v1m0 2v2m0 14v1m0 4v1m0 9v3m0 1v3m0 13v1m0 3v1m0 4v2m0 11v1m0 6v2m0 7v2m0 1v1m0 5v2m0 16v2m0 19v1m0 2v1m0 17v1m0 4v1m0 8v1M456 217v1m0 7v1m0 16v2m0 20v1m0 26v1m0 8v2m0 5v2m0 14v1m0 3v1m0 1v5m0 19v1m0 11v2m0 4v1m0 4v1m0 8v1m0 18v3m0 1v1m0 12v1m0 1v2m0 27v1m0 3v1m0 24v2m0 13v1m0 36v1m0 8v1m0 9v2m0 10v3m0 5v1m0 18v1m0 6v1m0 9v1m0 23v2m0 5v1M466 205v2m0 5v1m0 11v1m0 26v1m0 1v2m0 19v1m0 10v3m0 10v2m0 7v2m0 1v1m0 27v2m0 14v1m0 1v2m0 5v1m0 10v2m0 4v1m0 8v1m0 40v1m0 25v1m0 49v1m0 36v2m0 9v1m0 4v1m0 17v1m0 54v2M485 229v1m0 5v1m0 2v1m0 12v1m0 9v1m0 7v2m0 3v1m0 14v2m0 2v1m0 2v1m0 1v2m0 4v1m0 15v2m0 16v3m0 5v1m0 2v1m0 18v6m0 17v1m0 10v1m0 8v1m0 9v1m0 5v2m0 12v2m0 11v2m0 29v2m0 22v1m0 13v1m0 26v1m0 1v2m0 7v2m0 35v1m0 18v1m0 18v1m0 15v1M495 244v1m0 16v1m0 32v2m0 8v1m0 6v2m0 7v2m0 24v1m0 48v1m0 4v2m0 24v1m0 21v1m0 21v1m0 1v2m0 1v1m0 3v1m0 1v2m0 24v2m0 5v1m0 23v3m0 19v1m0 6v1m0 14v1m0 4v1m0 26v2m0 1v4M505 218v2m0 2v3m0 2v2m0 1v1m0 3v1m0 3v1m0 10v2m0 1v1m0 29v1m0 10v1m0 3v1m0 6v1m0 5v3m0 23v1m0 5v1m0 15v1m0 53v1m0 9v3m0 4v1m0 19v3m0 5v1m0 17v1m0 24v1m0 8v1m0 13v1m0 9v1m0 12v1m0 25v1m0 30v1m0 12v1M524 224v1m0 19v1m0 6v1m0 4v2m0 7v1m0 4v1m0 9v2m0 9v1m0 4v1m0 5v2m0 1v1m0 18v1m0 12v3m0 10v3m0 21v2m0 9v1m0 6v2m0 9v1m0 13v1m0 5v2m0 1v1m0 14v2m0 6v3m0 8v1m0 1v1m0 2v1m0 17v1m0 19v2m0 4v1m0 6v2m0 3v2m0 19v1m0 13v2m0 2v1m0 4v2m0 10v1m0 9v1m0 53v2M534 208v1m0 4v2m0 16v2m0 5v1m0 13v1m0 2v1m0 8v2m0 4v1m0 21v2m0 13v2m0 13v1m0 1v1m0 2v1m0 15v3m0 14v2m0 3v2m0 1v1m0 7v1m0 1v2m0 5v1m0 14v4m0 17v5m0 25v2m0 12v1m0 5v1m0 3v3m0 5v2m0 11v1m0 1v2m0 3v2m0 6v1m0 4v2m0 3v2m0 4v1m0 26v1m0 6v2m0 19v1M544 231v2m0 14v1m0 3v1m0 12v1m0 11v2m0 11v2m0 1v1m0 14v2m0 19v1m0 26v1m0 13v2m0 5v1m0 13v1m0 5v2m0 10v1m0 7v1m0 1v2m0 3v2m0 14v1m0 11v1m0 9v1m0 31v1m0 11v1m0 1v2m0 1v1m0 7v1m0 8v1m0 9v1m0 3v1m0 53v1m0 5v2m0 7v2M563 211v1m0 6v2m0 11v3m0 17v1m0 12v1m0 1v1m0 8v1m0 7v1m0 20v1m0 2v2m0 14v1m0 1v2m0 4v1m0 18v1m0 2v1m0 19v3m0 24v3m0 17v1m0 2v2m0 4v1m0 2v2m0 2v2m0 24v1m0 24v1m0 5v1m0 2v1m0 10v2m0 11v1m0 3v1m0 4v1m0 73v1M573 207v1m0 1v2m0 15v1m0 6v1m0 1v1m0 17v2m0 2v1m0 12v1m0 36v2m0 2v2m0 12v2m0 1v3m0 16v2m0 5v1m0 4v1m0 7v1m0 6v2m0 20v2m0 7v2m0 2v2m0 1v1m0 3v1m0 6v2m0 13v1m0 5v1m0 8v1m0 20v1m0 8v1m0 3v1m0 5v1m0 2v2m0 7v1m0 12v1m0 8v1m0 18v1m0 5v2m0 11v2m0 15v1m0 11v1m0 18v1M583 205v2m0 2v2m0 9v1m0 12v1m0 1v1m0 12v1m0 4v2m0 3v2m0 1v1m0 8v1m0 4v1m0 6v1m0 11v2m0 1v1m0 9v2m0 4v1m0 1v1m0 18v2m0 7v2m0 1v1m0 7v1m0 7v1m0 23v1m0 26v1m0 2v2m0 13v1m0 2v2m0 5v2m0 1v3m0 36v1m0 21v1m0 13v1m0 9v1m0 2v1m0 23v2m0 6v3m0 46v1M602 220v1m0 13v1m0 4v1m0 22v2m0 3v2m0 23v1m0 5v2m0 1v1m0 14v2m0 2v5m0 7v2m0 2v1m0 5v1m0 40v2m0 4v1m0 6v2m0 14v1m0 5v2m0 11v1m0 6v1m0 1v1m0 19v1m0 26v1m0 9v1m0 7v1m0 22v1m0 8v1m0 13v1m0 12v3m0 9v1m0 17v1m0 21v1m0 20v2m0 29v2M612 216v1m0 3v1m0 8v1m0 6v2m0 2v2m0 42v1m0 37v1m0 8v1m0 2v2m0 6v1m0 3v1m0 13v2m0 11v1m0 3v1m0 9v2m0 7v2m0 9v1m0 4v1m0 1v2m0 18v1m0 4v1m0 9v2m0 5v4m0 6v1m0 2v1m0 1v1m0 6v1m0 4v1m0 8v1m0 8v1m0 13v1m0 12v1m0 14v2m0 5v1m0 4v1m0 13v1m0 24v1m0 1v2m0 25v2m0 2v1m0 4v2m0 22v1"/>
<path stroke="#0000ff" stroke-width="9" d="M76.5 218v2m0 5v2m0 11v1m0 16v1m0 9v1m0 4v1m0 2v1m0 1v1m0 2v1m0 4v1m0 1v2m0 28v1m0 11v1m0 8v1m0 8v1m0 4v1m0 14v2m0 5v1m0 7v1m0 1v1m0 28v1m0 36v1m0 3v1m0 5v2m0 3v2m0 13v1m0 6v2m0 14v1m0 1v2m0 9v1m0 5v1m0 16v1m0 20v1m0 2v2m0 25v2m0 2v2m0 1v1m0 7v1m0 6v2m0 2v3m0 1v1m0 2v1m0 6v2m0 4v2m0 5v2m0 6v1m0 3v1m0 8v3m0 5v1m0 13v1M95.5 205v2m0 1v1m0 9v2m0 13v1m0 33v2m0 2v2m0 1v1m0 7v1m0 5v4m0 4v1m0 28v3m0 5v1m0 8v1m0 4v2m0 4v1m0 4v1m0 12v1m0 5v1m0 7v1m0 25v1m0 20v2m0 2v3m0 39v1m0 9v1m0 29v1m0 13v1m0 8v1m0 27v1m0 6v1m0 1v1m0 4v2m0 2v1m0 3v1m0 8v1m0 13v2m0 3v2m0 14v1m0 30v1m0 9v3M134.5 212v1m0 3v1m0 5v3m0 11v2m0 32v1m0 4v1m0 7v1m0 20v1m0 18v1m0 9v1m0 19v1m0 1v1m0 18v2m0 51v2m0 29v2m0 15v1m0 11v1m0 18v1m0 18v4m0 4v1m0 12v1m0 9v3m0 26v1m0 21v1m0 14v1m0 16v2m0 17v1m0 4v2M173.5 211v2m0 4v1m0 4v2m0 1v1m0 18v1m0 13v2m0 23v1m0 7v1m0 8v1m0 15v2m0 7v3m0 8v1m0 16v1m0 13v1m0 5v1m0 3v1m0 9v3m0 10v2m0 15v1m0 12v1m0 8v1m0 7v1m0 4v2m0 6v1m0 26v2m0 34v1m0 8v1m0 18v1m0 3v1m0 71v1m0 4v2m0 31v1m0 5v1m0 2v1m0 6v2M212.5 209v2m0 24v1m0 15v1m0 12v1m0 2v2m0 5v1m0 1v2m0 2v2m0 6v1m0 9v2m0 4v1m0 4v1m0 31v1m0 1v2m0 14v1m0 3v1m0 59v2m0 5v1m0 5v2m0 15v3m0 2v2m0 3v2m0 2v2m0 11v1m0 35v2m0 18v1m0 8v1m0 14v1m0 9v2m0 15v1m0 3v1m0 7v1m0 9v1m0 25v1m0 11v1m0 13v1m0 9v1m0 3v1m0 18v2M251.5 205v3m0 30v1m0 16v1m0 13v1m0 13v1m0 8v1m0 31v3m0 2v2m0 1v1m0 4v1m0 4v1m0 15v1m0 26v1m0 13v1m0 7v1m0 5v1m0 2v1m0 8v2m0 2v1m0 18v1m0 8v1m0 4v1m0 2v1m0 6v2m0 5v2m0 3v1m0 15v2m0 43v1m0 15v2m0 15v1m0 15v1m0 5v1m0 9v2m0 4v1m0 1v1m0 9v2m0 20v2m0 9v1M290.5 230v3m0 12v2m0 5v1m0 3v1m0 4v1m0 43v1m0 12v1m0 21v1m0 6v3m0 5v1m0 2v1m0 19v2m0 11v1m0 6v1m0 10v2m0 5v1m0 27v1m0 16v1m0 27v1m0 15v1m0 14v1m0 55v1m0 4v1m0 8v1m0 32v2m0 3v2m0 28v1m0 4v3m0 9v1M329.5 209v2m0 10v1m0 8v1m0 20v1m0 17v1m0 13v1m0 8v1m0 5v2m0 5v1m0 17v1m0 8v2m0 2v1m0 1v2m0 43v2m0 10v1m0 16v1m0 1v2m0 16v2m0 45v1m0 4v1m0 8v1m0 12v1m0 3v1m0 1v2m0 10v1m0 7v1m0 30v2m0 3v1m0 14v2m0 22v1m0 1v3m0 5v1m0 8v1m0 14v2m0 27v1m0 19v2M358.5 231v2m0 22v3m0 4v2m0 6v1m0 8v1m0 26v1m0 15v1m0 10v1m0 2v1m0 10v2m0 7v4m0 25v1m0 40v1m0 5v2m0 7v2m0 5v1m0 18v2m0 1v1m0 18v1m0 15v1m0 1v2m0 14v1m0 5v1m0 8v1m0 4v2m0 27v1m0 4v2m0 37v1m0 17v1m0 10v2m0 5v1m0 1v2M397.5 207v1m0 1v2m0 10v1m0 16v1m0 12v1m0 15v2m0 2v2m0 5v1m0 9v1m0 7v1m0 9v3m0 2v2m0 3v2m0 4v1m0 5v1m0 30v1m0 3v1m0 12v2m0 4v1m0 4v2m0 10v1m0 16v1m0 6v2m0 1v1m0 12v1m0 3v2m0 11v2m0 5v2m0 7v2m0 2v2m0 2v1m0 12v1m0 20v2m0 2v1m0 2v2m0 33v2m0 9v1m0 2v2m0 4v1m0 17v1m0 1v2m0 9v1m0 17v1m0 4v1m0 10v2m0 31v1m0 6v2M436.5 222v2m0 6v1m0 5v2m0 7v2m0 2v2m0 22v1m0 14v1m0 16v1m0 13v1m0 8v1m0 7v1m0 14v2m0 9v1m0 14v1m0 2v1m0 11v2m0 5v1m0 8v1m0 4v1m0 17v3m0 4v1m0 15v2m0 4v1m0 35v1m0 13v1m0 5v2m0 2v1m0 8v1m0 49v2m0 26v1m0 1v1m0 39v1m0 9v2M475.5 208v1m0 7v2m0 21v1m0 43v1m0 38v1m0 5v1m0 3v1m0 12v1m0 18v1m0 20v1m0 1v2m0 23v1m0 13v1m0 3v1m0 9v1m0 10v1m0 31v1m0 14v2m0 7v2m0 9v1m0 36v1m0 26v1M514.5 208v1m0 3v1m0 4v1m0 9v2m0 1v1m0 7v2m0 11v1m0 9v1m0 5v2m0 9v1m0 8v1m0 3v1m0 2v2m0 10v1m0 20v1m0 23v3m0 17v2m0 22v3m0 1v1m0 9v2m0 9v1m0 8v1m0 1v1m0 17v3m0 2v2m0 20v2m0 1v1m0 7v1m0 21v1m0 26v1m0 6v7m0 10v1m0 24v1m0 35v1m0 23v2M553.5 221v1m0 2v1m0 1v1m0 4v2m0 2v1m0 4v2m0 9v1m0 1v2m0 10v1m0 1v2m0 1v1m0 2v2m0 3v1m0 10v2m0 27v1m0 12v1m0 37v2m0 1v1m0 10v2m0 7v2m0 19v4m0 41v2m0 7v2m0 24v3m0 4v1m0 17v1m0 2v2m0 1v1m0 20v1m0 14v1m0 71v2m0 7v2m0 10v1M592.5 205v2m0 14v3m0 21v2m0 23v1m0 4v1m0 8v1m0 20v1m0 10v2m0 11v3m0 13v1m0 3v2m0 9v2m0 14v1m0 32v2m0 2v1m0 20v1m0 1v2m0 3v2m0 26v1m0 4v1m0 6v2m0 2v2m0 5v1m0 23v2m0 7v2m0 49v1m0 30v1m0 29v2"/>
<path stroke="#0000ff" stroke-width="9.5" d="M621.75 212v1m0 17v1m0 7v1m0 1v2m0 1v1m0 7v1m0 9v1m0 5v2m0 1v1m0 4v3m0 41v1m0 14v2m0 18v1m0 5v2m0 5v1m0 3v1m0 10v1m0 13v2m0 19v1m0 8v1m0 4v1m0 7v1m0 26v1m0 9v2m0 1v1m0 18v2m0 24v1m0 2v2m0 41v2m0 1v1m0 12v1m0 69v1"/>
<path stroke="#0000ff" stroke-width="10" d="M86 205v2m0 1v1m0 9v2m0 23v1m0 11v1m0 9v1m0 1v2m0 9v1m0 3v2m0 4v1m0 7v1m0 18v1m0 11v1m0 3v1m0 2v2m0 1v1m0 8v1m0 18v2m0 4v1m0 4v1m0 1v2m0 12v2m0 15v3m0 32v1m0 3v1m0 20v1m0 5v1m0 4v1m0 4v4m0 5v2m0 1v1m0 3v1m0 7v1m0 1v3m0 4v1m0 13v1m0 5v1m0 2v1m0 45v1m0 28v1m0 2v2m0 6v1m0 6v2m0 7v1m0 13v1m0 26v1M105 205v2m0 2v2m0 2v2m0 12v3m0 8v1m0 8v1m0 5v2m0 11v1m0 17v1m0 7v1m0 5v2m0 27v1m0 23v3m0 14v1m0 17v1m0 2v1m0 26v1m0 8v1m0 5v1m0 4v2m0 14v1m0 4v1m0 3v1m0 10v2m0 5v1m0 10v2m0 2v2m0 23v1m0 9v1m0 17v2m0 10v1m0 40v1m0 13v2m0 7v3m0 6v2m0 37v3m0 2v1m0 4v3m0 4v1M115 205v2m0 8v1m0 13v1m0 8v1m0 14v2m0 16v2m0 6v1m0 31v3m0 4v1m0 9v1m0 22v3m0 5v1m0 2v1m0 28v1m0 11v2m0 9v4m0 9v3m0 15v2m0 10v1m0 7v2m0 5v2m0 5v1m0 5v2m0 7v2m0 1v1m0 4v1m0 2v1m0 8v1m0 9v1m0 24v1m0 11v3m0 9v1m0 3v1m0 12v1m0 1v2m0 24v1m0 9v2m0 29v2m0 2v2m0 6v3M125 233v1m0 2v2m0 23v1m0 2v1m0 15v2m0 10v1m0 4v1m0 4v2m0 14v1m0 23v1m0 4v2m0 2v2m0 12v2m0 2v2m0 3v2m0 11v2m0 1v1m0 3v1m0 8v1m0 23v2m0 1v1m0 7v1m0 17v2m0 9v2m0 9v1m0 22v1m0 1v2m0 16v2m0 14v1m0 17v3m0 5v1m0 28v2m0 4v1m0 8v1m0 48v2m0 14v2M144 212v1m0 2v2m0 3v1m0 1v2m0 1v1m0 19v2m0 4v1m0 3v1m0 20v2m0 5v1m0 12v1m0 13v1m0 3v1m0 3v1m0 6v2m0 5v1m0 1v2m0 7v2m0 5v1m0 29v1m0 31v1m0 8v1m0 13v1m0 5v2m0 1v1m0 3v1m0 8v3m0 6v1m0 29v1m0 5v1m0 15v1m0 4v1m0 9v1m0 7v1m0 19v2m0 32v1m0 8v1m0 13v1m0 9v3m0 4v1m0 4v1m0 2v1m0 19v2m0 3v2m0 11v2M154 215v1m0 32v1m0 2v1m0 22v1m0 12v1m0 8v1m0 23v2m0 10v1m0 1v2m0 2v2m0 9v1m0 6v2m0 14v2m0 30v1m0 6v1m0 1v1m0 2v1m0 6v2m0 14v1m0 13v1m0 6v1m0 32v1m0 15v1m0 13v1m0 4v1m0 14v2m0 4v1m0 6v2m0 24v1m0 16v1m0 3v2m0 3v1m0 36v2m0 1v1m0 22v1M164 208v3m0 13v1m0 20v2m0 2v2m0 1v1m0 21v4m0 6v1m0 21v1m0 29v4m0 3v2m0 4v1m0 5v1m0 17v1m0 2v1m0 14v1m0 10v2m0 5v2m0 6v1m0 11v2m0 16v1m0 5v1m0 6v1m0 1v1m0 4v2m0 15v1m0 2v1m0 5v1m0 22v2m0 9v1m0 11v2m0 22v1m0 10v2m0 1v1m0 54v2m0 6v1m0 15v1m0 6v2m0 12v2M183 222v2m0 1v1m0 4v1m0 3v1m0 7v1m0 14v1m0 8v1m0 11v1m0 15v2m0 4v1m0 6v2m0 4v1m0 5v1m0 4v1m0 2v1m0 3v1m0 6v3m0 5v1m0 6v1m0 1v1m0 7v1m0 3v1m0 5v3m0 2v2m0 6v1m0 18v2m0 9v4m0 7v2m0 6v1m0 8v1m0 6v2m0 3v2m0 2v1m0 18v1m0 3v1m0 12v1m0 5v1m0 40v2m0 16v2m0 9v1m0 13v1m0 1v2m0 9v1m0 27v1m0 15v1m0 19v2m0 3v4m0 3v1m0 5v2M193 211v1m0 14v1m0 3v1m0 14v2m0 1v1m0 4v2m0 29v1m0 3v1m0 3v1m0 7v1m0 4v1m0 4v1m0 2v1m0 10v3m0 2v2m0 2v1m0 11v1m0 3v1m0 1v2m0 2v1m0 17v3m0 13v1m0 1v1m0 3v1m0 15v1m0 17v2m0 4v1m0 5v2m0 23v1m0 16v1m0 1v3m0 26v2m0 17v1m0 18v2m0 2v2m0 5v1m0 4v1m0 5v2m0 7v2m0 5v1m0 9v1m0 2v1m0 14v1m0 3v1m0 20v1m0 12v1m0 14v1m0 16v1M203 225v1m0 9v3m0 24v3m0 9v1m0 16v1m0 37v2m0 29v2m0 2v1m0 2v1m0 10v2m0 31v1m0 15v3m0 22v1m0 1v2m0 36v1m0 10v2m0 7v2m0 4v1m0 17v1m0 2v2m0 19v1m0 22v2m0 2v3m0 8v3m0 7v1m0 14v2m0 5v1m0 30v1m0 9v1m0 8v1m0 3v1M222 211v2m0 11v1m0 1v1m0 21v1m0 3v1m0 8v1m0 12v1m0 3v1m0 8v2m0 4v1m0 20v1m0 19v2m0 4v1m0 17v1m0 28v2m0 5v1m0 35v1m0 7v1m0 1v1m0 12v1m0 2v2m0 12v1m0 5v2m0 1v1m0 14v2m0 15v1m0 2v1m0 18v4m0 33v2m0 10v1m0 8v3m0 37v1m0 2v3m0 34v1m0 4v3M232 213v2m0 5v1m0 18v1m0 7v1m0 12v1m0 13v1m0 1v2m0 15v1m0 3v1m0 47v1m0 9v1m0 12v1m0 13v1m0 13v4m0 4v1m0 6v1m0 17v2m0 39v2m0 4v2m0 9v1m0 12v1m0 5v1m0 20v1m0 1v1m0 6v1m0 10v2m0 5v1m0 13v1m0 3v1m0 1v2m0 3v2m0 22v1m0 12v1m0 4v1m0 6v2m0 5v1m0 14v2m0 4v1m0 5v1m0 5v2m0 1v3m0 5v2M242 220v1m0 4v1m0 22v1m0 4v2m0 5v1m0 5v1m0 6v1m0 2v3m0 13v1m0 21v1m0 12v1m0 10v2m0 3v2m0 14v1m0 9v2m0 5v1m0 9v3m0 3v2m0 5v1m0 16v1m0 1v2m0 40v1m0 15v2m0 25v2m0 7v2m0 2v2m0 33v1m0 11v1m0 4v1m0 3v1m0 3v1m0 13v1m0 3v1m0 63v1m0 18v3m0 5v5M261 209v2m0 13v1m0 45v1m0 16v1m0 1v2m0 7v3m0 45v1m0 20v1m0 31v1m0 14v2m0 11v2m0 2v1m0 2v1m0 1v2m0 1v1m0 1v2m0 15v2m0 10v1m0 1v2m0 6v1m0 16v1m0 14v3m0 9v1m0 11v1m0 5v1m0 2v1m0 27v1m0 4v1m0 28v1m0 8v1m0 1v1m0 13v2m0 10v1m0 17v1m0 18v2m0 9v1M271 205v2m0 23v1m0 5v2m0 14v1m0 14v2m0 1v3m0 27v1m0 1v2m0 37v1m0 3v1m0 5v3m0 4v1m0 8v1m0 15v2m0 6v1m0 15v2m0 5v3m0 14v1m0 7v1m0 3v1m0 17v1m0 8v1m0 4v1m0 4v3m0 14v1m0 13v1m0 2v1m0 3v1m0 5v1m0 8v1m0 4v1m0 2v1m0 5v2m0 2v1m0 8v1m0 13v2m0 2v1m0 3v3m0 18v1m0 12v1m0 9v1m0 21v1m0 9v1m0 3v1m0 18v2m0 5v1M281 215v1m0 33v2m0 18v4m0 12v2m0 10v1m0 3v5m0 12v1m0 22v1m0 4v1m0 18v2m0 4v1m0 32v1m0 3v1m0 23v2m0 41v1m0 2v1m0 8v1m0 4v1m0 3v2m0 40v1m0 11v1m0 5v2m0 6v3m0 2v3m0 9v1m0 3v1m0 10v2m0 1v1m0 3v1m0 10v3m0 9v1m0 23v2m0 6v3M300 215v1m0 6v2m0 1v1m0 4v1m0 7v1m0 3v1m0 10v2m0 9v1m0 2v2m0 16v2m0 37v1m0 8v3m0 28v1m0 2v5m0 1v1m0 11v1m0 5v1m0 19v1m0 2v2m0 6v1m0 24v1m0 12v1m0 22v1m0 16v1m0 6v2m0 1v1m0 3v1m0 9v1m0 12v1m0 23v2m0 7v2m0 1v4m0 17v1m0 3v1m0 38v2m0 5v1m0 5v2m0 10v1m0 9v2m0 3v3M310 212v1m0 12v1m0 7v2m0 13v1m0 9v2m0 20v4m0 35v1m0 11v1m0 2v2m0 31v1m0 10v3m0 8v1m0 10v2m0 5v1m0 8v1m0 28v2m0 24v1m0 9v2m0 18v1m0 19v2m0 1v1m0 4v1m0 11v2m0 16v1m0 1v2m0 14v2m0 22v2m0 4v1m0 4v1m0 4v1m0 26v1M320 217v1m0 2v1m0 15v2m0 15v2m0 25v2m0 7v2m0 1v1m0 8v1m0 2v1m0 29v2m0 6v1m0 4v3m0 1v2m0 27v1m0 1v3m0 5v1m0 5v2m0 4v1m0 4v1m0 35v1m0 7v1m0 19v1m0 7v1m0 4v1m0 4v1m0 2v1m0 5v2m0 1v1m0 3v1m0 5v1m0 4v2m0 11v1m0 7v1m0 1v2m0 1v1m0 8v3m0 14v1m0 7v1m0 6v2m0 16v2m0 4v1m0 9v1m0 21v1m0 36v3m0 4v1M339 205v2m0 19v1m0 2v1m0 5v1m0 15v1m0 9v1m0 3v1m0 1v3m0 13v1m0 5v2m0 7v2m0 14v1m0 1v2m0 14v1m0 34v1m0 12v1m0 1v3m0 1v3m0 36v1m0 18v1m0 7v1m0 8v1m0 25v1m0 33v2m0 20v2m0 1v1m0 16v1m0 12v2m0 38v1m0 4v1m0 8v1m0 8v1m0 1v2m0 25v2m0 4v1M349 205v2m0 17v1m0 1v1m0 47v2m0 3v1m0 2v1m0 39v1m0 10v1m0 6v1m0 21v1m0 28v1m0 7v1m0 5v2m0 9v1m0 15v2m0 13v1m0 1v2m0 10v1m0 1v3m0 1v2m0 6v1m0 8v1m0 2v1m0 27v3m0 11v1m0 19v1m0 8v1m0 1v1m0 18v2m0 26v1m0 13v1m0 15v2m0 28v1M368 205v2m0 13v1m0 17v1m0 22v1m0 29v1m0 14v1m0 2v1m0 19v2m0 1v1m0 5v2m0 19v3m0 6v3m0 14v1m0 10v2m0 41v1m0 7v2m0 20v1m0 26v1m0 6v4m0 2v1m0 20v2m0 10v1m0 2v1m0 5v1m0 3v1m0 11v1m0 11v2m0 26v1m0 1v1m0 20v1m0 13v1m0 4v1m0 2v1M378 208v1m0 11v1m0 24v2m0 2v3m0 8v1m0 15v2m0 11v2m0 2v1m0 21v1m0 9v2m0 5v1m0 14v2m0 16v2m0 6v1m0 2v1m0 17v1m0 5v2m0 33v1m0 5v2m0 17v1m0 1v1m0 17v1m0 7v1m0 3v1m0 9v1m0 6v1m0 17v1m0 10v1m0 12v1m0 4v3m0 5v1m0 14v2m0 29v2m0 2v2m0 6v1m0 11v1m0 12v1M388 226v1m0 3v1m0 4v1m0 3v1m0 2v1m0 2v2m0 9v1m0 19v2m0 11v2m0 15v1m0 2v1m0 15v2m0 1v1m0 21v3m0 6v1m0 5v2m0 20v2m0 9v1m0 5v4m0 8v1m0 6v2m0 6v1m0 4v2m0 3v2m0 28v1m0 8v1m0 2v1m0 18v1m0 58v2m0 7v2m0 35v1m0 2v2m0 28v1m0 3v1M407 213v2m0 12v2m0 24v2m0 16v3m0 2v3m0 9v3m0 2v1m0 13v2m0 6v1m0 6v1m0 6v2m0 2v1m0 4v2m0 11v2m0 5v1m0 4v5m0 3v1m0 13v1m0 21v1m0 21v1m0 18v1m0 5v3m0 1v2m0 15v3m0 19v1m0 7v1m0 17v1m0 1v2m0 6v3m0 24v1m0 6v1m0 2v3m0 9v1m0 25v1m0 16v1m0 11v2m0 22v1M417 215v1m0 5v1m0 9v3m0 31v1m0 9v1m0 3v1m0 36v2m0 16v2m0 10v1m0 7v1m0 8v1m0 7v1m0 10v1m0 21v1m0 3v1m0 20v1m0 5v1m0 7v1m0 1v2m0 20v2m0 1v1m0 26v1m0 2v1m0 8v1m0 6v2m0 14v1m0 12v1m0 3v1m0 2v2m0 18v1m0 4v1m0 9v1m0 61v1M427 215v1m0 20v2m0 7v2m0 18v1m0 7v1m0 10v1m0 2v1m0 13v1m0 11v1m0 4v4m0 5v2m0 21v1m0 22v1m0 13v2m0 2v1m0 12v1m0 17v1m0 25v1m0 21v1m0 12v1m0 6v2m0 5v1m0 9v2m0 19v1m0 3v1m0 21v1m0 10v2m0 6v1m0 22v2m0 9v1m0 45v1M446 208v1m0 2v1m0 1v4m0 4v1m0 4v1m0 9v3m0 37v2m0 1v1m0 5v2m0 1v1m0 18v2m0 2v3m0 2v2m0 20v2m0 18v2m0 16v1m0 3v1m0 6v2m0 1v1m0 8v1m0 13v1m0 2v1m0 1v2m0 3v2m0 9v1m0 5v1m0 10v1m0 2v2m0 10v1m0 9v2m0 50v1m0 4v1m0 16v1m0 7v1m0 6v2m0 2v1m0 15v1m0 1v1m0 6v1m0 10v2m0 12v2m0 24v2m0 2v1m0 8v1M456 211v1m0 3v1m0 11v2m0 20v2m0 10v1m0 3v1m0 1v2m0 5v1m0 12v1m0 25v1m0 11v2m0 22v1m0 23v1m0 26v2m0 1v1m0 3v1m0 3v1m0 1v1m0 20v1m0 6v2m0 14v1m0 8v1m0 8v3m0 25v2m0 10v1m0 3v1m0 17v1m0 35v1m0 13v1m0 16v1m0 36v2m0 4v1M466 216v1m0 5v2m0 1v1m0 40v3m0 7v2m0 5v1m0 8v2m0 10v1m0 10v1m0 9v2m0 4v1m0 10v1m0 21v1m0 6v2m0 9v1m0 17v2m0 9v1m0 1v1m0 3v1m0 4v1m0 3v3m0 3v2m0 29v2m0 31v1m0 6v2m0 2v2m0 10v4m0 60v2m0 2v1m0 30v1m0 24v1m0 27v1M485 205v2m0 9v1m0 5v2m0 41v1m0 7v1m0 1v1m0 8v1m0 2v1m0 22v1m0 18v2m0 1v1m0 4v1m0 3v1m0 23v2m0 13v1m0 13v1m0 17v1m0 22v3m0 22v1m0 4v1m0 28v2m0 1v1m0 44v1m0 29v1m0 12v2m0 1v2m0 40v1M495 211v1m0 12v1m0 9v1m0 3v1m0 26v1m0 9v1m0 3v1m0 3v1m0 1v2m0 2v2m0 1v1m0 5v2m0 27v2m0 5v2m0 6v1m0 2v1m0 8v1m0 25v1m0 48v1m0 11v3m0 5v2m0 15v1m0 25v1m0 5v2m0 6v1m0 11v1m0 45v3m0 31v1m0 6v2m0 3v2m0 13v1m0 18v1m0 5v2m0 6v1M505 208v3m0 9v1m0 22v1m0 17v1m0 8v1m0 3v1m0 1v2m0 16v3m0 9v1m0 20v2m0 11v1m0 5v1m0 6v1m0 14v1m0 26v1m0 11v1m0 8v1m0 36v1m0 12v1m0 12v1m0 18v2m0 3v2m0 11v2m0 29v2m0 5v1m0 1v2m0 2v1m0 9v2m0 16v3m0 9v1m0 49v2M524 213v2m0 19v1m0 12v1m0 7v1m0 10v1m0 27v2m0 10v1m0 12v1m0 2v1m0 17v1m0 4v1m0 7v1m0 11v2m0 5v1m0 7v1m0 8v1m0 6v2m0 6v1m0 4v2m0 2v1m0 7v1m0 10v2m0 4v1m0 24v2m0 1v1m0 3v1m0 4v5m0 16v1m0 3v1m0 11v3m0 9v1m0 33v1m0 13v1m0 12v1m0 12v1m0 11v2m0 5v1M534 211v1m0 17v2m0 3v1m0 4v1m0 4v1m0 6v1m0 10v2m0 12v2m0 16v2m0 4v4m0 33v1m0 11v1m0 5v1m0 26v1m0 26v2m0 2v1m0 4v2m0 6v3m0 7v2m0 18v1m0 3v1m0 8v1m0 31v1m0 22v1m0 14v2m0 2v2m0 1v1m0 34v1m0 14v2m0 2v1m0 20v1m0 12v1M544 212v3m0 5v2m0 8v1m0 5v2m0 4v1m0 9v1m0 12v1m0 4v1m0 58v3m0 33v2m0 10v1m0 34v4m0 9v1m0 17v1m0 22v1m0 3v1m0 4v1m0 8v3m0 10v1m0 14v2m0 6v1m0 39v1m0 35v2m0 9v1m0 54v1M563 217v1m0 2v1m0 5v1m0 8v1m0 12v1m0 13v2m0 1v1m0 8v1m0 23v3m0 17v5m0 11v2m0 5v1m0 7v1m0 12v2m0 3v1m0 1v2m0 9v2m0 9v1m0 13v2m0 2v2m0 15v1m0 8v1m0 13v2m0 3v2m0 19v1m0 3v1m0 4v1m0 3v1m0 3v1m0 4v1m0 4v1m0 18v2m0 4v1m0 10v1m0 22v2m0 27v2m0 2v1m0 6v2m0 32v1M573 220v1m0 17v1m0 1v2m0 7v2m0 42v3m0 6v2m0 14v1m0 5v1m0 9v2m0 5v1m0 4v1m0 3v1m0 11v1m0 13v1m0 10v2m0 18v1m0 41v2m0 11v1m0 16v1m0 1v2m0 1v1m0 7v1m0 18v1m0 9v2m0 1v1m0 34v1m0 10v2m0 24v2m0 43v2M583 207v2m0 8v1m0 3v1m0 3v1m0 3v1m0 8v2m0 20v1m0 17v1m0 14v1m0 37v2m0 14v2m0 14v1m0 14v3m0 1v1m0 13v2m0 1v1m0 5v2m0 2v2m0 11v1m0 7v1m0 8v1m0 29v2m0 3v1m0 4v4m0 14v1m0 9v2m0 5v1m0 9v1m0 8v1m0 9v2m0 6v1m0 24v1m0 10v1m0 66v2M602 215v3m0 3v1m0 23v2m0 4v1m0 36v1m0 15v1m0 14v1m0 9v2m0 29v2m0 3v3m0 8v1m0 14v1m0 12v1m0 3v3m0 10v1m0 7v2m0 3v1m0 4v1m0 8v1m0 3v1m0 3v1m0 24v2m0 28v1m0 2v1m0 15v2m0 1v1m0 11v1m0 24v2m0 27v1m0 31v1M612 212v1m0 29v1m0 1v1m0 4v2m0 24v1m0 24v2m0 11v2m0 4v1m0 47v2m0 13v3m0 19v1m0 16v1m0 8v2m0 3v1m0 11v1m0 4v1m0 21v4m0 27v1m0 6v2m0 16v2m0 20v2m0 9v2m0 3v1m0 7v1m0 21v2m0 37v2m0 1v1"/>
<path stroke="#0000ff" stroke-width="9" d="M76.5 209v2m0 19v3m0 14v1m0 4v1m0 29v1m0 9v1m0 4v1m0 34v1m0 5v2m0 20v2m0 1v1m0 19v2m0 2v2m0 10v1m0 9v2m0 12v2m0 10v1m0 5v3m0 1v2m0 13v1m0 8v1m0 9v1m0 7v1m0 21v1m0 1v3m0 14v1m0 40v1m0 3v1m0 5v2m0 4v1m0 10v2m0 11v1m0 33v1m0 15v2m0 16v6m0 10v1M95.5 215v1m0 5v1m0 18v2m0 9v1m0 32v1m0 7v1m0 21v2m0 2v1m0 10v3m0 5v1m0 24v1m0 5v1m0 54v2m0 19v1m0 11v1m0 27v3m0 2v3m0 1v1m0 9v2m0 33v1m0 8v2m0 21v2m0 2v2m0 19v1m0 2v1m0 14v1m0 2v1m0 8v1m0 17v1m0 6v2m0 15v1m0 4v2m0 5v1M134.5 257v1m0 18v2m0 14v2m0 7v1m0 12v1m0 22v1m0 4v1m0 24v1m0 4v1m0 8v1m0 10v2m0 4v2m0 40v1m0 3v1m0 12v1m0 16v1m0 13v1m0 3v1m0 3v2m0 7v1m0 3v1m0 5v1m0 7v1m0 8v1m0 67v1m0 20v1m0 9v1m0 13v2m0 1v1m0 41v2M173.5 205v2m0 36v1m0 32v2m0 10v1m0 7v1m0 4v1m0 11v1m0 1v1m0 3v1m0 8v1m0 11v1m0 6v2m0 2v2m0 10v1m0 5v2m0 1v1m0 3v1m0 30v1m0 8v1m0 5v1m0 6v1m0 10v1m0 3v1m0 17v1m0 2v2m0 29v2m0 12v1m0 1v2m0 10v1m0 5v2m0 2v2m0 5v1m0 21v2m0 5v2m0 6v1m0 7v1m0 31v1m0 11v1m0 3v1m0 9v1m0 11v1m0 1v1m0 13v2m0 10v1m0 1v2m0 5v1M212.5 245v2m0 14v1m0 32v2m0 1v1m0 21v1m0 11v1m0 2v3m0 5v1m0 2v1m0 5v3m0 6v2m0 2v1m0 2v1m0 4v1m0 10v2m0 18v1m0 13v1m0 11v1m0 26v1m0 35v1m0 1v2m0 9v1m0 8v1m0 18v1m0 73v2M251.5 222v3m0 6v2m0 25v2m0 7v2m0 6v1m0 18v2m0 9v1m0 4v1m0 22v1m0 19v1m0 42v2m0 20v2m0 3v2m0 7v2m0 2v3m0 5v1m0 13v2m0 9v1m0 8v1m0 10v1m0 7v1m0 12v1m0 5v2m0 2v1m0 6v1m0 2v2m0 19v1m0 2v2m0 8v1m0 20v1m0 13v1m0 1v2m0 2v2m0 29v1m0 6v1m0 3v1m0 23v1m0 2v1m0 6v2M290.5 215v1m0 20v2m0 2v2m0 58v1m0 9v1m0 23v2m0 2v2m0 10v1m0 14v3m0 4v1m0 21v1m0 13v1m0 5v2m0 4v1m0 19v1m0 16v1m0 2v1m0 6v2m0 1v1m0 12v1m0 8v1m0 3v1m0 10v3m0 1v1m0 4v2m0 23v1m0 13v1m0 30v1m0 9v2m0 5v1m0 17v1m0 21v1m0 13v1m0 19v2m0 5v1M329.5 208v1m0 11v1m0 1v2m0 3v2m0 2v2m0 16v2m0 6v1m0 22v2m0 34v2m0 40v1m0 23v1m0 7v1m0 36v2m0 9v1m0 1v1m0 6v1m0 32v1m0 6v1m0 14v1m0 36v2m0 14v3m0 9v1m0 24v2m0 6v1m0 12v1m0 13v1m0 22v4m0 9v2m0 9v1m0 2v2M358.5 207v1m0 27v3m0 9v1m0 12v2m0 18v2m0 11v1m0 8v2m0 11v1m0 30v1m0 61v1m0 8v1m0 3v1m0 9v1m0 4v2m0 9v1m0 4v1m0 10v2m0 9v1m0 3v1m0 13v1m0 10v2m0 5v1m0 3v1m0 13v1m0 1v2m0 2v2m0 1v1m0 11v1m0 19v3m0 18v1m0 8v1m0 1v2m0 4v1m0 22v1m0 32v2m0 19v1M397.5 216v1m0 7v1m0 1v1m0 17v1m0 8v2m0 5v1m0 1v3m0 14v1m0 40v2m0 2v1m0 7v2m0 9v2m0 9v1m0 5v2m0 2v1m0 20v2m0 13v2m0 10v1m0 8v1m0 26v1m0 4v3m0 23v1m0 3v1m0 8v1m0 17v1m0 14v2m0 9v1m0 1v1m0 7v1m0 12v1m0 23v2m0 3v2m0 22v1m0 14v3m0 5v1m0 17v1M436.5 208v1m0 6v1m0 4v1m0 21v1m0 24v2m0 6v1m0 6v1m0 66v1m0 4v1m0 3v1m0 5v1m0 8v1m0 2v1m0 4v1m0 3v1m0 4v1m0 7v1m0 1v3m0 2v2m0 33v3m0 5v1m0 9v2m0 15v1m0 2v2m0 3v1m0 8v1m0 26v1m0 13v1m0 31v3m0 1v1m0 2v1m0 5v1m0 2v1m0 6v2m0 6v2m0 5v1m0 8v1m0 19v2m0 5v2m0 9v2m0 2v2m0 9v1m0 9v1M475.5 205v2m0 14v1m0 4v1m0 15v1m0 1v1m0 30v1m0 8v1m0 8v1m0 10v2m0 115v1m0 5v2m0 12v2m0 6v2m0 10v1m0 14v2m0 2v1m0 4v2m0 9v1m0 19v2m0 2v1m0 11v1m0 5v1m0 6v1m0 3v1m0 8v1m0 13v1m0 6v2m0 24v2m0 12v2m0 15v1m0 22v2M514.5 211v1m0 9v1m0 7v1m0 14v1m0 28v1m0 2v2m0 41v1m0 14v2m0 9v1m0 13v1m0 20v1m0 23v1m0 7v1m0 5v2m0 41v1m0 1v2m0 18v1m0 6v2m0 2v2m0 1v1m0 2v1m0 2v2m0 23v1m0 21v2m0 6v1m0 13v1m0 15v2m0 5v1m0 7v1m0 13v1m0 5v2m0 15v1m0 26v1M553.5 220v1m0 9v1m0 27v3m0 14v1m0 7v1m0 3v1m0 27v1m0 26v1m0 39v1m0 17v2m0 10v1m0 12v1m0 12v1m0 4v1m0 1v2m0 5v2m0 3v1m0 14v2m0 1v1m0 12v1m0 7v1m0 4v1m0 4v1m0 13v1m0 20v1m0 30v1m0 1v2m0 12v2m0 47v2m0 6v2m0 12v2M592.5 208v1m0 4v2m0 5v1m0 18v1m0 39v1m0 20v1m0 1v3m0 23v1m0 7v1m0 16v1m0 9v1m0 4v1m0 12v1m0 7v1m0 17v1m0 3v1m0 10v1m0 7v2m0 3v1m0 3v1m0 7v1m0 5v1m0 12v1m0 16v1m0 39v1m0 4v1m0 4v1m0 11v1m0 5v1m0 2v1m0 8v1m0 18v1m0 12v1m0 43v1"/>
<path stroke="#0000ff" stroke-width="9.5" d="M621.75 205v2m0 4v1m0 17v1m0 25v1m0 15v2m0 23v1m0 27v3m0 4v1m0 1v1m0 19v1m0 1v3m0 10v1m0 3v1m0 4v1m0 2v1m0 48v1m0 10v1m0 6v4m0 6v1m0 35v1m0 11v1m0 52v1m0 4v1m0 4v1m0 5v2m0 43v2"/>
<path stroke="#0000ff" stroke-width="10" d="M86 207v1m0 3v2m0 8v1m0 3v1m0 38v1m0 10v1m0 18v2m0 1v1m0 8v1m0 35v1m0 4v2m0 1v1m0 21v1m0 31v1m0 7v1m0 26v1m0 16v1m0 33v2m0 10v3m0 23v1m0 1v2m0 5v1m0 18v2m0 5v1m0 9v3m0 9v1m0 24v2m0 6v1m0 4v3m0 23v1m0 3v1m0 26v1M105 207v1m0 9v1m0 49v2m0 4v1m0 1v1m0 2v1m0 4v1m0 22v1m0 16v1m0 12v1m0 19v2m0 4v1m0 9v1m0 1v2m0 14v1m0 22v1m0 7v1m0 4v1m0 8v1m0 40v3m0 5v1m0 8v1m0 9v2m0 10v1m0 38v1m0 6v2m0 20v2m0 31v1m0 9v1m0 10v2m0 19v1m0 26v1M115 227v2m0 18v1m0 8v1m0 7v1m0 4v1m0 27v1m0 38v1m0 19v2m0 7v2m0 46v1m0 7v1m0 9v1m0 6v1m0 13v1m0 37v2m0 1v1m0 22v2m0 1v1m0 19v2m0 19v1m0 9v2m0 6v3m0 2v2m0 1v1m0 13v1m0 13v3m0 8v1m0 1v1m0 7v4m0 44v1M125 207v1m0 10v2m0 2v2m0 3v2m0 2v2m0 7v2m0 6v1m0 9v2m0 19v1m0 39v1m0 5v4m0 3v2m0 3v1m0 5v2m0 8v1m0 2v2m0 25v2m0 14v1m0 17v1m0 8v1m0 58v2m0 5v2m0 11v1m0 8v1m0 1v3m0 9v1m0 3v1m0 6v3m0 18v3m0 10v1m0 3v1m0 3v1m0 13v1m0 8v1m0 11v2m0 4v1m0 8v3m0 3v2m0 14v1m0 5v2M144 205v2m0 4v1m0 14v1m0 30v1m0 24v1m0 8v1m0 1v3m0 27v2m0 24v1m0 10v2m0 10v2m0 18v2m0 10v1m0 3v1m0 5v2m0 40v1m0 4v1m0 16v1m0 2v3m0 3v1m0 17v1m0 6v2m0 2v2m0 21v2m0 1v1m0 13v2m0 41v1m0 1v2m0 36v1m0 5v2m0 24v1m0 16v1m0 1v2M154 205v2m0 13v1m0 31v1m0 8v1m0 20v1m0 1v1m0 9v2m0 15v2m0 11v1m0 16v1m0 17v1m0 4v1m0 6v1m0 2v2m0 5v1m0 3v1m0 4v1m0 4v1m0 7v1m0 4v1m0 32v2m0 11v2m0 7v2m0 7v2m0 10v1m0 18v2m0 11v3m0 17v1m0 2v2m0 9v2m0 25v1m0 7v1m0 15v2m0 2v2m0 6v3m0 14v1m0 32v2m0 1v1m0 3v1m0 8v1M164 205v2m0 14v1m0 5v2m0 15v1m0 102v2m0 1v1m0 8v1m0 4v1m0 15v1m0 11v2m0 18v1m0 5v2m0 2v1m0 3v1m0 12v1m0 17v1m0 5v2m0 18v1m0 13v1m0 3v1m0 16v1m0 4v1m0 10v2m0 13v2m0 5v2m0 34v2m0 23v1m0 4v3m0 1v1m0 1v2m0 4v1m0 17v1m0 4v1m0 3v1m0 10v2m0 10v1M183 211v1m0 5v1m0 51v1m0 1v2m0 11v1m0 16v1m0 2v1m0 1v1m0 21v1m0 21v1m0 5v2m0 19v1m0 11v1m0 17v1m0 18v1m0 2v1m0 36v1m0 11v1m0 8v1m0 4v1m0 17v1m0 4v1m0 8v1m0 4v1m0 4v2m0 5v2m0 6v1m0 20v2m0 6v1m0 11v1m0 14v2m0 3v2m0 6v1m0 2v1m0 55v2M193 220v1m0 15v3m0 1v2m0 7v3m0 52v1m0 11v2m0 62v1m0 1v1m0 2v1m0 16v2m0 13v1m0 5v2m0 2v2m0 2v1m0 2v1m0 4v2m0 8v2m0 6v1m0 9v2m0 1v1m0 1v2m0 18v1m0 12v1m0 28v2m0 46v1m0 16v1m0 4v3m0 2v1m0 11v1m0 1v2m0 36v1m0 4v1m0 10v2M203 217v1m0 6v1m0 36v1m0 3v1m0 14v2m0 25v2m0 4v1m0 19v1m0 8v1m0 37v1m0 2v2m0 5v2m0 15v1m0 18v1m0 7v1m0 81v2m0 54v1m0 31v1m0 8v1m0 2v1m0 24v2m0 5v2M222 220v1m0 24v2m0 62v1m0 22v1m0 10v2m0 6v2m0 2v1m0 4v2m0 1v1m0 4v1m0 12v1m0 23v2m0 16v2m0 6v1m0 3v1m0 5v2m0 6v2m0 12v2m0 27v1m0 9v3m0 37v1m0 2v1m0 5v1m0 33v1m0 8v1m0 14v1m0 4v2m0 1v1m0 9v1m0 17v2m0 18v1M232 207v1m0 36v1m0 7v1m0 2v1m0 24v2m0 1v1m0 16v1m0 15v2m0 14v1m0 10v2m0 4v1m0 8v1m0 21v1m0 2v2m0 1v3m0 28v1m0 4v1m0 26v2m0 14v1m0 1v2m0 3v2m0 5v1m0 10v3m0 4v1m0 3v1m0 9v1m0 22v2m0 5v1m0 21v1m0 22v1m0 3v1m0 3v1m0 32v1m0 3v1m0 34v1m0 9v1m0 7v2M242 213v2m0 29v1m0 10v1m0 6v2m0 21v7m0 6v2m0 20v2m0 10v1m0 1v2m0 49v1m0 18v1m0 20v1m0 1v2m0 1v1m0 12v1m0 7v1m0 15v2m0 1v1m0 1v2m0 4v3m0 2v1m0 5v1m0 12v1m0 3v1m0 2v2m0 27v1m0 6v1m0 3v1m0 27v1m0 4v1m0 3v1m0 29v1m0 18v1m0 21v1m0 4v1M261 211v1m0 40v1m0 2v1m0 26v2m0 8v1m0 14v3m0 22v4m0 9v1m0 7v1m0 2v2m0 5v1m0 12v1m0 18v1m0 4v2m0 1v1m0 9v1m0 9v2m0 26v1m0 29v2m0 6v1m0 3v1m0 22v2m0 25v2m0 7v3m0 9v1m0 21v1m0 5v2m0 5v1m0 5v2m0 3v2m0 46v1m0 6v2m0 5v2m0 11v1M271 225v1m0 12v1m0 6v2m0 10v1m0 6v1m0 19v1m0 8v1m0 13v2m0 16v2m0 4v2m0 13v1m0 21v1m0 16v1m0 55v2m0 1v1m0 29v1m0 14v1m0 8v2m0 5v1m0 37v2m0 7v2m0 7v2m0 13v1m0 37v2m0 36v1m0 14v1m0 2v1m0 5v1m0 7v1m0 4v1M281 217v1m0 15v1m0 2v3m0 1v2m0 40v1m0 1v1m0 8v1m0 6v1m0 6v2m0 5v1m0 27v1m0 8v2m0 15v1m0 36v2m0 2v2m0 23v1m0 14v2m0 5v1m0 19v2m0 16v2m0 7v2m0 15v1m0 20v1m0 31v1m0 2v1m0 6v2m0 22v1m0 14v1m0 25v1m0 22v3M300 220v1m0 12v1m0 32v1m0 6v1m0 17v1m0 5v1m0 16v1m0 16v1m0 6v2m0 10v1m0 9v2m0 10v1m0 4v3m0 9v1m0 15v2m0 1v1m0 3v1m0 3v2m0 3v1m0 5v2m0 3v2m0 1v1m0 34v1m0 4v1m0 4v1m0 16v1m0 27v2m0 6v1m0 7v1m0 5v2m0 36v2m0 21v1m0 3v1m0 22v1m0 18v2m0 9v1m0 10v1m0 8v1M310 218v2m0 1v1m0 21v1m0 22v3m0 6v1m0 13v2m0 2v1m0 21v1m0 4v2m0 16v2m0 3v2m0 5v1m0 8v1m0 8v1m0 16v1m0 10v2m0 4v1m0 9v1m0 9v1m0 4v2m0 3v2m0 13v1m0 1v2m0 7v3m0 6v2m0 29v2m0 7v2m0 5v1m0 5v1m0 12v1m0 22v2m0 5v1m0 5v1m0 4v2m0 22v1m0 11v2m0 10v1m0 3v1m0 1v4m0 3v1m0 3v1m0 5v2m0 24v1m0 2v1M320 207v1m0 17v1m0 1v4m0 11v1m0 17v1m0 22v1m0 36v2m0 14v1m0 30v1m0 46v2m0 16v2m0 4v1m0 5v3m0 19v3m0 7v2m0 22v1m0 6v2m0 10v1m0 3v2m0 13v1m0 30v1m0 22v2m0 34v2m0 6v1m0 17v2m0 18v1M339 221v1m0 8v3m0 11v1m0 8v2m0 2v1m0 51v1m0 13v1m0 4v1m0 7v1m0 12v1m0 5v1m0 4v2m0 2v1m0 11v1m0 18v1m0 2v2m0 12v1m0 4v1m0 9v2m0 3v2m0 1v1m0 4v1m0 34v1m0 35v1m0 12v1m0 7v1m0 8v1m0 14v2m0 1v1m0 1v2m0 38v3m0 1v3m0 2v2m0 19v1m0 18v2m0 1v1m0 26v1M349 216v1m0 10v2m0 2v2m0 5v1m0 18v1m0 3v1m0 8v1m0 5v2m0 24v2m0 3v2m0 37v1m0 7v2m0 22v2m0 7v3m0 6v3m0 9v1m0 3v1m0 4v1m0 3v1m0 5v2m0 2v1m0 3v3m0 2v1m0 16v1m0 43v1m0 3v1m0 6v2m0 7v2m0 5v1m0 1v2m0 2v2m0 6v3m0 1v1m0 9v2m0 9v1m0 1v1m0 6v1m0 13v1m0 10v2m0 6v1m0 20v1m0 5v1m0 16v1m0 3v1m0 14v2m0 11v1M368 207v1m0 18v1m0 20v4m0 28v3m0 23v1m0 10v2m0 18v1m0 18v1m0 8v1m0 30v1m0 15v1m0 13v1m0 4v1m0 39v1m0 1v4m0 34v1m0 16v1m0 6v2m0 1v2m0 21v1m0 16v1m0 39v1m0 3v1m0 4v4m0 18v1m0 7v1m0 11v2M378 211v1m0 1v2m0 1v2m0 17v3m0 6v1m0 3v1m0 12v1m0 12v1m0 7v1m0 15v2m0 37v3m0 3v2m0 10v1m0 7v2m0 3v1m0 30v1m0 21v1m0 10v2m0 10v1m0 11v1m0 13v2m0 70v3m0 1v1m0 14v2m0 4v1m0 17v1m0 23v1m0 2v1m0 14v1m0 9v2m0 18v1m0 9v1M388 208v1m0 4v2m0 21v3m0 1v2m0 2v1m0 2v1m0 12v1m0 6v2m0 15v1m0 6v1m0 6v2m0 19v1m0 2v1m0 24v2m0 5v1m0 5v2m0 11v1m0 2v1m0 8v1m0 8v1m0 4v3m0 10v1m0 35v1m0 11v1m0 5v1m0 14v2m0 44v1m0 10v1m0 29v1m0 10v2m0 5v1m0 1v2m0 10v1m0 11v1m0 24v2m0 4v1m0 5v1m0 20v1M407 209v2m0 19v1m0 5v3m0 5v1m0 7v1m0 3v1m0 7v1m0 2v2m0 10v1m0 82v1m0 19v1m0 3v1m0 12v1m0 11v2m0 8v1m0 3v2m0 16v1m0 3v1m0 15v2m0 4v1m0 2v2m0 5v1m0 5v2m0 5v2m0 18v2m0 4v1m0 23v1m0 13v2m0 5v1m0 26v1m0 7v1m0 32v1m0 8v1m0 25v1M417 217v1m0 12v1m0 3v1m0 3v1m0 19v3m0 9v1m0 12v1m0 47v1m0 5v1m0 11v2m0 26v1m0 18v2m0 14v1m0 4v3m0 1v1m0 1v2m0 7v2m0 13v1m0 8v1m0 1v2m0 9v1m0 48v1m0 1v1m0 18v3m0 17v2m0 4v2m0 1v1m0 12v1m0 8v1m0 16v1m0 1v1m0 11v1m0 4v1M427 217v1m0 15v1m0 4v1m0 4v1m0 5v2m0 16v2m0 6v1m0 7v1m0 5v2m0 1v1m0 3v1m0 10v2m0 28v1m0 8v1m0 4v2m0 3v3m0 3v1m0 2v2m0 31v2m0 16v1m0 4v1m0 3v2m0 5v2m0 1v1m0 5v2m0 10v1m0 2v1m0 1v2m0 1v2m0 6v1m0 8v1m0 10v1m0 26v4m0 32v2m0 10v1m0 2v1m0 10v1m0 11v2m0 38v1m0 8v1m0 18v1M446 227v2m0 10v1m0 21v1m0 5v2m0 1v1m0 11v1m0 6v2m0 7v2m0 1v1m0 4v1m0 22v2m0 18v1m0 41v1m0 10v1m0 2v2m0 22v1m0 27v1m0 17v1m0 2v1m0 41v3m0 31v1m0 13v1m0 8v1m0 10v2m0 17v1m0 26v1M456 207v1m0 23v2m0 2v1m0 42v5m0 2v2m0 1v1m0 22v2m0 15v1m0 16v1m0 18v1m0 2v1m0 12v1m0 1v1m0 3v1m0 52v1m0 18v2m0 20v1m0 13v2m0 2v2m0 5v1m0 15v2m0 7v2m0 31v1m0 21v1m0 58v1M466 215v1m0 2v2m0 15v1m0 4v3m0 9v1m0 16v1m0 10v2m0 7v2m0 37v1m0 24v1m0 14v1m0 4v1m0 11v1m0 17v1m0 12v1m0 12v1m0 28v2m0 2v1m0 65v1m0 1v2m0 33v2m0 6v1m0 8v1m0 16v2m0 7v1m0 7v1m0 2v2m0 16v3m0 4v1m0 12v1M485 217v1m0 24v1m0 4v1m0 16v1m0 48v1m0 1v1m0 38v1m0 5v2m0 2v1m0 9v2m0 6v1m0 43v1m0 4v1m0 12v1m0 2v1m0 1v2m0 2v1m0 7v1m0 5v2m0 2v1m0 24v1m0 19v3m0 5v1m0 16v1m0 7v1m0 8v2m0 3v1m0 6v2m0 1v3m0 2v4m0 13v1m0 32v2m0 9v1m0 7v1m0 2v2M495 217v1m0 8v1m0 2v1m0 9v1m0 33v2m0 12v1m0 25v1m0 8v1m0 2v2m0 4v1m0 17v1m0 1v2m0 9v1m0 1v1m0 18v2m0 2v3m0 22v1m0 8v1m0 5v2m0 24v3m0 20v2m0 5v1m0 9v1m0 2v1m0 19v2m0 1v1m0 22v1m0 7v1m0 35v1m0 13v1m0 3v1m0 8v1m0 2v1m0 13v1M505 217v1m0 26v3m0 17v2m0 9v1m0 7v1m0 7v2m0 7v1m0 54v1m0 9v2m0 6v1m0 7v1m0 17v1m0 4v1m0 4v2m0 3v2m0 10v1m0 3v1m0 8v1m0 14v2m0 5v1m0 10v2m0 2v2m0 27v1m0 35v1m0 8v2m0 7v1m0 1v2m0 36v1m0 4v1m0 31v1M524 205v2m0 4v1m0 3v1m0 10v1m0 3v1m0 7v1m0 3v1m0 17v1m0 10v2m0 3v3m0 18v3m0 14v1m0 1v2m0 31v1m0 5v1m0 3v3m0 2v1m0 8v1m0 8v1m0 15v2m0 5v2m0 5v1m0 16v2m0 13v1m0 12v1m0 13v1m0 2v1m0 14v1m0 2v1m0 44v1m0 8v1m0 4v1m0 39v1m0 3v3m0 23v1m0 1v2m0 11v1m0 3v1m0 4v2m0 2v1m0 26v1M534 205v2m0 2v2m0 1v1m0 2v1m0 10v1m0 9v2m0 2v3m0 14v1m0 13v2m0 24v1m0 16v1m0 1v2m0 11v2m0 7v2m0 2v1m0 7v1m0 21v1m0 7v1m0 6v3m0 49v1m0 3v1m0 19v2m0 7v2m0 11v3m0 4v1m0 26v1m0 3v1m0 9v3m0 14v2m0 6v1m0 5v1m0 5v2m0 26v1m0 4v2m0 9v2m0 1v1m0 18v1m0 2v1m0 19v2M544 216v1m0 12v1m0 43v1m0 5v1m0 3v1m0 16v1m0 5v1m0 15v1m0 2v3m0 6v2m0 2v2m0 9v1m0 12v1m0 17v1m0 6v2m0 38v2m0 19v1m0 20v1m0 9v1m0 16v1m0 1v2m0 6v1m0 7v1m0 4v1m0 3v1m0 6v2m0 1v1m0 17v1m0 4v2m0 40v1m0 1v1m0 25v1m0 14v2M563 208v3m0 25v2m0 9v1m0 1v2m0 6v1m0 13v2m0 14v1m0 21v1m0 32v1m0 13v2m0 1v3m0 15v3m0 7v2m0 27v1m0 21v1m0 12v1m0 1v1m0 24v1m0 32v1m0 3v1m0 14v2m0 2v2m0 34v2m0 2v2m0 12v2m0 46v1M573 213v2m0 14v1m0 9v1m0 8v1m0 7v1m0 10v2m0 2v2m0 1v2m0 8v1m0 6v1m0 28v2m0 1v1m0 8v2m0 8v1m0 15v1m0 9v1m0 14v2m0 7v2m0 6v2m0 11v1m0 18v2m0 13v1m0 9v1m0 9v2m0 6v1m0 18v2m0 7v2m0 24v1m0 13v2m0 10v1m0 20v1m0 8v1m0 2v2m0 5v1m0 13v1m0 25v1m0 7v1M583 224v1m0 15v2m0 63v1m0 3v1m0 6v2m0 6v3m0 9v2m0 31v2m0 5v1m0 23v3m0 8v1m0 6v2m0 16v2m0 14v1m0 7v1m0 2v2m0 10v1m0 24v1m0 2v2m0 11v2m0 16v2m0 22v1m0 18v1m0 7v1m0 13v1M602 207v2m0 4v2m0 3v2m0 23v2m0 4v2m0 31v1m0 1v1m0 11v2m0 2v1m0 27v1m0 8v1m0 2v1m0 2v2m0 1v1m0 16v1m0 10v2m0 26v1m0 22v1m0 1v2m0 3v2m0 13v1m0 14v1m0 3v1m0 8v1m0 7v1m0 28v2m0 11v2m0 19v1m0 7v1m0 5v1m0 2v1m0 17v1m0 8v1m0 48v1m0 27v1M612 211v1m0 3v1m0 2v2m0 50v1m0 11v1m0 2v2m0 5v1m0 23v2m0 5v1m0 9v1m0 22v2m0 1v1m0 43v1m0 1v2m0 1v3m0 16v3m0 32v1m0 17v1m0 26v2m0 16v2m0 6v1m0 3v1m0 8v1m0 11v1m0 2v2m0 62v1m0 27v1m0 25v1"/>
<path stroke="#0010ff" stroke-width="9" d="M76.5 207v1m0 8v1m0 22v1m0 36v2m0 23v1m0 39v1m0 36v2m0 9v2m0 12v2m0 11v2m0 4v1m0 17v1m0 10v1m0 10v1m0 2v1m0 27v1m0 13v2m0 24v1m0 9v2m0 7v2m0 24v1m0 60v1m0 4v1m0 3v1m0 17v1M95.5 293v3m0 8v1m0 5v1m0 2v1m0 37v2m0 19v2m0 8v1m0 16v1m0 12v1m0 12v1m0 9v1m0 4v1m0 24v1m0 43v1m0 13v2m0 4v1m0 7v1m0 11v1m0 15v2m0 12v2m0 22v1m0 85v1M134.5 209v2m0 23v1m0 14v2m0 1v1m0 3v1m0 34v1m0 4v1m0 25v1m0 5v1m0 2v1m0 28v3m0 63v1m0 16v1m0 4v1m0 3v1m0 12v1m0 19v2m0 20v2m0 2v1m0 8v1m0 3v1m0 13v1m0 15v1m0 22v1m0 4v1m0 12v1m0 12v1m0 14v2m0 1v1m0 26v1m0 7v1m0 3v1m0 2v2m0 1v1M173.5 207v1m0 21v1m0 9v1m0 15v1m0 1v1m0 7v2m0 4v3m0 1v1m0 29v2m0 42v1m0 15v2m0 13v1m0 9v1m0 1v2m0 11v2m0 7v2m0 5v1m0 1v2m0 16v2m0 38v2m0 15v2m0 7v2m0 9v2m0 9v1m0 7v1m0 11v1m0 6v2m0 25v2m0 7v2m0 1v3m0 12v2m0 24v1m0 13v3m0 1v2m0 10v1M212.5 212v3m0 25v2m0 23v1m0 23v2m0 5v1m0 3v1m0 13v4m0 77v3m0 4v1m0 2v2m0 31v1m0 21v1m0 1v1m0 18v2m0 4v1m0 35v1m0 44v2m0 2v1m0 5v1m0 6v1m0 15v2m0 14v1m0 10v2m0 7v2m0 15v2m0 6v1m0 9v2M251.5 211v1m0 76v3m0 2v1m0 6v1m0 8v1m0 24v2m0 2v2m0 24v1m0 4v2m0 18v3m0 6v1m0 28v2m0 1v1m0 39v1m0 5v2m0 9v1m0 8v1m0 14v1m0 13v2m0 5v1m0 43v1m0 6v2m0 7v2m0 13v1m0 5v1m0 9v2m0 32v1m0 4v3m0 10v1m0 14v2M290.5 209v2m0 14v1m0 7v1m0 8v2m0 18v2m0 1v1m0 7v1m0 11v2m0 24v2m0 47v2m0 38v2m0 3v2m0 41v1m0 27v2m0 12v2m0 2v2m0 22v1m0 28v2m0 1v1m0 18v1m0 4v2m0 11v1m0 4v2m0 16v3m0 24v3m0 10v2m0 7v2m0 6v1m0 8v1M329.5 287v1m0 8v1m0 18v1m0 3v1m0 21v1m0 5v2m0 18v1m0 50v2m0 3v2m0 18v1m0 18v1m0 6v1m0 5v3m0 16v2m0 27v1m0 1v2m0 1v1m0 29v2m0 12v1m0 4v1m0 3v1m0 19v3m0 28v2m0 2v1m0 3v1m0 6v1m0 13v1m0 17v1M358.5 233v1m0 19v2m0 21v2m0 6v1m0 20v1m0 3v1m0 19v2m0 10v1m0 21v1m0 1v2m0 10v1m0 5v2m0 6v1m0 7v1m0 4v1m0 33v1m0 5v1m0 9v2m0 23v1m0 7v1m0 5v3m0 20v2m0 9v1m0 30v1m0 50v1m0 17v1m0 9v2m0 2v2m0 14v1m0 12v1m0 1v2M397.5 225v1m0 10v2m0 9v4m0 5v2m0 15v1m0 13v1m0 4v1m0 12v1m0 32v2m0 10v1m0 27v2m0 3v2m0 13v1m0 10v2m0 56v2m0 27v1m0 15v2m0 6v1m0 9v2m0 13v1m0 33v2m0 5v2m0 20v2M436.5 216v1m0 10v2m0 4v2m0 72v2m0 28v1m0 83v1m0 3v1m0 23v2m0 15v1m0 5v2m0 16v2m0 10v1m0 4v2m0 9v1m0 19v1m0 3v1m0 4v2m0 2v1m0 2v2m0 30v1m0 7v1m0 4v2m0 4v2m0 12v3m0 34v1m0 27v1M475.5 213v2m0 21v2m0 7v2m0 6v2m0 9v1m0 29v2m0 6v2m0 2v3m0 1v1m0 26v1m0 3v1m0 16v2m0 9v2m0 1v1m0 1v2m0 6v1m0 13v2m0 64v1m0 4v2m0 10v1m0 8v1m0 26v1m0 48v1m0 30v1m0 8v1m0 9v2m0 19v1m0 5v3M514.5 209v2m0 5v1m0 18v1m0 30v1m0 17v3m0 1v1m0 7v2m0 11v1m0 3v1m0 29v2m0 15v3m0 2v2m0 1v1m0 12v1m0 12v1m0 31v1m0 14v2m0 5v1m0 8v1m0 17v1m0 5v2m0 13v1m0 9v1m0 7v1m0 4v1m0 10v2m0 6v1m0 13v3m0 15v2m0 1v1m0 4v1m0 3v1m0 16v1m0 5v2m0 25v2m0 5v1M553.5 209v2m0 2v2m0 21v2m0 10v1m0 43v1m0 14v2m0 7v2m0 5v1m0 1v2m0 7v2m0 9v1m0 9v1m0 3v1m0 13v1m0 30v1m0 6v1m0 18v1m0 25v1m0 14v1m0 7v1m0 36v2m0 59v1m0 14v2m0 5v1m0 3v1m0 17v1m0 6v2m0 1v1m0 16v1m0 1v2M592.5 207v1m0 58v1m0 21v1m0 25v1m0 4v1m0 5v2m0 5v1m0 70v1m0 28v2m0 26v2m0 8v1m0 1v2m0 10v1m0 4v3m0 1v1m0 20v1m0 14v1m0 6v1m0 2v2m0 19v1m0 33v1m0 3v1m0 19v1m0 24v1m0 12v1"/>
<path stroke="#0010ff" stroke-width="9.5" d="M621.75 218v3m0 35v1m0 22v1m0 5v2m0 6v1m0 20v1m0 7v1m0 19v1m0 75v2m0 1v1m0 19v2m0 8v2m0 18v1m0 2v1m0 5v1m0 2v1m0 6v2m0 8v1m0 18v1m0 12v4m0 1v1m0 14v2m0 33v1m0 6v1m0 5v1m0 13v2m0 5v1m0 3v1m0 4v1m0 14v2"/>
<path stroke="#0010ff" stroke-width="10" d="M86 213v2m0 59v1m0 17v1m0 25v1m0 22v1m0 31v1m0 9v2m0 33v2m0 7v2m0 6v1m0 4v1m0 4v2m0 10v1m0 49v2m0 11v1m0 8v1m0 4v2m0 6v1m0 3v1m0 11v1m0 8v1m0 10v1m0 17v2m0 7v2m0 70v2m0 15v2M105 258v2m0 11v2m0 12v2m0 4v1m0 5v1m0 12v1m0 2v2m0 3v1m0 45v1m0 17v1m0 17v2m0 21v2m0 13v1m0 2v2m0 10v3m0 6v1m0 2v1m0 19v2m0 15v1m0 4v2m0 27v1m0 1v1m0 7v1m0 2v1m0 2v2m0 24v1m0 13v3m0 1v3m0 45v1m0 11v1m0 33v2M115 222v3m0 26v1m0 6v3m0 12v3m0 2v1m0 6v2m0 22v1m0 14v1m0 2v1m0 3v1m0 1v1m0 30v1m0 2v1m0 15v2m0 4v1m0 8v1m0 3v1m0 29v2m0 2v2m0 16v3m0 1v2m0 7v2m0 7v2m0 40v1m0 17v1m0 9v1m0 3v1m0 5v2m0 7v2m0 7v3m0 21v1m0 13v2m0 12v1m0 5v3m0 6v2m0 7v3m0 15v2M125 211v1m0 5v1m0 6v1m0 9v1m0 16v1m0 4v1m0 3v1m0 14v1m0 24v1m0 45v1m0 11v2m0 21v1m0 16v1m0 37v2m0 3v2m0 5v1m0 11v1m0 9v1m0 1v2m0 6v1m0 8v3m0 5v1m0 14v2m0 1v1m0 34v1m0 31v1m0 40v2m0 2v1m0 6v1m0 17v1m0 10v2M144 209v2m0 29v2m0 6v1m0 22v2m0 32v2m0 8v1m0 13v2m0 5v1m0 10v2m0 14v1m0 5v2m0 3v2m0 37v1m0 38v1m0 19v2m0 18v1m0 1v2m0 11v2m0 11v1m0 33v2m0 3v1m0 8v1m0 12v1m0 1v3m0 14v1m0 2v1m0 13v1m0 19v2m0 2v2m0 5v1m0 9v1M154 226v3m0 1v1m0 3v1m0 20v1m0 15v2m0 28v1m0 3v2m0 2v2m0 7v1m0 4v1m0 5v2m0 5v1m0 30v1m0 26v1m0 3v1m0 10v2m0 1v1m0 5v2m0 6v1m0 4v1m0 3v1m0 16v1m0 14v2m0 5v1m0 12v2m0 31v1m0 9v3m0 14v2m0 91v3m0 1v1m0 17v1m0 11v1m0 5v1M164 218v2m0 10v1m0 4v3m0 2v2m0 14v1m0 4v1m0 3v1m0 22v1m0 5v2m0 1v1m0 7v1m0 19v2m0 4v1m0 9v1m0 21v1m0 14v2m0 2v1m0 3v1m0 3v1m0 3v1m0 28v2m0 41v1m0 11v1m0 1v1m0 22v2m0 9v1m0 17v1m0 9v1m0 4v2m0 29v1m0 17v2m0 23v1m0 17v1m0 4v1m0 13v1m0 9v2m0 10v3m0 5v1M183 235v1m0 2v2m0 15v1m0 4v1m0 30v1m0 23v3m0 7v2m0 45v1m0 50v3m0 14v3m0 10v1m0 11v1m0 1v3m0 15v2m0 19v1m0 2v1m0 6v2m0 34v2m0 2v2m0 18v1m0 4v1m0 1v2m0 10v1m0 11v1m0 17v1m0 10v1m0 20v1m0 4v1m0 2v1m0 13v1m0 14v2M193 222v2m0 36v1m0 1v2m0 11v1m0 89v2m0 25v2m0 10v1m0 2v1m0 48v1m0 4v2m0 25v1m0 27v2m0 24v1m0 29v1m0 4v2m0 9v2m0 46v4m0 1v2m0 1v1m0 20v1m0 13v1M203 213v2m0 7v2m0 23v1m0 3v1m0 14v1m0 11v1m0 13v1m0 17v1m0 3v1m0 77v2m0 2v2m0 1v1m0 4v1m0 30v1m0 3v1m0 16v1m0 3v1m0 17v2m0 3v1m0 14v2m0 1v1m0 12v1m0 5v1m0 40v2m0 5v2m0 9v2m0 20v2m0 33v1m0 21v1m0 9v2m0 2v2m0 12v2M222 216v1m0 18v1m0 11v1m0 1v2m0 2v2m0 3v2m0 11v3m0 20v2m0 22v1m0 8v1m0 55v3m0 4v1m0 4v1m0 21v1m0 3v2m0 29v1m0 8v1m0 12v1m0 34v2m0 10v2m0 18v1m0 13v1m0 7v1m0 36v1m0 48v1m0 2v1m0 6v2m0 1v1m0 7v1m0 21v1M232 217v1m0 17v1m0 4v2m0 20v2m0 1v1m0 5v2m0 5v1m0 12v2m0 3v1m0 17v1m0 3v4m0 2v1m0 21v1m0 34v1m0 7v1m0 63v3m0 5v1m0 12v2m0 34v1m0 1v2m0 25v2m0 14v1m0 25v1m0 31v1m0 20v1m0 30v1m0 4v1m0 10v2m0 5v1M242 231v2m0 34v2m0 11v2m0 1v1m0 10v3m0 9v1m0 4v2m0 36v1m0 8v1m0 21v1m0 8v2m0 29v1m0 27v3m0 10v1m0 3v1m0 9v1m0 14v2m0 5v1m0 2v1m0 29v2m0 7v2m0 37v1m0 2v1m0 1v2m0 18v1m0 17v1m0 6v2m0 4v1m0 8v1m0 1v2m0 16v3m0 4v1m0 12v1m0 8v1M261 205v2m0 14v1m0 16v1m0 6v2m0 14v1m0 7v1m0 5v1m0 17v1m0 10v1m0 5v1m0 32v2m0 62v1m0 18v1m0 3v1m0 21v1m0 8v1m0 12v1m0 1v2m0 9v1m0 8v1m0 8v1m0 21v1m0 23v1m0 49v2m0 1v1m0 29v1m0 4v1m0 10v2M271 221v1m0 47v1m0 12v1m0 21v1m0 1v1m0 3v1m0 3v1m0 7v1m0 19v3m0 9v1m0 1v2m0 6v1m0 6v1m0 28v2m0 7v2m0 15v1m0 7v1m0 23v2m0 34v2m0 20v2m0 7v2m0 10v1m0 69v1m0 4v1m0 12v1m0 15v2m0 7v2m0 19v3M281 208v3m0 9v1m0 9v1m0 12v1m0 11v1m0 1v1m0 2v1m0 1v2m0 1v1m0 44v1m0 17v1m0 11v1m0 8v1m0 8v1m0 32v1m0 66v2m0 23v1m0 21v1m0 4v1m0 5v2m0 15v1m0 2v1m0 15v2m0 1v1m0 52v1m0 14v3m0 2v2m0 2v3m0 9v1m0 22v1m0 6v1M300 227v2m0 6v1m0 29v1m0 10v3m0 13v1m0 23v2m0 23v1m0 17v1m0 16v1m0 5v1m0 7v1m0 22v1m0 17v1m0 8v1m0 2v1m0 5v2m0 43v2m0 7v2m0 6v1m0 7v1m0 23v2m0 10v1m0 11v1m0 36v1m0 8v1m0 2v1m0 31v2m0 2v1m0 10v2M310 253v2m0 1v1m0 21v1m0 46v2m0 9v1m0 39v1m0 5v1m0 8v1m0 19v1m0 1v1m0 7v1m0 1v2m0 13v1m0 4v2m0 30v1m0 4v1m0 19v1m0 24v2m0 11v1m0 8v2m0 5v1m0 54v1m0 52v1m0 2v1m0 1v1m0 7v1m0 10v2M320 205v2m0 50v1m0 42v1m0 18v1m0 8v3m0 50v1m0 23v2m0 13v1m0 9v1m0 31v1m0 6v1m0 39v1m0 26v1m0 18v3m0 5v1m0 3v1m0 9v2m0 47v1m0 29v1m0 14v1m0 7v1m0 4v1M339 215v1m0 26v2m0 1v2m0 24v2m0 1v1m0 13v1m0 18v2m0 42v2m0 39v2m0 2v2m0 16v2m0 20v2m0 5v1m0 3v1m0 14v1m0 2v1m0 23v1m0 3v3m0 27v1m0 1v2m0 1v1m0 7v1m0 44v1m0 31v1m0 8v1m0 13v1m0 25v1m0 2v1m0 20v2M349 225v1m0 7v1m0 15v2m0 9v1m0 26v2m0 7v1m0 8v1m0 30v1m0 12v1m0 13v2m0 21v1m0 17v1m0 9v2m0 14v1m0 8v1m0 4v1m0 7v1m0 1v2m0 6v1m0 9v3m0 22v1m0 26v1m0 39v1m0 7v1m0 9v1m0 27v2m0 5v1m0 1v2m0 24v2M368 235v3m0 4v1m0 10v2m0 19v1m0 18v1m0 25v3m0 5v1m0 13v1m0 23v2m0 11v2m0 19v1m0 8v1m0 8v1m0 8v1m0 5v2m0 6v1m0 4v2m0 11v2m0 7v2m0 9v1m0 13v1m0 27v1m0 3v1m0 44v1m0 29v1m0 3v1m0 8v1m0 18v1m0 2v1m0 18v1M378 226v1m0 44v2m0 6v1m0 17v1m0 18v2m0 2v2m0 20v1m0 8v3m0 24v2m0 10v2m0 3v1m0 16v1m0 17v1m0 7v1m0 18v3m0 6v1m0 5v2m0 2v2m0 3v2m0 41v1m0 12v1m0 12v1m0 18v3m0 1v1m0 57v1m0 12v1M388 217v3m0 9v1m0 21v1m0 17v1m0 1v2m0 9v1m0 4v1m0 9v1m0 16v2m0 7v2m0 7v1m0 5v2m0 2v3m0 1v1m0 91v1m0 4v1m0 1v2m0 11v2m0 16v2m0 25v2m0 5v1m0 21v1m0 12v1m0 8v1m0 5v1m0 3v1m0 8v1m0 13v1m0 6v1m0 26v1m0 6v2m0 6v1m0 13v2m0 10v1M407 216v1m0 4v1m0 3v2m0 13v2m0 6v1m0 36v2m0 15v2m0 5v2m0 5v2m0 32v1m0 8v1m0 18v2m0 3v2m0 7v3m0 21v1m0 14v1m0 7v1m0 21v1m0 5v2m0 11v1m0 6v1m0 76v1m0 61v1m0 16v1m0 6v2m0 5v1M417 213v2m0 12v2m0 24v2m0 1v2m0 9v2m0 24v1m0 16v3m0 2v1m0 25v1m0 9v2m0 6v1m0 5v2m0 9v1m0 18v1m0 2v1m0 6v2m0 2v2m0 23v1m0 3v1m0 37v2m0 2v3m0 2v2m0 7v2m0 10v3m0 54v1m0 32v2m0 46v3M427 227v2m0 5v1m0 7v1m0 8v1m0 4v1m0 1v2m0 19v1m0 31v2m0 21v3m0 30v1m0 9v1m0 3v1m0 12v1m0 1v2m0 19v1m0 31v2m0 21v2m0 6v1m0 3v1m0 20v2m0 20v1m0 23v1m0 24v1m0 23v1m0 8v3m0 1v1m0 27v2m0 18v1M446 258v2m0 11v2m0 19v1m0 12v1m0 9v1m0 2v1m0 18v1m0 4v1m0 10v1m0 10v1m0 3v1m0 23v2m0 6v2m0 10v1m0 13v3m0 1v1m0 1v2m0 9v1m0 14v2m0 30v2m0 10v1m0 6v1m0 15v2m0 2v1m0 8v1m0 12v1m0 20v1m0 63v1M456 240v2m0 15v1m0 11v1m0 6v2m0 11v2m0 7v2m0 5v2m0 11v1m0 18v3m0 2v3m0 33v2m0 11v1m0 7v1m0 16v1m0 10v2m0 3v2m0 4v1m0 4v1m0 3v1m0 3v1m0 11v2m0 2v2m0 9v1m0 10v1m0 3v1m0 18v2m0 13v2m0 67v2m0 2v1m0 8v3m0 28v1M466 207v1m0 13v1m0 11v1m0 11v2m0 17v2m0 4v1m0 4v1m0 29v2m0 6v1m0 29v2m0 24v2m0 78v3m0 8v1m0 4v1m0 13v2m0 6v3m0 2v1m0 7v2m0 49v3m0 6v1m0 6v1m0 17v2m0 9v2m0 19v1m0 9v1m0 7v1M485 212v1m0 2v1m0 11v2m0 2v2m0 6v1m0 3v1m0 1v2m0 1v1m0 22v2m0 6v1m0 8v1m0 5v2m0 18v1m0 7v1m0 36v1m0 27v2m0 25v2m0 2v2m0 5v1m0 36v1m0 6v1m0 18v1m0 13v1m0 27v2m0 6v1m0 57v2m0 9v1m0 6v2m0 2v3m0 2v2m0 16v3m0 21v1m0 13v1M495 218v2m0 10v1m0 14v2m0 6v2m0 3v2m0 4v1m0 5v1m0 20v1m0 37v2m0 9v1m0 24v2m0 1v1m0 2v1m0 1v1m0 20v1m0 1v2m0 4v1m0 22v1m0 4v1m0 5v2m0 64v1m0 17v1m0 2v1m0 6v2m0 17v1m0 1v1m0 9v2m0 7v2m0 2v2m0 67v1m0 3v1m0 8v1m0 5v1M505 215v2m0 12v1m0 6v2m0 17v1m0 2v2m0 6v3m0 15v3m0 1v1m0 18v2m0 16v2m0 2v2m0 14v1m0 3v1m0 1v2m0 18v1m0 11v2m0 9v1m0 13v1m0 18v2m0 15v1m0 3v1m0 36v2m0 9v1m0 13v1m0 3v1m0 15v3m0 5v1m0 6v1m0 3v1m0 13v1m0 5v1m0 3v1m0 9v2m0 9v1m0 10v2m0 10v1m0 5v2m0 18v2m0 27v2M524 209v2m0 6v1m0 4v2m0 12v2m0 45v1m0 29v1m0 9v1m0 10v2m0 7v2m0 17v1m0 4v2m0 17v1m0 7v2m0 20v1m0 22v1m0 3v1m0 43v1m0 9v1m0 7v1m0 22v1m0 3v1m0 1v2m0 18v1m0 15v2m0 29v4m0 17v1m0 38v1M534 217v1m0 55v1m0 30v1m0 78v2m0 14v1m0 48v1m0 8v1m0 8v3m0 19v1m0 17v1m0 5v3m0 70v1m0 15v2m0 15v1m0 3v1m0 56v1M544 218v2m0 25v2m0 1v1m0 11v1m0 5v1m0 8v1m0 4v2m0 12v2m0 1v1m0 25v1m0 21v1m0 35v1m0 16v1m0 1v2m0 19v1m0 8v1m0 31v1m0 27v2m0 9v1m0 41v2m0 31v2m0 7v1m0 17v1m0 5v1m0 8v1m0 12v3m0 31v1M563 205v2m0 14v1m0 17v1m0 38v1m0 37v2m0 18v1m0 21v1m0 5v1m0 21v1m0 7v1m0 3v1m0 14v3m0 18v1m0 21v1m0 10v2m0 45v1m0 43v1m0 13v1m0 4v1m0 8v1m0 22v1m0 6v1m0 14v1m0 5v2M573 205v2m0 1v1m0 8v3m0 24v1m0 55v1m0 5v1m0 2v1m0 5v1m0 20v1m0 3v1m0 4v1m0 17v1m0 5v2m0 7v3m0 10v1m0 2v1m0 13v1m0 5v2m0 24v1m0 13v2m0 4v1m0 24v2m0 20v2m0 28v1m0 7v1m0 1v4m0 10v2m0 14v1m0 9v1m0 3v1m0 7v1m0 36v1m0 11v1m0 22v1M583 211v1m0 10v2m0 18v1m0 1v1m0 20v1m0 8v1m0 9v1m0 15v1m0 1v2m0 14v1m0 21v1m0 14v1m0 3v1m0 13v1m0 9v3m0 17v1m0 3v1m0 12v1m0 33v2m0 1v1m0 20v1m0 10v1m0 46v1m0 8v1m0 4v1m0 1v3m0 5v1m0 21v1m0 7v2m0 2v2m0 32v2m0 41v1M602 211v1m0 21v1m0 8v1m0 22v1m0 4v3m0 2v1m0 3v3m0 9v1m0 22v1m0 10v3m0 22v1m0 11v1m0 9v1m0 4v1m0 9v2m0 5v1m0 21v1m0 18v3m0 54v1m0 16v1m0 9v1m0 21v1m0 8v1m0 10v2m0 9v1m0 10v2m0 2v1m0 3v1m0 3v3m0 2v1m0 9v3m0 13v1m0 14v2m0 9v1M612 224v1m0 31v1m0 7v1m0 2v2m0 24v1m0 3v1m0 42v1m0 10v2m0 2v1m0 2v1m0 40v1m0 11v1m0 24v2m0 58v1m0 17v1m0 6v3m0 3v1m0 13v1m0 9v1m0 18v2m0 5v1m0 9v1m0 2v1m0 50v2m0 6v1m0 12v1"/>
<path stroke="#0020ff" stroke-width="9" d="M76.5 236v2m0 5v1m0 7v1m0 1v2m0 11v1m0 22v2m0 3v2m0 8v1m0 9v1m0 76v1m0 3v1m0 31v2m0 5v1m0 4v1m0 9v2m0 46v1m0 32v2m0 7v2m0 1v1m0 20v1m0 3v1m0 2v2m0 4v1m0 17v1m0 5v1m0 11v1m0 6v2m0 6v1m0 26v2m0 30v3m0 3v1M95.5 244v1m0 2v1m0 14v2m0 33v3m0 40v1m0 15v2m0 2v2m0 28v1m0 14v2m0 1v1m0 5v2m0 29v2m0 6v1m0 38v1m0 9v1m0 9v2m0 13v1m0 62v1m0 3v1m0 1v2m0 11v1m0 13v2m0 19v1m0 8v1m0 34v1m0 1v2M134.5 217v1m0 30v1m0 38v1m0 39v1m0 36v1m0 4v2m0 11v1m0 33v1m0 14v1m0 13v3m0 13v1m0 8v1m0 1v2m0 4v1m0 1v1m0 19v1m0 40v1m0 8v2m0 9v2m0 27v1m0 10v2m0 25v2m0 26v1M173.5 218v2m0 41v1m0 35v1m0 11v1m0 22v1m0 8v1m0 14v2m0 20v2m0 5v1m0 9v1m0 55v1m0 6v2m0 20v1m0 24v1m0 30v1m0 15v3m0 46v2m0 22v2m0 1v2m0 9v1m0 23v2m0 5v1M212.5 220v1m0 3v1m0 8v1m0 10v1m0 3v1m0 20v1m0 15v2m0 4v1m0 19v2m0 63v1m0 22v1m0 40v3m0 31v1m0 14v1m0 3v1m0 44v1m0 15v1m0 24v2m0 9v1m0 9v1m0 3v1m0 8v1m0 35v1m0 8v3m0 23v1M251.5 235v1m0 3v1m0 39v1m0 26v1m0 4v2m0 63v1m0 5v1m0 22v2m0 7v2m0 27v1m0 7v2m0 8v1m0 21v1m0 6v2m0 13v1m0 31v1m0 39v1m0 9v1m0 33v1m0 48v1m0 21v1M290.5 221v1m0 2v1m0 1v1m0 8v1m0 24v1m0 15v2m0 19v1m0 18v2m0 14v1m0 8v1m0 45v2m0 43v2m0 9v1m0 28v2m0 11v3m0 31v1m0 13v1m0 18v2m0 28v1m0 2v1m0 27v1m0 2v1m0 14v3m0 7v2m0 6v1m0 12v1m0 3v1m0 14v2M329.5 207v1m0 17v1m0 3v1m0 12v1m0 1v1m0 83v3m0 42v1m0 2v1m0 12v1m0 30v1m0 15v2m0 15v1m0 20v1m0 26v1m0 67v1m0 51v1m0 8v1m0 18v1m0 7v1m0 18v1M358.5 242v1m0 6v2m0 15v1m0 30v1m0 2v1m0 42v2m0 31v1m0 62v1m0 13v1m0 4v2m0 15v1m0 33v1m0 31v2m0 16v1m0 4v1m0 2v1m0 13v1m0 35v1m0 1v2m0 35v1M397.5 211v1m0 18v1m0 8v1m0 2v1m0 66v1m0 21v1m0 30v1m0 95v2m0 21v2m0 6v1m0 17v2m0 10v1m0 22v1m0 7v2m0 67v3m0 12v1m0 9v1m0 5v3m0 8v1M436.5 226v1m0 82v1m0 3v1m0 11v2m0 5v1m0 41v2m0 50v1m0 3v1m0 8v1m0 4v1m0 31v2m0 6v1m0 8v1m0 3v1m0 14v2m0 11v2m0 131v1m0 7v1M475.5 212v1m0 9v2m0 3v2m0 1v3m0 38v2m0 6v1m0 20v1m0 17v1m0 5v1m0 35v2m0 5v1m0 18v1m0 7v2m0 2v2m0 7v1m0 24v2m0 26v1m0 8v1m0 8v1m0 14v1m0 15v1m0 14v1m0 9v2m0 11v2m0 36v1m0 2v2m0 31v1m0 8v1m0 32v2M514.5 222v2m0 18v2m0 18v2m0 1v1m0 17v1m0 23v2m0 22v1m0 23v1m0 83v1m0 12v1m0 71v1m0 4v1m0 2v1m0 1v2m0 25v2m0 13v1m0 36v1m0 2v1m0 5v1M553.5 227v2m0 16v3m0 34v1m0 2v2m0 23v1m0 11v1m0 23v1m0 9v2m0 6v1m0 12v1m0 20v1m0 75v1m0 12v1m0 1v1m0 19v1m0 1v1m0 18v2m0 15v3m0 1v1m0 18v2m0 4v1m0 28v2m0 2v1m0 6v1m0 8v1M592.5 216v1m0 1v2m0 16v2m0 11v2m0 13v1m0 15v2m0 61v2m0 6v2m0 6v1m0 2v1m0 10v1m0 11v1m0 5v1m0 2v1m0 5v2m0 23v1m0 89v1m0 11v1m0 9v1m0 17v1m0 11v1m0 4v1m0 1v2m0 15v1m0 27v2m0 24v2"/>
<path stroke="#0020ff" stroke-width="9.5" d="M621.75 224v1m0 32v1m0 40v2m0 2v2m0 2v1m0 29v2m0 2v1m0 51v2m0 9v1m0 40v1m0 44v1m0 24v1m0 10v2m0 37v1m0 12v2m0 43v1m0 5v2m0 2v2"/>
<path stroke="#0020ff" stroke-width="10" d="M86 216v1m0 13v1m0 5v2m0 9v1m0 3v1m0 10v2m0 2v1m0 18v2m0 27v1m0 36v2m0 7v2m0 33v1m0 18v2m0 123v2m0 6v2m0 3v2m0 15v1m0 20v1m0 1v4m0 7v1m0 5v1m0 2v1m0 35v1m0 17v1m0 26v1M105 244v1m0 29v1m0 36v2m0 12v2m0 4v1m0 1v3m0 4v1m0 5v1m0 55v1m0 29v2m0 11v2m0 41v1m0 23v2m0 9v1m0 3v1m0 15v2m0 25v2m0 27v1m0 12v1m0 26v1m0 1v2m0 5v1m0 4v1m0 3v1m0 35v1M115 207v1m0 34v1m0 61v1m0 17v1m0 45v1m0 5v2m0 9v1m0 26v1m0 22v1m0 48v1m0 4v1m0 21v1m0 15v1m0 10v1m0 20v1m0 31v1m0 25v1m0 12v1m0 18v1m0 3v1m0 3v1m0 8v1m0 7v1m0 10v1M125 230v1m0 73v1m0 4v1m0 44v1m0 7v1m0 5v1m0 26v1m0 6v1m0 28v1m0 3v1m0 8v1m0 7v1m0 31v1m0 3v1m0 18v2m0 18v1m0 6v2m0 2v1m0 7v1m0 27v3m0 26v1m0 24v2m0 20v2m0 22v1M144 256v1m0 12v1m0 31v1m0 25v1m0 26v2m0 11v1m0 14v1m0 3v1m0 11v1m0 8v1m0 12v1m0 10v1m0 28v1m0 4v1m0 8v1m0 10v2m0 13v2m0 7v1m0 17v1m0 22v1m0 14v2m0 23v1m0 17v1m0 5v2m0 5v1m0 4v1m0 17v1m0 17v1m0 11v1m0 5v1m0 3v1M154 256v1m0 12v1m0 3v1m0 15v2m0 34v2m0 16v2m0 10v1m0 30v1m0 33v1m0 24v2m0 4v1m0 4v2m0 31v1m0 2v1m0 8v1m0 12v1m0 6v2m0 53v1m0 6v2m0 31v1m0 14v1m0 26v1m0 9v2M164 211v1m0 103v1m0 4v2m0 61v2m0 29v2m0 29v2m0 34v2m0 5v1m0 17v1m0 23v2m0 22v1m0 14v1m0 6v1m0 4v1m0 19v2m0 9v1m0 1v3m0 48v1m0 4v1M183 229v1m0 43v1m0 22v1m0 40v1m0 3v1m0 9v2m0 23v1m0 6v2m0 5v1m0 7v2m0 22v1m0 35v2m0 38v2m0 1v1m0 1v2m0 2v2m0 30v2m0 33v2m0 6v1m0 15v1m0 24v2M193 207v1m0 9v1m0 29v1m0 35v1m0 48v1m0 14v2m0 29v2m0 1v1m0 1v2m0 5v1m0 7v1m0 19v2m0 2v1m0 22v2m0 6v1m0 25v1m0 13v1m0 4v2m0 1v1m0 7v1m0 2v2m0 23v1m0 23v2m0 13v1m0 4v1m0 13v1m0 11v1m0 23v3m0 56v2M203 207v1m0 4v1m0 5v2m0 28v1m0 6v1m0 27v1m0 5v2m0 9v1m0 37v2m0 5v1m0 1v2m0 32v1m0 21v1m0 1v2m0 18v1m0 36v1m0 11v1m0 10v2m0 68v1m0 9v2m0 11v1m0 2v1m0 21v1m0 5v1m0 60v1m0 8v1M222 215v1m0 17v1m0 10v1m0 19v3m0 9v2m0 19v3m0 16v2m0 1v1m0 79v1m0 2v1m0 15v2m0 6v1m0 21v1m0 2v1m0 2v2m0 10v1m0 14v2m0 7v2m0 31v1m0 48v2m0 5v2m0 15v3m0 5v1m0 8v1m0 14v2m0 7v2m0 4v1m0 4v1m0 7v1m0 1v1m0 16v1M232 253v2m0 3v2m0 4v1m0 8v1m0 11v3m0 10v2m0 27v1m0 3v1m0 1v1m0 43v1m0 40v2m0 1v1m0 4v1m0 56v1m0 19v3m0 13v1m0 1v2m0 19v1m0 3v1m0 2v1m0 23v1m0 8v1m0 2v1m0 12v1m0 2v2m0 40v1m0 10v2m0 37v1M242 216v1m0 5v2m0 11v1m0 22v2m0 93v1m0 9v1m0 30v1m0 1v2m0 16v2m0 85v1m0 30v1m0 22v4m0 1v1m0 4v2m0 51v1m0 6v1m0 10v3m0 10v3m0 19v1m0 3v1m0 5v2M261 262v2m0 15v1m0 26v1m0 18v2m0 11v2m0 9v1m0 32v1m0 6v2m0 7v1m0 13v1m0 30v1m0 5v2m0 2v1m0 29v1m0 45v1m0 3v1m0 3v1m0 1v2m0 20v2m0 7v3m0 3v1m0 44v1m0 9v1m0 38v2m0 2v1m0 8v1m0 2v2M271 261v1m0 13v1m0 16v1m0 23v2m0 2v2m0 1v1m0 4v1m0 11v1m0 8v1m0 10v2m0 19v1m0 7v2m0 12v1m0 8v1m0 117v2m0 27v1m0 4v1m0 12v1m0 43v1m0 15v2m0 26v1m0 17v1M281 225v1m0 35v1m0 13v1m0 16v1m0 27v2m0 59v1m0 1v2m0 2v3m0 4v1m0 5v2m0 60v1m0 22v2m0 28v1m0 2v1m0 40v1m0 14v2m0 10v1m0 5v2m0 27v1m0 9v1m0 24v1M300 208v1m0 47v1m0 142v1m0 4v1m0 15v1m0 69v2m0 64v2m0 2v1m0 3v1m0 42v1m0 6v2m0 15v1m0 7v1m0 17v1m0 8v1m0 4v1m0 18v2M310 205v2m0 20v2m0 1v3m0 27v1m0 39v1m0 50v2m0 24v1m0 27v2m0 44v2m0 44v1m0 5v2m0 1v1m0 8v1m0 27v2m0 19v1m0 11v1m0 36v3m0 32v1m0 8v1m0 8v1m0 1v3m0 5v1M320 243v1m0 5v2m0 74v2m0 11v2m0 1v1m0 26v1m0 7v1m0 14v1m0 7v1m0 4v1m0 22v2m0 23v2m0 11v1m0 15v2m0 63v1m0 7v1m0 4v1m0 22v1m0 20v1m0 1v2m0 25v2m0 15v1m0 12v3M339 208v1m0 29v1m0 34v1m0 1v1m0 53v2m0 11v1m0 38v1m0 26v1m0 4v1m0 4v2m0 6v1m0 3v1m0 7v1m0 62v1m0 10v2m0 6v1m0 16v1m0 17v1m0 2v1m0 13v1m0 64v2m0 1v1m0 6v1m0 4v1m0 4v1M349 217v1m0 24v1m0 23v1m0 4v2m0 7v2m0 27v1m0 3v1m0 1v1m0 42v1m0 9v1m0 2v1m0 4v1m0 6v2m0 35v1m0 32v1m0 4v3m0 5v1m0 14v2m0 5v1m0 25v1m0 4v1m0 35v1m0 27v2m0 29v2m0 24v1m0 29v1m0 15v3M368 208v1m0 20v1m0 110v1m0 12v2m0 21v2m0 9v2m0 1v1m0 53v1m0 34v1m0 38v1m0 17v1m0 17v1m0 15v2m0 28v1m0 18v2m0 15v1m0 21v1m0 20v1M378 218v2m0 7v2m0 5v1m0 7v1m0 14v1m0 11v1m0 15v2m0 4v1m0 4v1m0 8v1m0 7v2m0 8v1m0 16v1m0 15v2m0 4v1m0 29v2m0 14v1m0 14v2m0 4v1m0 10v1m0 26v2m0 36v1m0 24v2m0 2v2m0 16v2m0 32v1m0 14v2m0 16v2m0 5v1M388 249v2m0 22v1m0 11v2m0 26v1m0 26v1m0 15v2m0 33v3m0 17v1m0 9v1m0 4v1m0 2v1m0 19v2m0 6v1m0 47v1m0 31v1m0 8v1m0 4v1m0 15v1m0 24v2m0 9v1m0 12v1m0 17v1m0 4v1m0 17v1m0 5v2M407 239v1m0 2v1m0 18v1m0 4v1m0 25v1m0 30v1m0 19v2m0 28v1m0 21v1m0 2v1m0 6v2m0 27v1m0 14v2m0 9v1m0 45v1m0 25v1m0 6v2m0 4v1m0 9v1m0 3v1m0 36v2m0 21v2m0 26v1M417 266v1m0 22v2m0 32v1m0 43v1m0 24v2m0 19v1m0 17v1m0 17v2m0 36v1m0 1v1m0 3v1m0 4v2m0 5v1m0 6v2m0 32v1m0 36v2m0 9v1m0 19v2m0 2v3m0 18v1m0 10v2M427 229v2m0 29v1m0 48v1m0 14v1m0 24v1m0 35v1m0 4v1m0 1v2m0 11v2m0 1v1m0 4v1m0 9v2m0 13v1m0 27v1m0 9v2m0 3v2m0 10v1m0 4v2m0 9v1m0 10v1m0 49v2m0 9v1m0 4v1m0 12v1m0 1v2m0 11v2m0 3v3M446 243v1m0 8v1m0 7v1m0 63v1m0 7v1m0 17v1m0 45v2m0 46v1m0 47v1m0 8v1m0 5v2m0 3v2m0 28v1m0 24v1m0 18v1m0 11v2m0 18v1m0 8v3m0 1v3m0 16v2m0 14v1M456 220v1m0 8v1m0 18v1m0 11v1m0 5v1m0 3v1m0 43v1m0 9v1m0 25v1m0 17v1m0 18v2m0 37v1m0 2v1m0 39v1m0 14v3m0 10v1m0 22v1m0 11v1m0 12v1m0 12v1m0 9v1m0 1v2m0 2v2m0 10v1m0 1v2m0 29v2m0 4v1m0 4v1m0 14v2m0 23v1m0 4v1m0 1v2M466 213v2m0 21v2m0 9v4m0 20v2m0 5v1m0 5v1m0 17v2m0 10v1m0 22v1m0 7v1m0 13v1m0 7v1m0 15v2m0 2v2m0 5v1m0 26v1m0 16v1m0 2v4m0 22v2m0 7v2m0 20v2m0 9v2m0 4v1m0 33v1m0 8v1m0 15v2m0 50v1m0 26v1m0 2v1m0 8v1M485 226v1m0 17v1m0 4v2m0 80v1m0 4v1m0 40v1m0 5v2m0 14v1m0 7v1m0 26v1m0 5v1m0 37v1m0 53v1m0 1v2m0 1v1m0 1v2m0 13v1m0 10v2m0 25v3m0 9v1m0 5v2m0 20v2m0 10v1m0 21v1M495 242v1m0 5v1m0 2v1m0 3v1m0 32v1m0 30v1m0 17v1m0 53v1m0 39v3m0 6v1m0 3v1m0 17v1m0 42v1m0 35v1m0 35v1m0 3v1m0 12v1m0 27v1m0 8v1m0 17v1M505 211v1m0 19v2m0 18v1m0 63v1m0 21v1m0 22v2m0 20v1m0 8v1m0 26v2m0 14v1m0 6v2m0 13v1m0 24v3m0 4v1m0 17v1m0 22v1m0 44v2m0 20v2m0 16v2m0 3v2m0 1v1m0 26v1m0 2v1M524 235v1m0 3v1m0 22v2m0 5v1m0 3v1m0 1v1m0 8v1m0 8v1m0 13v2m0 127v2m0 14v1m0 53v3m0 11v1m0 40v2m0 4v1m0 10v1m0 3v1m0 3v1m0 1v2m0 9v1m0 13v3m0 9v1M534 221v1m0 36v3m0 8v1m0 36v1m0 60v1m0 27v1m0 48v1m0 17v1m0 7v1m0 9v1m0 8v1m0 4v2m0 1v1m0 2v1m0 41v1m0 12v3m0 9v1m0 4v2m0 36v2m0 23v1m0 8v1M544 240v2m0 7v2m0 50v1m0 18v2m0 20v1m0 3v1m0 6v1m0 2v2m0 6v1m0 7v2m0 20v1m0 31v1m0 5v2m0 33v2m0 3v2m0 13v1m0 6v2m0 13v1m0 24v2m0 14v1m0 8v1m0 8v1m0 1v3m0 26v1m0 12v1m0 8v1m0 6v2m0 5v1m0 14v2m0 5v1M563 213v2m0 7v2m0 32v1m0 10v2m0 69v2m0 6v1m0 8v1m0 9v2m0 22v1m0 2v2m0 1v1m0 22v2m0 5v1m0 34v1m0 5v1m0 4v1m0 4v2m0 16v2m0 20v2m0 24v3m0 4v1m0 5v1m0 8v1m0 27v2m0 4v1m0 29v2m0 10v1m0 40v2M573 221v1m0 2v1m0 53v2m0 39v1m0 61v2m0 6v1m0 30v2m0 5v2m0 5v1m0 10v2m0 5v1m0 23v3m0 46v2m0 1v1m0 5v2m0 5v1m0 41v2m0 5v1m0 1v2m0 31v1m0 21v1m0 18v1M583 216v1m0 1v2m0 16v2m0 11v2m0 20v2m0 33v1m0 38v1m0 3v1m0 1v2m0 14v2m0 8v1m0 3v1m0 7v2m0 38v1m0 10v1m0 6v1m0 5v1m0 12v1m0 9v2m0 7v2m0 38v2m0 10v1m0 36v2m0 7v2m0 52v2m0 2v2m0 20v2M602 227v2m0 26v1m0 1v1m0 16v1m0 14v2m0 3v2m0 19v1m0 2v1m0 30v1m0 8v2m0 39v3m0 9v1m0 14v1m0 34v1m0 22v1m0 8v1m0 8v3m0 10v1m0 2v1m0 79v1m0 2v2m0 2v2m0 2v1m0 8v1m0 17v1M612 227v2m0 14v1m0 11v1m0 1v1m0 15v2m0 4v1m0 9v2m0 5v1m0 1v2m0 7v2m0 29v2m0 9v1m0 3v1m0 10v1m0 7v1m0 53v1m0 21v1m0 21v1m0 1v2m0 16v2m0 11v2m0 13v1m0 59v1m0 4v2m0 33v1m0 31v3m0 15v2m0 16v2"/>
<path stroke="#0030ff" stroke-width="9" d="M76.5 215v1m0 4v1m0 70v1m0 26v1m0 10v2m0 22v1m0 14v1m0 39v1m0 38v1m0 13v1m0 59v2m0 1v1m0 2v1m0 26v1m0 68v2m0 36v1m0 3v1m0 1v3m0 19v1M95.5 213v2m0 5v1m0 17v2m0 40v2m0 5v1m0 18v1m0 17v1m0 9v3m0 44v1m0 20v1m0 19v1m0 18v2m0 68v1m0 2v1m0 5v1m0 7v1m0 5v2m0 10v1m0 5v2m0 2v2m0 41v1m0 39v1m0 5v2m0 23v1m0 13v1M134.5 260v1m0 12v1m0 41v1m0 31v2m0 2v2m0 107v1m0 15v2m0 43v2m0 13v1m0 5v1m0 9v2m0 18v1m0 5v1m0 2v1m0 23v2m0 5v1m0 22v1m0 1v2m0 5v1m0 34v2M173.5 234v1m0 54v2m0 3v2m0 41v1m0 12v1m0 32v2m0 17v1m0 58v1m0 16v1m0 41v1m0 53v2m0 18v1m0 19v2m0 15v1m0 48v1M212.5 218v2m0 42v2m0 85v1m0 40v1m0 44v1m0 16v1m0 8v1m0 21v1m0 1v2m0 42v1m0 56v1m0 25v1m0 73v2M251.5 301v1m0 20v1m0 22v2m0 9v2m0 42v2m0 9v1m0 29v2m0 6v2m0 82v1m0 5v3m0 28v2m0 45v1m0 7v1m0 41v3m0 16v3M290.5 218v3m0 26v1m0 3v1m0 12v1m0 64v2m0 22v1m0 27v1m0 3v1m0 4v1m0 4v1m0 39v1m0 5v2m0 8v1m0 13v1m0 44v1m0 18v1m0 6v1m0 19v2m0 15v1m0 27v2m0 4v1m0 36v1m0 7v1M329.5 215v1m0 29v2m0 63v1m0 3v1m0 47v1m0 37v2m0 6v1m0 21v1m0 26v1m0 2v1m0 20v2m0 6v1m0 19v1m0 1v1m0 34v1m0 13v1m0 17v1m0 83v1m0 12v1M358.5 227v2m0 15v1m0 75v2m0 9v1m0 8v1m0 21v1m0 8v2m0 16v1m0 19v3m0 17v1m0 26v1m0 31v1m0 12v1m0 9v1m0 92v3m0 15v1m0 13v1m0 16v1m0 11v1M397.5 205v2m0 22v1m0 10v2m0 10v1m0 44v1m0 75v3m0 5v1m0 7v1m0 15v2m0 7v2m0 15v1m0 19v1m0 26v1m0 37v2m0 14v1m0 4v1m0 39v1m0 40v1m0 4v2m0 23v1m0 5v2M436.5 225v1m0 17v1m0 22v1m0 7v1m0 9v3m0 54v1m0 30v1m0 9v1m0 6v1m0 46v2m0 7v2m0 22v1m0 15v3m0 18v1m0 7v1m0 70v1m0 41v3m0 40v1M475.5 229v1m0 43v1m0 37v2m0 6v1m0 3v1m0 25v1m0 27v1m0 66v1m0 2v1m0 17v1m0 28v2m0 56v2m0 2v2m0 5v1m0 1v2m0 6v1m0 4v1m0 29v1m0 9v1m0 9v2m0 4v1m0 30v1m0 13v1M514.5 225v1m0 10v2m0 33v2m0 2v1m0 17v1m0 7v1m0 26v1m0 20v1m0 4v1m0 28v2m0 13v1m0 3v1m0 19v1m0 2v1m0 17v1m0 12v1m0 14v1m0 83v1m0 18v2m0 18v1m0 1v2m0 6v1m0 14v2m0 14v2m0 10v1m0 11v2M553.5 249v2m0 50v3m0 5v1m0 10v2m0 16v2m0 28v1m0 21v1m0 17v1m0 12v1m0 4v1m0 43v1m0 43v1m0 19v2m0 3v2m0 2v2m0 42v1m0 2v1m0 53v1m0 9v2M592.5 233v1m0 8v1m0 14v1m0 33v2m0 1v2m0 11v2m0 9v1m0 1v2m0 42v3m0 35v1m0 2v2m0 7v2m0 60v2m0 10v1m0 13v1m0 7v1m0 8v1m0 23v2m0 1v1m0 41v2m0 14v3m0 10v1m0 22v1m0 13v2"/>
<path stroke="#0030ff" stroke-width="9.5" d="M621.75 208v1m0 98v2m0 6v1m0 2v1m0 31v1m0 57v1m0 7v1m0 15v2m0 62v1m0 19v2m0 12v2m0 10v1m0 4v2m0 2v1m0 9v2m0 20v2m0 49v2"/>
<path stroke="#0030ff" stroke-width="10" d="M86 215v1m0 4v1m0 59v2m0 22v1m0 51v2m0 1v1m0 38v2m0 22v1m0 11v1m0 12v1m0 1v2m0 14v1m0 48v1m0 130v2m0 32v1m0 5v1M105 220v1m0 12v1m0 5v1m0 25v1m0 16v1m0 4v1m0 1v2m0 10v1m0 22v1m0 42v1m0 1v2m0 10v1m0 3v1m0 22v1m0 13v1m0 4v2m0 11v1m0 2v1m0 27v1m0 20v1m0 8v1m0 26v1m0 4v1m0 22v2m0 7v2m0 12v2m0 10v1m0 21v1m0 17v1m0 4v1M115 213v2m0 15v1m0 62v1m0 2v1m0 72v2m0 69v1m0 20v1m0 9v1m0 15v2m0 83v1m0 58v1m0 13v2m0 1v1m0 7v1m0 10v1m0 7v1M125 213v2m0 27v1m0 9v1m0 29v1m0 31v2m0 18v2m0 28v1m0 75v1m0 4v3m0 76v1m0 17v1m0 69v1m0 36v1m0 25v1m0 17v1M144 224v1m0 35v1m0 26v1m0 28v2m0 13v1m0 70v1m0 13v1m0 62v1m0 9v3m0 37v1m0 6v1m0 40v2m0 26v2m0 5v1m0 9v1m0 2v1m0 26v1m0 1v2m0 5v1m0 4v1M154 207v1m0 16v1m0 11v2m0 113v2m0 10v1m0 18v1m0 19v1m0 11v2m0 5v1m0 44v1m0 12v5m0 43v1m0 50v1m0 96v1m0 5v2M164 234v1m0 160v1m0 25v1m0 63v2m0 18v1m0 30v1m0 15v2m0 4v1m0 23v1m0 11v1m0 15v2m0 54v1m0 8v1M183 212v1m0 48v1m0 40v2m0 16v2m0 10v1m0 32v2m0 20v2m0 74v2m0 28v1m0 18v2m0 41v1m0 74v2m0 12v1m0 27v2m0 12v2M193 215v1m0 39v1m0 13v1m0 21v1m0 4v1m0 5v2m0 3v2m0 6v1m0 22v2m0 31v1m0 15v2m0 89v1m0 23v1m0 7v1m0 8v1m0 19v2m0 57v1m0 31v1m0 21v1m0 17v1m0 9v1M203 215v1m0 4v1m0 19v2m0 7v2m0 18v1m0 15v2m0 9v1m0 18v1m0 69v2m0 53v3m0 67v1m0 14v2m0 2v1m0 65v3m0 12v2m0 13v1m0 11v3m0 16v1m0 5v1m0 25v1m0 3v1M222 262v2m0 3v2m0 10v1m0 11v1m0 21v1m0 118v2m0 49v2m0 2v1m0 1v1m0 15v1m0 32v1m0 15v1m0 31v1m0 3v1m0 10v3m0 68v2m0 12v2m0 1v1m0 4v2M232 215v2m0 19v2m0 29v2m0 10v1m0 31v3m0 22v1m0 26v1m0 30v1m0 10v2m0 16v2m0 11v3m0 2v2m0 1v1m0 3v1m0 17v1m0 2v1m0 18v1m0 20v1m0 10v1m0 24v1m0 54v1m0 24v1m0 19v2m0 2v1m0 2v1m0 5v1m0 33v1M242 207v1m0 9v1m0 15v1m0 2v2m0 1v1m0 60v1m0 23v1m0 75v2m0 21v2m0 19v1m0 43v1m0 22v1m0 25v1m0 3v1m0 58v1m0 3v1m0 12v1m0 21v1m0 16v1M261 240v2m0 25v2m0 46v3m0 4v1m0 19v1m0 101v1m0 11v2m0 4v1m0 105v1m0 21v1m0 49v1m0 16v1m0 30v1M271 226v1m0 17v1m0 10v1m0 33v2m0 20v2m0 2v1m0 58v2m0 71v1m0 1v2m0 32v1m0 45v1m0 37v2m0 44v1m0 26v1m0 18v2m0 7v2M281 244v1m0 44v2m0 31v1m0 4v1m0 1v2m0 1v1m0 20v2m0 40v1m0 17v1m0 17v1m0 9v2m0 4v1m0 81v1m0 17v2m0 33v1m0 30v1m0 23v2m0 18v1m0 7v1m0 10v1m0 7v1M300 221v1m0 25v1m0 3v1m0 35v1m0 93v1m0 36v2m0 92v2m0 9v1m0 72v2m0 12v2m0 20v2m0 33v1M310 216v1m0 9v1m0 17v1m0 46v2m0 3v1m0 76v1m0 44v2m0 28v1m0 38v1m0 24v2m0 41v1m0 11v1m0 5v1m0 13v3m0 10v1m0 24v1m0 14v1m0 13v2m0 23v1M320 216v1m0 58v1m0 97v1m0 26v2m0 11v1m0 26v1m0 19v1m0 24v2m0 40v1m0 15v2m0 45v1m0 9v1m0 8v1m0 11v1m0 3v1m0 8v1m0 5v1m0 4v2m0 12v2M339 225v1m0 61v1m0 9v1m0 2v1m0 9v1m0 2v1m0 1v1m0 42v2m0 2v1m0 26v1m0 91v3m0 67v3m0 15v1m0 8v1m0 4v3m0 2v2m0 1v1m0 33v1m0 22v1m0 21v1M349 229v1m0 23v2m0 18v1m0 23v1m0 31v2m0 12v2m0 15v2m0 63v1m0 12v1m0 54v1m0 17v1m0 8v1m0 20v1m0 39v1m0 23v2m0 49v1M368 225v1m0 1v2m0 15v1m0 12v1m0 52v1m0 35v1m0 4v2m0 19v1m0 1v2m0 13v1m0 2v2m0 15v2m0 23v1m0 26v1m0 27v1m0 29v1m0 21v1m0 16v2m0 18v1m0 58v2m0 2v2m0 23v1m0 3v2m0 5v2M378 225v1m0 12v1m0 80v1m0 7v1m0 76v1m0 15v1m0 24v2m0 2v2m0 55v1m0 9v3m0 2v2m0 6v1m0 11v1m0 3v1m0 13v1m0 40v1m0 2v1m0 26v1m0 10v2m0 19v1m0 11v1M388 211v1m0 22v1m0 18v2m0 6v1m0 43v1m0 30v1m0 26v1m0 53v1m0 2v1m0 30v1m0 18v1m0 18v1m0 26v2m0 3v2m0 6v3m0 9v2m0 35v1m0 16v1m0 13v1m0 4v2m0 3v2m0 6v1m0 7v1m0 16v2M407 324v1m0 49v2m0 5v1m0 7v1m0 10v2m0 68v1m0 7v1m0 2v2m0 6v3m0 6v4m0 5v2m0 11v1m0 20v1m0 4v1m0 39v1m0 14v2m0 10v1m0 7v1m0 1v2m0 5v1m0 22v1M417 220v1m0 5v1m0 97v1m0 4v2m0 14v1m0 7v1m0 40v1m0 5v2m0 37v2m0 20v1m0 3v1m0 24v2m0 18v1m0 18v1m0 3v1m0 30v1m0 33v2m0 12v1m0 23v1m0 3v1m0 12v1m0 14v2m0 4v1M427 276v2m0 51v2m0 14v1m0 26v1m0 1v3m0 12v1m0 19v2m0 20v1m0 7v1m0 20v1m0 4v1m0 48v1m0 18v1m0 43v1m0 25v1m0 1v2m0 28v1m0 21v1m0 13v1M446 212v1m0 16v1m0 3v2m0 16v1m0 22v1m0 9v1m0 8v1m0 2v1m0 12v1m0 44v1m0 17v1m0 44v1m0 4v1m0 12v3m0 1v1m0 9v2m0 83v2m0 11v2m0 10v2m0 31v2m0 15v1m0 3v1m0 58v2M456 212v1m0 25v1m0 8v1m0 10v2m0 11v2m0 36v2m0 43v1m0 17v1m0 62v1m0 9v2m0 45v1m0 7v1m0 46v2m0 56v2m0 5v1m0 3v1M466 220v1m0 13v1m0 3v1m0 19v2m0 13v1m0 8v1m0 17v1m0 19v2m0 27v1m0 28v2m0 12v2m0 41v3m0 46v3m0 45v1m0 1v2m0 28v1m0 29v1m0 10v2m0 24v1m0 8v1m0 21v1M485 253v2m0 3v2m0 20v2m0 25v2m0 10v1m0 33v1m0 24v2m0 15v1m0 60v1m0 17v1m0 18v1m0 11v1m0 14v1m0 24v1m0 85v1m0 13v2m0 7v2m0 5v1m0 13v1M495 216v1m0 14v2m0 38v2m0 34v2m0 27v1m0 23v2m0 20v1m0 31v2m0 2v2m0 14v1m0 36v1m0 6v1m0 9v1m0 5v2m0 14v1m0 18v1m0 7v1m0 21v1m0 9v1m0 6v1m0 6v2m0 11v2m0 5v1m0 19v2m0 7v2M505 242v1m0 5v1m0 56v1m0 8v1m0 23v2m0 14v1m0 7v1m0 4v1m0 92v1m0 10v1m0 62v2m0 22v1m0 53v2m0 13v1m0 19v1M524 383v2m0 37v1m0 2v1m0 8v1m0 5v1m0 20v1m0 7v1m0 15v2m0 3v2m0 38v2m0 6v1m0 11v1m0 8v1m0 19v2m0 24v2m0 1v1m0 17v1m0 1v2m0 7v2m0 5v1m0 2v1M534 266v1m0 13v3m0 1v3m0 11v2m0 18v1m0 34v1m0 8v1m0 10v1m0 24v1m0 6v2m0 9v1m0 73v2m0 15v2m0 11v1m0 9v2m0 13v1m0 22v2m0 6v1m0 2v2m0 11v2m0 5v1m0 7v1m0 4v1m0 63v1M544 298v2m0 18v1m0 28v2m0 18v2m0 20v1m0 48v1m0 10v2m0 3v2m0 1v1m0 22v1m0 8v1m0 10v1m0 31v1m0 3v1m0 9v1m0 5v2m0 11v2m0 38v2m0 6v3m0 40v1M563 224v1m0 27v1m0 7v1m0 23v1m0 7v1m0 1v2m0 1v1m0 34v1m0 18v2m0 37v1m0 30v1m0 30v1m0 10v2m0 41v1m0 26v1m0 5v3m0 17v1m0 40v1m0 6v2m0 35v1m0 3v1M573 211v1m0 3v1m0 29v2m0 45v1m0 4v1m0 51v1m0 6v2m0 13v1m0 14v1m0 3v1m0 115v1m0 26v1m0 5v2m0 15v3m0 13v1m0 1v2m0 36v1m0 15v2m0 10v1M583 215v1m0 75v1m0 73v2m0 4v1m0 2v2m0 38v2m0 9v4m0 3v2m0 54v1m0 21v1m0 17v1m0 26v1m0 7v1m0 8v1m0 15v2m0 14v3m0 1v1m0 13v1m0 17v1M602 264v1m0 18v1m0 23v2m0 29v2m0 52v2m0 26v1m0 55v2m0 2v1m0 9v2m0 31v1m0 3v1m0 19v2m0 18v1m0 51v2m0 6v1m0 37v1M612 226v1m0 78v1m0 9v1m0 9v2m0 10v1m0 78v1m0 3v1m0 11v2m0 27v1m0 54v2m0 11v1m0 37v1m0 32v3m0 7v2m0 1v1m0 7v1m0 4v1m0 27v2m0 7v2"/>
<path stroke="#0040ff" stroke-width="9" d="M76.5 279v1m0 20v1m0 104v2m0 73v1m0 25v1m0 84v1m0 15v1m0 23v1m0 25v1M95.5 211v1m0 53v1m0 161v2m0 22v1m0 10v1m0 6v1m0 31v1m0 90v2m0 91v1M134.5 264v1m0 4v1m0 40v1m0 75v1m0 76v2m0 4v1m0 40v1m0 1v2m0 15v1m0 15v1m0 22v1m0 18v1m0 15v1m0 88v2M173.5 235v1m0 9v2m0 15v2m0 199v2m0 28v1m0 9v2m0 28v1m0 31v2m0 14v2m0 20v1m0 19v2m0 32v1m0 3v1m0 21v1m0 10v2M212.5 266v1m0 73v1m0 33v2m0 75v1m0 50v1m0 22v2m0 29v2m0 47v2m0 41v1m0 32v2M251.5 215v1m0 64v2m0 206v1m0 5v2m0 2v2m0 72v1m0 17v1m0 4v1m0 8v1m0 75v1M290.5 208v1m0 3v1m0 93v1m0 18v2m0 4v1m0 54v1m0 24v1m0 18v1m0 14v2m0 51v2m0 70v2m0 36v1m0 17v2m0 43v1M329.5 240v2m0 1v1m0 31v1m0 66v1m0 25v1m0 12v1m0 22v1m0 17v1m0 3v1m0 56v1m0 19v2m0 22v1m0 8v1m0 6v2m0 6v1m0 30v1m0 11v1m0 4v1m0 5v2m0 59v1M358.5 216v1m0 134v2m0 1v1m0 5v2m0 25v2m0 23v1m0 12v1m0 43v1m0 116v1m0 4v1m0 8v1m0 39v1m0 2v1m0 5v3m0 16v2m0 10v1M397.5 212v1m0 48v1m0 72v2m0 20v2m0 11v2m0 40v1m0 76v1m0 5v2m0 5v1m0 32v2m0 13v1m0 18v2m0 28v1m0 2v2m0 37v1m0 15v2M436.5 292v1m0 3v1m0 56v1m0 42v2m0 5v1m0 18v1m0 86v1m0 24v2m0 3v2m0 19v1m0 16v1m0 17v1m0 8v1m0 11v2m0 45v2m0 2v1m0 8v1M475.5 218v2m0 37v1m0 22v2m0 6v1m0 42v1m0 33v2m0 11v2m0 55v1m0 74v1m0 90v2m0 13v1m0 14v1m0 12v1m0 13v1m0 3v1m0 5v2M514.5 240v2m0 3v2m0 1v1m0 30v1m0 9v2m0 7v2m0 5v1m0 79v1m0 3v1m0 72v1m0 6v1m0 18v1m0 16v1m0 33v2m0 23v3m0 45v1m0 35v1m0 1v2m0 6v1m0 3v1M553.5 217v1m0 25v1m0 35v1m0 14v2m0 37v1m0 55v1m0 147v2m0 7v1m0 18v2m0 6v1m0 24v1m0 1v1m0 3v1m0 13v1m0 42v1M592.5 243v1m0 39v1m0 3v1m0 39v1m0 39v1m0 40v1m0 3v1m0 8v1m0 4v1m0 2v1m0 27v1m0 22v1m0 6v1m0 8v1m0 1v2m0 20v1m0 29v1m0 18v1m0 66v1m0 12v1m0 9v2m0 4v1"/>
<path stroke="#0040ff" stroke-width="9.5" d="M621.75 247v1m0 17v1m0 7v1m0 100v2m0 9v1m0 19v2m0 6v1m0 136v1m0 3v1m0 10v3m0 13v1m0 22v1m0 22v1"/>
<path stroke="#0040ff" stroke-width="10" d="M86 235v1m0 43v1m0 31v2m0 23v1m0 16v1m0 51v2m0 1v1m0 106v1m0 8v1m0 2v1m0 5v1m0 42v1m0 23v1m0 67v2m0 5v2M105 395v1m0 16v1m0 31v1m0 6v1m0 17v1m0 26v1m0 14v1m0 153v1m0 1v1m0 11v1M115 211v2m0 20v1m0 21v1m0 14v1m0 43v1m0 1v2m0 7v2m0 7v2m0 10v1m0 29v1m0 41v2m0 76v1m0 23v1m0 48v1m0 33v1m0 54v1M125 267v2m0 107v1m0 41v2m0 125v1m0 79v1m0 9v1m0 9v2m0 11v1m0 9v2m0 15v1M144 208v1m0 9v2m0 44v1m0 8v1m0 88v1m0 26v1m0 90v1m0 22v2m0 5v1m0 40v3m0 65v2m0 44v1m0 17v1M154 240v2m0 1v1m0 71v3m0 13v1m0 30v1m0 26v1m0 115v2m0 4v1m0 30v1m0 9v2m0 63v1m0 1v4m0 31v2m0 28v1m0 7v1M164 207v1m0 81v2m0 18v1m0 141v1m0 42v2m0 15v1m0 8v1m0 83v1m0 26v1m0 22v2m0 11v1m0 15v1m0 6v2M183 209v2m0 34v2m0 28v1m0 11v1m0 55v3m0 39v1m0 16v1m0 42v2m0 28v1m0 29v1m0 97v1m0 12v1m0 37v2m0 34v2M193 212v1m0 48v1m0 16v1m0 49v1m0 57v1m0 12v1m0 25v1m0 49v1m0 91v1m0 23v1m0 33v1m0 36v1m0 5v2M203 216v1m0 58v1m0 52v1m0 11v1m0 8v1m0 27v1m0 22v2m0 67v1m0 23v1m0 8v1m0 43v1m0 16v1m0 41v2m0 59v1m0 27v2M222 305v1m0 25v1m0 21v1m0 18v1m0 47v1m0 24v2m0 33v1m0 84v2m0 38v3m0 4v1m0 53v1m0 17v1M232 218v2m0 13v1m0 71v1m0 36v1m0 10v1m0 10v1m0 115v1m0 97v1m0 16v3m0 10v1m0 3v1m0 24v2m0 36v1m0 13v1M242 301v1m0 21v1m0 18v1m0 13v2m0 68v1m0 11v1m0 45v1m0 35v1m0 25v1m0 38v1m0 9v1m0 26v1m0 29v1m0 27v1M261 215v1m0 64v2m0 82v1m0 4v2m0 136v2m0 16v2m0 33v1m0 6v1m0 20v2m0 5v1m0 12v1m0 50v2m0 29v2M271 262v2m0 86v1m0 18v2m0 42v1m0 21v1m0 20v2m0 49v2m0 77v1m0 17v1m0 26v1m0 2v1m0 4v1m0 14v3m0 9v1M281 222v3m0 39v1m0 9v1m0 8v1m0 76v2m0 12v2m0 10v1m0 58v2m0 10v1m0 72v2m0 10v1m0 58v2m0 9v1m0 14v1m0 11v1m0 22v1m0 5v2M300 212v1m0 5v2m0 103v1m0 3v1m0 102v1m0 17v1m0 29v1m0 8v1m0 10v2m0 49v1m0 37v1m0 17v2m0 76v1M310 287v1m0 14v2m0 10v1m0 45v2m0 58v1m0 19v1m0 44v2m0 23v1m0 49v1m0 71v3m0 28v2M320 231v2m0 32v1m0 1v2m0 28v1m0 4v2m0 56v2m0 55v1m0 54v2m0 29v2m0 1v1m0 3v1m0 9v1m0 70v1m0 38v1M339 240v2m0 38v2m0 11v1m0 53v2m0 7v2m0 10v1m0 8v1m0 26v1m0 6v1m0 10v1m0 37v1m0 31v1m0 16v1m0 17v1m0 32v1m0 21v1m0 7v1m0 8v1m0 18v1m0 30v1m0 29v1m0 1v2M349 208v1m0 47v1m0 74v1m0 15v2m0 2v2m0 6v1m0 17v1m0 14v2m0 75v1m0 22v1m0 16v1m0 49v1m0 25v1m0 8v1m0 5v1m0 24v1m0 17v1m0 24v2m0 6v1M368 217v1m0 144v1m0 23v1m0 17v1m0 18v2m0 18v1m0 12v1m0 54v1m0 49v2m0 28v1m0 12v1m0 40v2m0 18v1M378 284v1m0 25v1m0 63v2m0 41v1m0 8v1m0 34v1m0 17v1m0 9v3m0 9v1m0 58v1m0 60v1m0 18v1m0 2v1m0 9v1m0 4v1m0 9v2M388 212v1m0 107v2m0 36v1m0 63v1m0 67v2m0 9v1m0 4v1m0 12v1m0 30v1m0 1v2m0 36v1m0 7v1m0 31v1m0 14v2m0 11v1m0 20v1M407 205v2m0 90v4m0 30v1m0 10v1m0 13v2m0 10v1m0 21v1m0 62v1m0 8v1m0 31v2m0 7v2m0 9v1m0 1v2m0 19v1m0 30v2m0 13v2m0 18v1m0 12v1m0 24v2M417 235v1m0 40v2m0 20v3m0 101v1m0 11v3m0 36v1m0 60v1m0 40v1m0 30v1m0 26v1m0 3v1m0 12v1m0 25v1m0 1v1m0 11v1M427 225v2m0 8v1m0 12v1m0 15v1m0 60v2m0 113v1m0 16v1m0 29v1m0 13v1m0 10v2m0 15v1m0 19v1m0 5v1m0 4v1m0 24v1m0 8v1m0 33v2m0 10v1m0 6v1m0 2v2m0 2v2M446 205v2m0 103v1m0 92v1m0 49v1m0 29v1m0 1v3m0 9v1m0 12v1m0 59v2m0 10v1m0 65v1m0 19v2M456 233v2m0 17v3m0 20v1m0 8v1m0 12v1m0 17v1m0 4v2m0 37v1m0 52v1m0 7v1m0 15v2m0 15v1m0 16v1m0 68v2m0 8v1m0 1v1m0 24v1m0 5v1m0 9v2m0 5v1m0 21v1m0 26v1M466 229v1m0 1v2m0 78v2m0 47v2m0 24v1m0 25v1m0 34v1m0 30v1m0 15v2m0 49v1m0 1v2m0 63v1m0 15v2m0 19v1m0 4v2M485 218v3m0 9v1m0 47v1m0 3v1m0 113v2m0 34v2m0 18v1m0 58v1m0 16v1m0 40v1m0 33v1m0 12v1m0 9v1m0 61v1M495 318v1m0 19v2m0 27v1m0 43v1m0 48v1m0 36v1m0 17v1m0 16v1m0 19v3m0 3v1m0 4v1m0 88v1m0 15v2M505 225v1m0 63v2m0 7v2m0 19v1m0 65v1m0 12v1m0 44v1m0 53v1m0 17v1m0 3v1m0 45v2m0 14v1m0 5v1m0 40v2m0 7v2m0 26v1M524 207v1m0 8v1m0 4v1m0 18v2m0 6v1m0 79v1m0 52v1m0 26v1m0 2v1m0 19v1m0 24v1m0 31v1m0 47v1m0 75v1m0 14v1M534 207v1m0 8v1m0 31v1m0 38v2m0 57v3m0 15v1m0 29v1m0 9v1m0 27v2m0 4v1m0 14v1m0 7v1m0 12v1m0 130v2m0 9v1m0 9v1M544 217v1m0 17v1m0 22v2m0 2v2m0 20v1m0 17v2m0 5v1m0 9v1m0 20v1m0 50v1m0 39v1m0 42v1m0 70v1m0 17v1m0 40v1m0 12v1m0 16v1M563 245v2m0 54v1m0 13v1m0 17v1m0 48v1m0 16v1m0 45v2m0 54v1m0 45v2m0 1v1m0 3v1m0 1v2m0 10v1m0 7v1m0 35v1m0 5v1m0 6v1m0 13v1M573 222v2m0 36v1m0 19v2m0 6v1m0 12v1m0 63v2m0 58v1m0 32v2m0 10v1m0 27v2m0 36v1m0 26v1m0 9v1m0 30v1m0 3v1m0 7v1m0 15v2m0 31v1M583 243v1m0 75v3m0 69v1m0 16v1m0 12v1m0 65v1m0 32v3m0 7v2m0 14v1m0 21v1m0 12v1m0 10v2m0 13v1m0 6v3m0 13v1m0 31v1M602 226v1m0 60v1m0 14v2m0 1v1m0 45v3m0 1v3m0 6v1m0 4v2m0 34v2m0 63v1m0 25v1m0 1v2m0 29v1m0 13v2m0 7v2m0 31v1m0 36v1m0 12v1m0 9v2M612 208v1m0 24v1m0 13v1m0 17v1m0 52v1m0 50v2m0 126v1m0 56v1m0 17v1m0 35v1m0 3v1m0 4v1m0 4v1"/>
<path stroke="#0050ff" stroke-width="9" d="M76.5 229v1m0 89v1m0 34v1m0 43v1m0 72v1m0 17v1m0 25v1m0 89v2m0 30v2M95.5 234v1m0 18v2m0 56v2m0 145v2m0 65v2m0 6v1m0 27v2m0 5v1m0 19v2m0 46v1m0 24v2m0 2v1m0 20v2M134.5 207v1m0 146v1m0 45v2m0 12v2m0 74v2m0 11v2m0 38v2m0 20v2m0 46v1m0 36v2M173.5 280v2m0 5v1m0 157v2m0 54v1m0 4v1m0 61v1m0 35v1m0 74v1M212.5 216v1m0 32v2m0 24v1m0 101v1m0 34v1m0 13v1m0 103v2m0 9v1m0 54v2m0 58v1m0 9v1M251.5 453v1m0 125v2m0 27v1m0 43v1m0 36v1M290.5 222v2m0 254v1m0 70v1m0 75v1m0 14v1m0 29v1m0 12v1m0 10v2M329.5 256v1m0 34v1m0 51v2m0 71v1m0 49v1m0 52v2m0 16v1m0 14v2m0 54v1m0 9v1m0 25v1m0 36v2m0 1v1M358.5 367v1m0 152v1m0 62v2m0 40v1m0 40v1m0 16v1M397.5 358v1m0 111v1m0 13v1m0 13v2m0 41v1m0 57v1m0 13v1m0 17v1m0 7v1m0 7v1m0 10v1m0 29v1M436.5 213v2m0 14v1m0 18v1m0 2v1m0 12v1m0 59v1m0 202v1m0 42v2m0 1v1m0 24v1m0 14v1m0 23v2m0 9v1m0 12v1m0 18v1M475.5 249v2m0 7v2m0 18v1m0 3v1m0 64v2m0 34v2m0 67v1m0 4v1m0 71v1m0 7v1m0 53v1m0 8v1m0 52v1m0 12v1M514.5 346v1m0 20v1m0 10v2m0 207v1m0 2v2m0 22v2M553.5 229v1m0 22v1m0 9v2m0 176v1m0 8v2m0 3v2m0 7v2m0 85v1m0 3v1m0 4v1m0 3v1m0 22v1m0 36v2m0 10v2m0 21v1M592.5 265v1m0 5v2m0 101v2m0 1v1m0 71v2m0 58v1m0 32v1m0 6v1m0 2v2m0 19v1m0 3v1m0 3v1m0 10v2m0 53v2"/>
<path stroke="#0050ff" stroke-width="9.5" d="M621.75 338v2m0 157v1m0 22v1m0 61v1m0 18v2m0 13v1m0 9v1m0 14v2"/>
<path stroke="#0050ff" stroke-width="10" d="M86 234v1m0 3v1m0 80v1m0 34v1m0 13v1m0 31v2m0 60v1m0 3v1m0 101v1m0 12v1m0 49v1m0 56v1M105 235v1m0 9v2m0 46v1m0 22v2m0 100v2m0 100v1m0 13v2m0 37v1m0 14v2m0 13v1m0 80v1m0 4v1M115 386v1m0 54v2m0 64v2m0 25v2m0 31v1m0 33v2m0 58v1m0 17v1M125 255v1m0 33v2m0 19v1m0 11v1m0 120v1m0 17v1m0 14v2m0 9v1m0 23v1m0 31v2m0 14v1m0 9v1m0 17v1m0 22v2m0 24v1m0 46v1m0 4v2M144 351v2m0 83v2m0 25v2m0 41v1m0 14v2m0 87v2m0 1v1m0 13v1m0 8v1m0 13v2m0 20v2m0 11v1M154 208v1m0 2v1m0 21v1m0 202v2m0 189v1m0 24v1m0 8v1m0 3v1m0 1v1m0 4v2M164 233v1m0 9v1m0 127v1m0 35v1m0 40v1m0 160v1M183 280v2m0 86v1m0 2v1m0 28v2m0 117v1m0 13v1m0 3v1m0 53v1m0 25v1m0 58v1m0 7v1M193 343v2m0 31v1m0 61v1m0 116v1m0 61v1m0 36v2m0 30v2m0 4v1M203 374v3m0 37v2m0 15v1m0 13v2m0 14v1m0 79v1m0 102v1m0 9v2m0 9v1M222 218v2m0 90v1m0 25v1m0 27v1m0 35v2m0 113v1m0 21v1m0 40v1m0 39v1m0 6v1m0 28v2m0 27v1M232 525v2m0 29v2m0 47v2m0 15v1M242 345v2m0 25v1m0 32v2m0 4v1m0 20v2m0 2v2m0 15v1m0 3v1m0 11v1m0 66v1m0 42v2m0 15v2m0 10v2m0 2v1m0 55v2M261 323v1m0 164v1m0 5v2m0 2v2m0 77v1m0 34v1m0 39v1m0 1v3m0 4v1m0 13v1M271 283v1m0 178v1m0 79v1m0 45v2m0 67v1m0 21v1M281 226v1m0 79v1m0 18v2m0 4v1m0 18v1m0 34v1m0 25v1m0 23v1m0 243v1m0 14v2M300 226v1m0 80v2m0 74v2m0 66v1m0 13v1m0 6v2m0 89v1m0 26v1m0 35v1m0 32v2m0 13v1m0 13v1m0 5v2M310 316v2m0 5v1m0 22v1m0 57v1m0 60v1m0 36v1m0 102v2m0 49v1m0 28v1M320 244v1m0 51v1m0 17v1m0 1v2m0 25v2m0 1v1m0 69v1m0 6v2m0 23v1m0 39v1m0 13v1m0 58v2m0 25v2m0 18v1m0 7v1m0 14v1M339 218v2m0 237v1m0 16v1m0 129v1m0 39v3m0 29v1m0 7v1M349 218v2m0 73v1m0 6v1m0 18v1m0 91v1m0 22v1m0 92v1m0 33v2m0 41v1m0 17v1m0 27v2m0 13v2m0 13v1m0 8v1M368 216v1m0 67v1m0 82v1m0 44v1m0 226v2m0 20v1M378 252v3m0 167v1m0 20v1m0 50v2m0 58v1m0 22v2m0 11v1m0 26v1m0 38v1m0 23v1M388 334v2m0 33v2m0 108v1m0 8v1m0 45v2m0 77v1m0 17v1m0 39v1M407 257v1m0 226v1m0 64v1m0 49v1m0 18v1m0 30v1m0 13v2m0 11v1M417 212v1m0 72v2m0 55v1m0 187v2m0 2v3m0 64v2m0 40v1M427 220v1m0 40v1m0 7v1m0 23v1m0 47v1m0 60v1m0 42v2m0 165v1m0 32v2m0 9v1m0 10v1m0 2v1M446 266v1m0 2v1m0 5v1m0 21v1m0 84v1m0 86v1m0 23v1m0 33v1m0 45v1m0 17v1m0 12v1m0 12v1m0 5v2m0 14v1m0 4v1m0 9v2m0 6v3M456 205v2m0 109v2m0 40v1m0 33v2m0 4v1m0 18v1m0 69v1m0 13v1m0 57v2m0 6v1m0 26v1m0 28v2m0 2v1m0 3v1m0 2v1m0 14v3m0 31v1M466 288v1m0 34v1m0 41v2m0 31v1m0 21v1m0 24v2m0 10v1m0 12v1m0 12v1m0 39v1m0 3v1m0 35v1m0 24v2m0 40v1m0 30v1m0 5v1M485 300v1m0 4v1m0 61v1m0 89v1m0 43v1m0 25v1m0 27v1m0 43v1m0 56v1m0 6v2M495 215v1m0 85v1m0 3v1m0 9v1m0 82v1m0 58v1m0 11v1m0 41v1m0 12v1m0 67v2m0 60v2m0 1v1m0 7v1M505 247v1m0 12v1m0 10v2m0 6v1m0 21v1m0 21v1m0 7v1m0 57v1m0 12v1m0 59v1m0 6v1m0 24v2m0 43v2m0 23v1m0 27v2m0 32v1m0 18v2M524 218v2m0 67v2m0 12v1m0 45v2m0 29v2m0 67v1m0 104v2m0 1v1m0 18v2m0 63v1m0 10v2m0 1v1M534 235v1m0 211v1m0 84v1m0 3v1m0 22v1m0 80v1m0 11v1m0 1v2M544 243v1m0 38v1m0 49v1m0 27v2m0 24v1m0 8v1m0 8v1m0 58v2m0 89v2m0 18v2m0 10v1m0 5v2m0 14v1m0 36v3M563 229v1m0 13v1m0 35v1m0 128v1m0 91v1m0 36v1m0 35v1m0 13v1m0 16v1m0 9v2m0 7v2M573 227v2m0 14v1m0 22v1m0 43v1m0 88v1m0 18v2m0 43v2m0 35v1m0 50v1m0 78v1M583 280v2m0 105v2m0 23v1m0 38v1m0 87v2m0 32v1m0 43v1m0 14v2m0 2v1m0 2v1m0 9v1m0 8v1M602 252v1m0 129v1m0 30v1m0 43v1m0 14v2m0 26v1m0 20v2m0 9v1m0 6v2m0 1v1m0 16v1m0 9v1m0 7v1m0 26v1m0 12v1m0 5v2m0 18v1m0 19v2M612 345v1m0 4v1m0 41v2m0 145v2m0 6v2m0 10v1m0 14v2m0 5v1m0 6v2m0 53v1m0 17v1m0 14v1"/>
<path stroke="#0060ff" stroke-width="9" d="M76.5 212v1m0 61v1m0 230v1m0 75v1M95.5 554v1M134.5 218v2m0 136v2m0 201v1m0 50v2m0 54v1m0 8v1m0 7v1m0 2v2M173.5 209v2m0 99v1m0 9v2m0 23v1m0 22v1m0 2v1m0 304v1M212.5 310v1m0 9v2m0 63v1m0 14v2m0 12v2m0 15v1m0 13v2m0 156v1m0 28v2m0 10v1m0 48v1M251.5 240v2m0 277v1m0 16v1m0 98v1m0 3v1m0 16v1m0 36v1M290.5 274v1m0 156v1m0 107v2m0 26v1m0 36v1m0 63v2M329.5 224v1m0 188v1m0 34v1m0 23v2m0 87v2m0 24v1m0 3v1m0 24v1m0 6v2m0 20v2m0 12v2m0 10v1M358.5 208v1m0 87v1m0 95v2m0 131v2m0 12v2m0 27v1m0 54v2m0 23v1m0 10v2m0 1v1M397.5 503v2m0 38v2m0 29v2m0 40v1m0 5v1m0 14v2m0 4v1m0 1v2m0 18v1m0 5v1M436.5 343v2m0 112v1m0 36v2m0 80v1m0 46v2m0 1v1m0 4v1m0 12v1m0 7v1M475.5 285v2m0 66v1m0 174v1m0 80v1m0 35v2M514.5 347v2m0 59v1m0 25v1m0 50v2m0 90v1m0 48v1m0 4v1M553.5 391v1m0 136v1m0 26v1m0 40v2m0 54v1m0 14v1M592.5 333v1m0 21v1m0 26v1m0 147v2m0 15v2m0 12v2m0 50v1m0 9v2m0 9v1m0 6v2m0 7v2"/>
<path stroke="#0060ff" stroke-width="9.5" d="M621.75 217v1m0 13v3m0 46v2m0 63v1m0 45v1m0 86v1m0 8v1m0 72v1m0 11v1m0 39v1m0 31v1m0 30v1"/>
<path stroke="#0060ff" stroke-width="10" d="M86 329v2m0 110v2m0 46v1m0 35v2m0 34v2m0 123v2m0 1v1m0 2v1M105 211v1m0 449v2m0 7v1M115 245v2m0 20v2m0 175v1M125 269v2m0 25v1m0 89v1m0 146v1m0 38v1m0 88v1m0 4v1m0 25v1M144 207v1m0 148v2m0 42v2m0 20v1m0 46v1m0 88v1m0 32v1M154 422v1m0 62v2m0 81v1m0 43v1m0 64v2m0 4v1m0 5v1M164 679v1M183 216v1m0 14v2m0 29v2m0 377v2m0 18v1m0 27v1m0 2v1M193 231v2m0 136v2m0 6v1m0 73v1m0 94v1m0 125v2m0 10v1M203 438v1m0 91v2m0 161v1M222 311v2m0 99v1m0 266v1m0 1v2M232 420v1m0 11v2m0 18v1m0 4v1m0 57v1m0 21v1m0 22v1m0 6v1m0 39v1M242 240v2m0 199v2m0 82v2m0 80v1m0 15v2m0 29v2M261 251v1m0 361v1m0 21v1M271 251v1m0 335v1M281 311v2m0 254v1m0 73v2m0 23v1m0 8v1m0 14v2M300 217v1m0 236v2m0 59v1m0 120v1m0 3v1m0 39v3m0 10v1M310 284v1m0 118v1m0 50v2m0 16v2m0 14v1m0 34v1m0 25v1m0 109v2M320 224v1m0 308v1m0 30v1m0 92v1m0 17v1m0 12v1m0 1v2M339 319v1m0 71v1m0 28v1m0 45v1m0 52v1m0 13v1m0 11v1m0 48v1m0 33v2m0 29v2m0 24v1M349 350v1m0 5v2m0 11v2m0 58v1m0 95v2m0 41v1m0 90v2M368 296v1m0 83v1m0 26v1m0 93v1m0 37v2m0 42v2m0 1v1m0 75v1m0 4v1M378 336v1m0 49v1m0 132v1m0 3v1m0 115v1m0 10v2M388 252v1m0 49v2m0 219v1m0 93v1m0 29v1m0 8v1m0 8v1M407 527v1m0 46v2m0 16v2m0 51v2m0 9v1m0 14v1m0 7v1m0 9v1M417 261v1m0 9v2m0 117v1m0 69v1m0 1v1m0 64v1m0 14v1m0 26v1m0 34v1m0 11v1m0 24v2M427 213v2m0 38v2m0 88v2m0 8v1m0 156v1m0 87v1m0 24v2m0 11v1m0 11v1m0 17v1m0 5v2M446 539v2m0 8v1m0 66v1m0 20v2m0 2v2M456 239v1m0 101v1m0 107v2m0 72v1m0 112v1m0 21v1m0 3v1m0 16v1M466 239v1m0 3v1m0 13v1m0 58v2m0 6v1m0 22v2m0 190v2m0 60v2m0 49v1m0 5v1m0 13v2M485 208v1m0 189v1m0 111v1m0 18v1m0 57v1m0 12v1m0 34v1m0 21v2M495 208v1m0 11v1m0 39v1m0 39v1m0 46v2m0 114v2m0 69v2m0 7v3m0 10v2m0 41v1m0 7v1m0 20v2m0 4v1m0 4v2M505 347v2m0 87v2m0 99v1m0 38v1m0 30v1m0 26v1m0 4v1m0 13v1m0 5v2m0 2v2M524 231v2m0 76v1m0 231v1m0 41v2m0 5v1m0 9v1m0 15v1m0 37v2M534 218v2m0 58v1m0 30v1m0 9v1m0 20v1m0 200v1m0 71v1m0 14v2m0 19v1M544 285v2m0 27v1m0 227v1m0 21v1m0 8v1m0 20v1m0 28v2m0 14v1m0 8v1m0 19v2M563 458v2m0 68v1m0 114v1m0 18v1M573 351v2m0 11v1m0 101v1m0 87v1m0 12v1m0 33v2m0 46v1M583 288v1m0 3v1m0 208v2m0 44v3m0 11v2m0 89v1m0 4v1m0 3v1m0 12v1M602 231v2m0 210v1m0 66v1m0 63v2m0 31v1m0 13v1m0 6v2m0 19v1m0 16v1m0 7v1M612 391v1m0 51v1m0 66v1m0 49v1m0 69v1m0 27v1m0 11v1"/>
<path stroke="#0070ff" stroke-width="9" d="M76.5 359v1m0 65v1m0 121v2m0 16v2m0 69v1m0 38v1M95.5 212v1m0 205v2m0 153v1m0 12v1m0 69v1M134.5 294v2m0 290v1m0 27v2m0 9v1m0 59v1m0 2v1M173.5 226v1m0 211v1m0 202v2M212.5 332v1m0 319v1m0 12v1m0 19v1M251.5 323v1m0 47v1m0 186v1m0 8v1m0 6v2m0 36v1m0 31v1M290.5 217v1m0 89v2m0 327v1m0 37v1M329.5 267v2m0 28v1m0 105v1m0 25v1m0 158v3m0 31v1M358.5 217v1m0 11v1m0 107v1m0 12v1m0 18v2m0 181v2m0 113v1m0 25v1M397.5 528v1M436.5 212v1m0 80v1m0 71v2m0 45v1m0 137v1m0 40v1m0 55v1m0 33v2M475.5 243v1m0 90v2m0 165v1m0 3v1m0 33v2m0 27v1m0 18v1m0 49v2m0 11v2m0 18v1M514.5 304v1m0 18v1m0 112v2m0 99v1m0 31v1m0 30v1m0 36v2M553.5 293v1m0 2v1m0 17v1m0 17v1m0 27v2m0 33v1m0 140v1m0 5v1m0 26v1m0 42v1m0 4v1m0 48v1m0 4v1M592.5 356v2m0 29v2m0 111v1m0 20v2m0 55v1m0 29v1m0 5v2m0 36v1"/>
<path stroke="#0070ff" stroke-width="9.5" d="M621.75 252v1m0 156v2m0 50v1m0 22v1m0 100v1m0 10v2m0 68v1"/>
<path stroke="#0070ff" stroke-width="10" d="M86 209v2m0 90v1m0 203v1m0 37v2m0 9v1M105 586v1m0 105v1M115 282v1m0 4v1m0 107v1m0 47v1m0 86v2M125 414v2m0 114v2m0 35v1m0 23v1m0 9v2m0 67v1m0 8v1M154 448v1m0 45v2m0 69v2m0 42v3M164 310v1m0 150v1m0 93v1m0 130v2m0 1v1M183 226v1m0 142v2m0 67v1m0 157v2m0 24v1m0 57v1m0 4v1M193 216v1m0 183v2m0 67v1m0 84v1m0 61v1m0 66v1M203 332v1m0 118v1m0 102v1m0 135v2M222 320v2m0 198v1m0 35v2m0 127v1m0 4v2M232 372v1m0 18v1m0 92v1m0 80v2m0 42v1m0 8v1m0 64v1M242 452v1m0 191v1M261 394v1m0 203v1m0 90v1M271 619v2m0 54v1M281 539v2m0 111v1m0 1v2M300 342v1m0 260v1m0 21v1m0 42v3M310 265v1m0 22v1m0 110v1m0 17v1m0 172v1m0 99v2M320 284v1m0 3v1m0 2v1m0 257v1m0 72v1m0 45v2m0 11v2M339 472v2m0 113v1m0 35v2M349 423v2m0 120v1m0 102v2m0 13v2M368 494v2m0 11v2m0 43v2m0 9v1m0 9v1m0 24v1m0 64v2m0 7v2m0 10v1M378 346v1m0 149v1m0 10v2m0 54v1m0 27v1m0 78v2M388 496v1m0 3v1m0 10v1m0 24v1m0 6v2m0 20v2m0 34v2m0 19v1m0 3v1m0 53v1M407 436v2m0 90v1m0 1v2m0 4v1m0 28v2m0 47v2m0 23v1m0 19v2m0 16v2M417 501v1m0 101v1m0 23v1m0 3v1m0 15v1m0 13v1m0 4v1m0 9v1M427 271v2m0 12v2m0 125v1m0 121v2m0 6v1m0 7v1m0 17v2m0 46v1m0 9v1m0 16v2M446 253v2m0 110v2m0 209v1m0 75v2m0 21v1M456 483v1m0 26v1m0 67v1m0 80v2m0 7v2M466 341v1m0 16v1m0 115v1m0 62v1m0 53v1m0 29v1m0 14v1m0 4v2m0 23v1M485 285v2m0 31v1m0 15v2m0 154v2m0 64v2m0 50v2M495 314v1m0 141v1m0 134v1m0 16v2m0 35v2m0 1v1M505 463v2m0 78v2m0 7v2m0 1v1m0 21v1m0 53v1M524 243v1m0 102v1m0 260v1m0 54v1m0 9v3M534 245v2m0 134v1m0 4v1m0 53v1m0 142v2m0 1v1m0 7v1m0 13v1m0 36v2m0 15v4m0 5v1M544 278v1m0 161v1m0 42v1m0 54v1m0 30v1m0 74v1M563 293v1m0 2v1m0 173v1m0 124v3m0 29v1m0 13v2m0 13v1m0 1v1M573 327v1m0 123v1m0 50v1m0 6v1m0 58v1m0 10v2m0 26v1m0 10v1M583 266v1m0 66v1m0 22v2m0 91v2m0 67v1m0 59v1m0 17v2m0 45v1m0 15v2M602 588v2m0 2v2m0 19v1m0 16v1m0 46v3M612 217v1m0 84v2m0 180v1m0 47v1m0 62v1m0 69v1"/>
<path stroke="#0084ff" stroke-width="9" d="M76.5 298v2m0 166v1m0 16v1m0 192v1M95.5 209v2m0 90v1m0 98v2m0 64v1m0 76v2m0 72v1m0 63v2m0 9v1M134.5 630v1M173.5 613v1m0 8v1m0 25v1M212.5 449v2m0 69v1m0 40v2M251.5 598v1m0 55v2M290.5 327v1m0 41v2m0 12v2m0 130v1m0 18v2M329.5 604v1m0 20v1m0 5v1M358.5 434v1m0 14v2m0 110v2m0 10v1m0 20v1m0 33v2m0 46v1m0 13v2M397.5 302v2m0 132v2m0 162v1m0 13v2m0 10v1m0 40v1M436.5 253v2m0 15v1m0 43v1m0 128v1m0 105v1m0 18v1m0 41v2M475.5 448v1m0 177v1M514.5 231v2m0 278v1m0 15v1m0 79v1M553.5 284v1m0 120v2m0 76v1m0 80v1m0 29v2m0 18v2m0 18v1m0 12v1m0 24v2M592.5 511v1m0 6v1m0 82v2m0 18v1m0 3v1"/>
<path stroke="#0084ff" stroke-width="9.5" d="M621.75 605v2m0 36v1m0 5v1m0 27v2m0 7v2"/>
<path stroke="#0084ff" stroke-width="10" d="M86 253v2m0 43v2m0 265v2m0 69v1m0 44v2M105 458v2M115 289v2m0 242v1M125 287v1m0 326v2m0 68v1M144 567v1m0 109v2m0 7v2M154 407v1m0 53v1M164 559v1m0 53v1M183 564v1m0 80v2m0 1v1m0 44v1M193 564v1m0 80v2m0 46v1M203 652v1m0 36v1M222 377v1M232 558v1m0 85v1m0 22v1M242 519v1m0 54v2M261 371v1m0 186v1M271 394v1m0 295v2M281 534v2m0 83v2m0 40v1M310 332v1m0 271v1m0 18v2m0 56v2M320 685v1M339 256v1m0 409v1m0 8v1M349 591v1m0 31v2m0 2v1M368 449v2M378 380v1m0 26v1m0 1v2m0 261v2M388 577v1m0 70v1m0 19v2M407 282v1m0 131v2m0 189v2m0 21v2m0 54v1M417 282v1m0 264v2m0 56v2m0 15v1m0 12v1m0 16v1M427 270v1m0 43v1m0 53v1m0 74v1m0 50v2m0 141v2m0 23v1m0 18v2M446 360v2m0 233v1m0 71v1M456 617v1m0 36v2m0 16v2M466 505v1m0 72v1m0 46v1m0 19v2M485 448v1m0 210v2m0 10v1m0 4v1M495 247v1m0 242v2m0 185v2M505 411v1m0 112v1m0 83v1m0 57v1m0 1v3M524 304v1m0 222v1m0 41v1m0 11v1m0 12v1m0 62v1M534 243v1m0 187v1m0 106v1m0 35v2m0 14v1m0 57v1M544 304v1m0 285v1m0 61v1m0 5v1m0 7v1M563 227v2m0 81v1m0 221v1m0 18v1m0 27v2m0 38v2m0 33v2M573 411v1m0 103v1m0 16v1m0 89v3m0 19v3m0 3v2M583 327v1m0 36v1m0 146v1m0 3v1m0 51v1m0 50v1m0 4v2m0 9v2M602 647v1M612 413v1m0 190v1m0 23v2m0 5v1"/>
<path stroke="#0094ff" stroke-width="9" d="M76.5 690v2M95.5 235v1M134.5 636v1M173.5 690v2M212.5 333v1m0 230v1m0 114v2M251.5 560v1M290.5 342v1m0 194v1M329.5 391v1m0 276v2m0 13v1m0 2v2M358.5 423v2M397.5 500v1m0 91v2m0 42v1m0 31v2m0 2v2m0 1v1m0 3v2m0 3v1M436.5 269v1m0 148v2m0 202v1m0 12v1m0 9v2m0 32v1m0 3v1M475.5 623v2m0 24v1M514.5 411v1m0 41v1m0 127v1m0 45v1m0 28v1m0 13v1M553.5 304v1m0 314v2M592.5 471v1m0 124v2m0 11v1m0 47v1m0 12v1"/>
<path stroke="#0094ff" stroke-width="9.5" d="M621.75 592v2m0 1v1m0 17v1m0 9v2m0 11v1"/>
<path stroke="#0094ff" stroke-width="10" d="M86 425v1m0 57v1m0 170v2M105 466v1m0 150v1M115 670v1m0 18v1M125 294v2m0 290v1M154 558v2m0 126v2M183 567v1m0 84v1m0 30v1M193 596v2m0 91v1M203 449v2m0 12v2m0 167v2M222 225v1m0 418v1m0 35v1M242 391v1M261 587v1m0 96v1M281 369v2m0 166v1m0 66v1M310 596v2m0 5v1m0 76v1M320 332v1m0 271v1m0 18v2M339 429v1m0 197v1m0 35v2m0 12v2M349 675v1M368 337v1M378 536v1m0 124v1m0 13v1m0 3v1M388 661v1m0 12v1m0 8v1M417 537v1m0 119v1m0 1v2m0 1v1m0 8v3M427 537v1m0 9v2m0 68v1m0 9v1m0 31v2m0 13v1M446 506v1m0 103v2M456 360v2m0 144v1m0 22v1m0 127v1m0 23v2M466 529v1m0 62v2m0 29v2m0 9v1M485 625v1m0 36v1M495 637v2m0 20v2M505 591v1m0 17v1m0 52v1M524 245v2m0 264v1M534 552v2m0 69v2m0 12v2M544 336v1m0 68v2m0 233v1m0 2v1m0 30v1M563 411v1m0 124v1m0 80v1m0 12v1m0 16v1m0 4v1M573 617v1m0 9v1m0 34v1M583 609v1m0 15v1M602 471v1m0 131v1m0 36v1m0 40v2M612 231v2m0 19v1m0 350v1m0 1v2m0 7v2m0 15v1m0 7v1"/>
<path stroke="#00a4ff" stroke-width="9" d="M76.5 572v1m0 121v2M134.5 632v2m0 13v1M212.5 688v1M251.5 694v2M290.5 561v2m0 1v1m0 23v2m0 103v1M329.5 533v1m0 151v1M358.5 674v1M397.5 649v1m0 13v2M475.5 474v1m0 52v1m0 64v2m0 54v1M514.5 608v1m0 34v1M553.5 336v1m0 248v1m0 82v2"/>
<path stroke="#00a4ff" stroke-width="9.5" d="M621.75 640v1"/>
<path stroke="#00a4ff" stroke-width="10" d="M86 690v2M105 212v1M115 647v1M125 630v1M144 632v2m0 13v1M154 555v1M164 567v1m0 124v1M183 688v1M193 463v2m0 229v2M222 610v2m0 11v2M232 225v1M271 661v1M310 661v1m0 26v1M320 585v1m0 100v2M339 692v1M349 587v1M378 663v2M388 409v2M407 600v1m0 47v1m0 18v1m0 17v1M417 368v1m0 310v1M427 418v2m0 198v1m0 15v1m0 14v1m0 18v2m0 10v1M446 622v1m0 34v1M456 653v1M466 568v1m0 34v1m0 6v2m0 58v1M485 637v2m0 9v1M495 667v1M505 630v1m0 26v1M524 630v2m0 3v1m0 44v1M534 609v1m0 21v1m0 21v1M544 588v2m0 35v1m0 10v1m0 12v1m0 25v1m0 10v2M563 585v1m0 36v1m0 3v1m0 22v1m0 3v1M573 501v1m0 132v1m0 24v2M583 509v1m0 174v1M602 608v1m0 49v1M612 585v1m0 59v2m0 30v2"/>
<path stroke="#00b4ff" stroke-width="9" d="M134.5 591v1m0 92v1m0 4v1M173.5 567v1m0 124v1M212.5 690v2M358.5 588v2M436.5 618v1m0 15v1M475.5 603v1m0 6v2m0 27v1M514.5 666v1m0 1v2M553.5 498v2m0 126v1m0 29v1M592.5 627v1m0 4v2m0 40v1"/>
<path stroke="#00b4ff" stroke-width="9.5" d="M621.75 610v2m0 19v1m0 16v1m0 10v2"/>
<path stroke="#00b4ff" stroke-width="10" d="M115 654v2m0 28v1M125 654v2M154 567v1M183 565v2M222 333v1m0 226v1m0 127v1M232 694v2M242 667v1m0 16v1M281 588v2M320 403v1m0 183v1M339 683v1M368 674v1m0 1v1M378 511v1m0 153v1m0 11v2M407 604v1M417 628v2M456 622v1m0 38v1m0 9v1m0 4v1M485 653v1M495 555v1m0 129v1M505 648v1m0 35v1M524 681v2M534 657v1m0 8v1M563 207v1m0 426v1M573 657v1M583 601v2m0 24v1m0 37v1M602 614v2m0 16v2m0 14v1M612 524v1m0 67v2m0 42v1m0 48v1"/>
<path stroke="#00c4ff" stroke-width="9" d="M212.5 577v1m0 32v2M329.5 598v1M358.5 598v1m0 78v2M397.5 670v1M436.5 614v2M475.5 656v1m0 4v1m0 21v1M514.5 630v1m0 26v1m0 3v1m0 1v2m0 9v1M553.5 207v1m0 431v1M592.5 612v1m0 55v2"/>
<path stroke="#00c4ff" stroke-width="9.5" d="M621.75 663v2m0 15v1"/>
<path stroke="#00c4ff" stroke-width="10" d="M105 654v2M193 565v2M242 567v1M300 622v1M310 672v2M320 594v1m0 66v1m0 27v1M339 586v1M349 628v2M368 588v2m0 91v3m0 6v2M378 588v2m0 4v1m0 9v1m0 71v1M388 672v2M407 552v2m0 114v2m0 18v1M417 600v1m0 64v1m0 18v1m0 7v1M427 212v1m0 418v1m0 33v1M446 614v2m0 49v1M456 637v2m0 13v1m0 3v1M466 595v1M485 670v1m0 9v1m0 8v1M495 663v2m0 6v1M505 658v1m0 2v1m0 19v2M524 453v1m0 178v2m0 24v1M534 588v2m0 53v1m0 3v1m0 8v1m0 10v1M544 622v1m0 36v2M563 621v1M573 490v2m0 169v1M583 490v2m0 129v1m0 9v1m0 34v1M602 524v1m0 109v1m0 9v1M612 634v1m0 12v1m0 23v1m0 20v1"/>
<path stroke="#00d4ff" stroke-width="9" d="M134.5 567v1m0 86v2M173.5 688v2M329.5 688v1M397.5 552v2m0 11v2m0 37v1m0 72v2M436.5 641v2m0 28v1m0 16v1M475.5 625v1m0 46v2M514.5 681v2M553.5 640v1m0 8v1M592.5 667v1"/>
<path stroke="#00d4ff" stroke-width="9.5" d="M621.75 507v2m0 100v1m0 51v1"/>
<path stroke="#00d4ff" stroke-width="10" d="M115 568v1M125 647v1m0 28v1M144 675v1M154 653v1M203 577v1M222 561v2M232 623v2M261 565v2M310 565v2M339 689v1M349 671v1M378 645v2M388 599v1m0 75v2M407 672v2M446 647v1m0 31v1M466 684v1M485 684v1M495 641v2m0 23v1m0 17v1M524 648v1M534 625v1m0 6v2m0 16v2M544 630v1m0 41v2M563 659v3m0 30v1M573 569v1m0 67v2M583 668v2M602 653v1M612 609v1m0 34v1"/>
<path stroke="#00e4f8" stroke-width="9" d="M134.5 676v1M290.5 622v1m0 31v2M329.5 585v1M358.5 675v1m0 12v1M397.5 686v2M475.5 685v1M514.5 679v1M553.5 630v1M592.5 663v2m0 1v1"/>
<path stroke="#00e4f8" stroke-width="9.5" d="M621.75 607v1m0 49v1m0 4v1m0 7v1"/>
<path stroke="#00e4f8" stroke-width="10" d="M144 653v1m0 22v1m0 12v1M164 685v1M261 694v2M300 656v1M320 672v2M349 595v1M407 665v1m0 20v2M417 675v1m0 4v1M427 683v2M446 659v2m0 10v1M456 595v1m0 18v2m0 76v1M466 663v2M485 668v2M505 625v1M524 659v2m0 18v1M563 498v2m0 69v1m0 87v1m0 8v2M573 631v1M583 612v1M602 662v1M612 667v1"/>
<path stroke="#0cf4eb" stroke-width="9" d="M95.5 694v2M212.5 563v1M436.5 662v1m0 14v2M475.5 647v1m0 6v2M514.5 654v2m0 20v1M592.5 662v1"/>
<path stroke="#0cf4eb" stroke-width="9.5" d="M621.75 637v2"/>
<path stroke="#0cf4eb" stroke-width="10" d="M125 568v1m0 108v2M164 694v2M242 653v1M300 565v2M320 565v2M349 677v2M368 675v1M378 659v2m0 22v1m0 5v1M388 604v1M407 683v1m0 8v1M427 652v1m0 35v1M446 601v2m0 67v1M466 614v2m0 63v1m0 5v1M505 674v1M544 583v2M563 645v2m0 23v1M573 674v1M583 648v1M602 654v2m0 24v1"/>
<path stroke="#19ffde" stroke-width="9" d="M251.5 684v1M329.5 614v2m0 77v1M475.5 671v1m0 2v1M553.5 583v2m0 37v1m0 20v1m0 37v2M592.5 671v1"/>
<path stroke="#19ffde" stroke-width="9.5" d="M621.75 658v1m0 15v1"/>
<path stroke="#19ffde" stroke-width="10" d="M105 694v2M203 564v1M271 694v2M320 586v1M339 595v1m0 94v2M349 690v2M368 587v1M378 595v1m0 88v1m0 5v2M407 674v1M417 681v2M427 622v1m0 54v2M446 681v2M466 674v1M485 672v2M495 670v1m0 9v1M505 671v1m0 7v1M524 643v1m0 22v2m0 9v2M534 630v1M563 672v2M573 626v1m0 25v1M583 626v1m0 26v1M602 657v1M612 607v1"/>
<path stroke="#26ffd1" stroke-width="9" d="M95.5 654v2M358.5 587v1m0 101v1M397.5 690v2M436.5 672v2m0 15v1M514.5 625v1m0 23v1M592.5 679v1m0 6v2"/>
<path stroke="#26ffd1" stroke-width="10" d="M115 676v3M261 693v1M339 614v2M349 679v1m0 1v2m0 9v1M378 587v1M388 681v2M407 658v1m0 16v1M417 677v2M427 675v1M456 601v2m0 40v1m0 41v1M466 676v3M485 677v2M495 672v3M505 635v1m0 20v1M534 658v1M544 653v3m0 11v1M563 650v2M602 675v1"/>
<path stroke="#33ffc4" stroke-width="9" d="M134.5 677v2M173.5 653v1M251.5 565v2M329.5 586v1M358.5 679v1M397.5 683v1M436.5 674v1M475.5 681v2M514.5 609v1m0 43v1m0 26v1M592.5 661v1"/>
<path stroke="#33ffc4" stroke-width="10" d="M154 694v2M261 559v1M271 565v2M310 572v1m0 85v1M320 598v1M339 658v1m0 12v1m0 16v1M349 586v1m0 71v1m0 35v2M368 594v1m0 97v1M388 684v1M446 683v1M456 666v1M466 650v2M485 667v1m0 15v1M505 667v1m0 9v2M524 668v2m0 13v1M534 641v2M544 670v1M573 621v1m0 62v1M583 650v2m0 15v1m0 11v1"/>
<path stroke="#40ffb7" stroke-width="9" d="M76.5 656v1M358.5 658v1m0 22v2m0 11v2M397.5 659v2M436.5 657v1M475.5 667v1M514.5 677v2m0 4v1M553.5 670v1M592.5 635v1m0 39v1m0 1v2"/>
<path stroke="#40ffb7" stroke-width="9.5" d="M621.75 647v1"/>
<path stroke="#40ffb7" stroke-width="10" d="M232 653v1M242 694v2M349 693v1M368 689v1M378 598v1m0 86v1M388 659v2M417 663v2M427 663v2M446 643v1M456 667v1M495 636v1m0 39v1M505 683v1M524 688v1M544 663v2m0 14v1m0 9v1M573 656v1M583 656v1M602 656v1M612 657v1m0 17v1m0 5v2"/>
<path stroke="#4dffaa" stroke-width="9" d="M173.5 685v1M329.5 689v1M358.5 595v1M475.5 675v1m0 1v2M592.5 658v1"/>
<path stroke="#4dffaa" stroke-width="10" d="M281 572v1m0 120v1M310 693v1M320 658v1M368 596v2m0 61v2M388 667v1m0 17v1M407 680v1M427 694v2M446 676v1m0 9v2M456 674v1M505 675v1M524 652v1M534 684v1M544 677v2M563 671v1M583 647v1m0 35v1M612 666v1"/>
<path stroke="#5aff9d" stroke-width="9" d="M251.5 653v1M290.5 563v1M329.5 658v1M397.5 685v1M514.5 652v1M553.5 662v1M592.5 672v2"/>
<path stroke="#5aff9d" stroke-width="10" d="M86 656v1M144 693v1M271 693v1M320 595v1M378 681v2M407 681v2M417 683v1M427 679v1M446 674v1M524 609v1m0 53v2M544 680v1m0 4v1M563 665v1m0 2v2M573 667v1M602 661v1M612 672v2"/>
<path stroke="#66ff90" stroke-width="9" d="M329.5 596v2M553.5 680v1"/>
<path stroke="#66ff90" stroke-width="9.5" d="M621.75 688v1"/>
<path stroke="#66ff90" stroke-width="10" d="M320 693v1M368 595v1M388 677v2M427 676v1M466 648v1M534 668v2m0 2v2m0 9v1M544 676v1M563 680v1M573 686v2M612 659v2"/>
<path stroke="#73ff83" stroke-width="9" d="M358.5 596v2m0 87v1m0 6v1M475.5 676v1M553.5 676v1M592.5 653v1"/>
<path stroke="#73ff83" stroke-width="10" d="M164 653v1M242 693v1M320 596v2M378 596v2M388 690v2M417 667v1M446 684v1M485 690v2M524 689v1M534 674v1M544 671v1m0 9v2m0 1v1M563 686v2M573 672v2M612 674v1"/>
<path stroke="#83ff73" stroke-width="9" d="M329.5 595v1M358.5 686v2M397.5 693v1M514.5 665v1M553.5 657v1"/>
<path stroke="#83ff73" stroke-width="9.5" d="M621.75 665v1m0 23v1"/>
<path stroke="#83ff73" stroke-width="10" d="M144 692v1m0 1v2M232 559v1M368 685v1M388 688v1M466 683v1M485 685v1M524 671v1M563 685v1M573 663v2M583 670v1m0 19v2"/>
<path stroke="#90ff66" stroke-width="9.5" d="M621.75 653v1"/>
<path stroke="#90ff66" stroke-width="10" d="M115 693v1M164 568v1M456 665v1m0 18v1M495 692v1M573 675v1M602 659v2"/>
<path stroke="#9dff5a" stroke-width="9" d="M475.5 657v1M553.5 665v1m0 9v1"/>
<path stroke="#9dff5a" stroke-width="10" d="M271 653v1M339 598v1M368 686v2M417 685v1m0 2v1M495 675v1m0 3v1M524 684v1M573 685v1M583 676v1"/>
<path stroke="#aaff4d" stroke-width="9" d="M397.5 676v1"/>
<path stroke="#aaff4d" stroke-width="9.5" d="M621.75 672v2"/>
<path stroke="#aaff4d" stroke-width="10" d="M115 692v1m0 1v2M310 694v2M320 694v2M446 677v2m0 1v1M456 680v1m0 5v2M466 692v1M485 693v1M524 665v1m0 4v1M534 681v2M573 679v1M602 670v1"/>
<path stroke="#b7ff40" stroke-width="9" d="M397.5 689v1M592.5 685v1"/>
<path stroke="#b7ff40" stroke-width="10" d="M261 653v1M349 598v1M368 688v1M466 686v2M505 693v1M534 675v1M544 693v1M563 674v1m0 8v1M573 654v2M583 672v2M602 671v1M612 684v1m0 4v1"/>
<path stroke="#c4ff33" stroke-width="9" d="M553.5 663v2"/>
<path stroke="#c4ff33" stroke-width="9.5" d="M621.75 671v1"/>
<path stroke="#c4ff33" stroke-width="10" d="M456 690v2M466 659v2m0 19v1M485 686v2M505 680v1M534 688v1M563 684v1M612 680v1"/>
<path stroke="#d1ff26" stroke-width="9" d="M212.5 653v1M329.5 694v2M436.5 686v2M514.5 689v1"/>
<path stroke="#d1ff26" stroke-width="10" d="M203 653v1M281 653v1M339 596v2M349 596v2M417 689v1M485 674v1M495 683v1m0 5v1M534 661v1M544 683v1M563 688v1"/>
<path stroke="#deff19" stroke-width="9" d="M290.5 572v1M436.5 685v1M553.5 683v2"/>
<path stroke="#deff19" stroke-width="9.5" d="M621.75 652v1m0 14v1m0 8v1"/>
<path stroke="#deff19" stroke-width="10" d="M222 653v1M427 686v2M505 688v1M534 686v2M563 689v1M612 683v1"/>
<path stroke="#ebff0c" stroke-width="9" d="M134.5 694v2M251.5 559v1M592.5 688v1"/>
<path stroke="#ebff0c" stroke-width="10" d="M339 693v1M446 688v1M485 681v2M495 688v1M534 677v2M583 677v2M612 693v1"/>
<path stroke="#f8f500" stroke-width="9" d="M553.5 686v2"/>
<path stroke="#f8f500" stroke-width="10" d="M388 692v1M427 690v2M495 686v2M534 680v1M573 676v1M583 686v2m0 1v1"/>
<path stroke="#ffe600" stroke-width="9" d="M514.5 671v1M592.5 693v1"/>
<path stroke="#ffe600" stroke-width="10" d="M125 694v2M388 689v1M446 685v1M524 656v1m0 18v1M563 663v2M573 692v1M602 685v1M612 690v2"/>
<path stroke="#ffd700" stroke-width="9" d="M514.5 693v1M553.5 679v1M592.5 680v1m0 2v1"/>
<path stroke="#ffd700" stroke-width="9.5" d="M621.75 668v2"/>
<path stroke="#ffd700" stroke-width="10" d="M183 653v1M368 693v1M446 693v1M466 681v2M495 681v2M534 670v1M583 645v2M602 686v2"/>
<path stroke="#ffc800" stroke-width="9" d="M475.5 680v1M553.5 674v1"/>
<path stroke="#ffc800" stroke-width="10" d="M505 676v1M573 658v1m0 22v2M602 684v1"/>
<path stroke="#ffb900" stroke-width="9" d="M475.5 684v1M592.5 676v1m0 4v2"/>
<path stroke="#ffb900" stroke-width="9.5" d="M621.75 684v1"/>
<path stroke="#ffb900" stroke-width="10" d="M339 694v2M378 692v1M427 692v1M466 675v1M485 694v2M602 672v2"/>
<path stroke="#ffab00" stroke-width="9" d="M592.5 684v1"/>
<path stroke="#ffab00" stroke-width="10" d="M563 676v1m0 2v1"/>
<path stroke="#ff9c00" stroke-width="10" d="M242 559v1M563 675v1M573 670v1M583 692v1"/>
<path stroke="#ff8900" stroke-width="9" d="M514.5 688v1M553.5 689v1"/>
<path stroke="#ff8900" stroke-width="9.5" d="M621.75 690v2"/>
<path stroke="#ff8900" stroke-width="10" d="M193 653v1M368 694v2M378 693v1M388 686v2M534 685v1M612 688v1"/>
<path stroke="#ff7a00" stroke-width="9" d="M436.5 693v1"/>
<path stroke="#ff7a00" stroke-width="10" d="M524 690v2M573 683v1m0 4v1M583 680v1"/>
<path stroke="#ff6c00" stroke-width="9" d="M436.5 690v2M592.5 690v2"/>
<path stroke="#ff6c00" stroke-width="10" d="M300 572v1"/>
<path stroke="#ff5d00" stroke-width="9" d="M514.5 675v1"/>
<path stroke="#ff5d00" stroke-width="10" d="M563 677v2"/>
<path stroke="#ff4e00" stroke-width="10" d="M417 686v2M495 693v1M602 683v1"/>
<path stroke="#ff3f00" stroke-width="9.5" d="M621.75 685v1"/>
<path stroke="#ff3f00" stroke-width="10" d="M466 668v2"/>
<path stroke="#ff3000" stroke-width="10" d="M378 688v1M505 690v2M583 685v1"/>
<path stroke="#ff2200" stroke-width="9" d="M592.5 689v1"/>
<path stroke="#ff2200" stroke-width="10" d="M466 689v1M505 689v1M524 694v2M602 676v1"/>
<path stroke="#ff1300" stroke-width="9" d="M592.5 692v1"/>
<path stroke="#ff1300" stroke-width="10" d="M602 688v1"/>
<path stroke="#ed0400" stroke-width="10" d="M427 685v1M446 689v1"/>
<path stroke="#da0000" stroke-width="9" d="M514.5 690v2"/>
<path stroke="#da0000" stroke-width="10" d="M534 692v1"/>
<path stroke="#c80000" stroke-width="9" d="M436.5 694v2M514.5 685v1M553.5 677v2"/>
<path stroke="#c80000" stroke-width="10" d="M583 675v1"/>
<path stroke="#b60000" stroke-width="9" d="M475.5 692v1"/>
<path stroke="#b60000" stroke-width="9.5" d="M621.75 683v1"/>
<path stroke="#b60000" stroke-width="10" d="M417 694v2M466 690v2M505 686v2M524 692v1M563 690v2"/>
<path stroke="#a40000" stroke-width="9" d="M475.5 693v1"/>
<path stroke="#a40000" stroke-width="10" d="M427 689v1M456 694v2M466 688v1M524 685v1"/>
<path stroke="#920000" stroke-width="10" d="M417 690v2M505 685v1"/>
<path stroke="#800000" stroke-width="9" d="M397.5 692v1m0 1v2M436.5 692v1M475.5 686v6m0 2v2M514.5 684v1m0 1v2m0 4v1m0 1v2M553.5 685v1m0 2v1m0 1v6M592.5 694v2"/>
<path stroke="#800000" stroke-width="9.5" d="M621.75 679v1m0 1v2m0 9v4"/>
<path stroke="#800000" stroke-width="10" d="M378 694v2M388 693v3M407 690v2m0 1v3M417 693v1M427 693v1M446 690v3m0 1v2M456 688v2m0 3v1M466 693v3M485 692v1M495 690v2m0 2v2M505 692v1m0 1v2M524 686v2m0 5v1M534 689v3m0 1v3M544 688v1m0 1v3m0 1v2M563 693v3M573 677v2m0 1v1m0 8v3m0 1v3M583 681v2m0 5v1m0 4v3M602 689v7M612 694v2"/>
</g>
<clipPath id="c3"><rect x="72.5" y="715.5" width="554" height="140"/></clipPath>
<g fill="none" stroke="#1f77b4" stroke-width="1" clip-path="url(#c3)">
<path opacity="0.09" d="M73.5 772.8V803.9M74.5 771.7V802.5M75.5 772.5V800.1M76.5 764.5V800.6M77.5 773.0V799.8M78.5 776.3V822.5M79.5 773.9V803.5M80.5 766.8V811.9M81.5 763.1V803.4M82.5 769.7V804.6M83.5 775.7V803.0M84.5 769.5V798.4M85.5 762.7V800.6M86.5 769.1V801.0M87.5 770.5V813.8M88.5 761.6V801.9M89.5 763.3V801.0M90.5 771.8V806.0M91.5 774.4V801.7M92.5 765.2V806.2M93.5 774.4V824.9M94.5 775.7V804.7M95.5 773.5V805.5M96.5 766.6V812.1M97.5 775.7V797.2M98.5 768.7V802.6M99.5 772.8V811.2M100.5 770.6V806.5M101.5 775.1V800.1M102.5 767.3V801.6M103.5 773.9V812.3M104.5 777.4V802.3M105.5 775.5V797.0M106.5 775.4V801.2M107.5 775.4V806.0M108.5 768.2V796.3M109.5 772.9V803.9M110.5 773.6V812.5M111.5 775.6V804.1M112.5 772.5V807.2M113.5 776.1V805.2M114.5 765.3V803.7M115.5 774.1V810.2M116.5 770.4V801.6M117.5 768.6V800.9M118.5 775.2V797.4M119.5 771.3V807.9M120.5 770.3V801.8M121.5 774.0V798.8M122.5 776.2V808.1M123.5 771.8V803.9M124.5 773.2V802.8M125.5 773.6V807.3M126.5 771.1V795.2M127.5 763.9V800.7M128.5 768.2V807.0M129.5 766.7V797.3M130.5 767.5V801.4M131.5 768.5V795.6M132.5 761.1V795.2M133.5 759.7V796.5M134.5 764.1V795.7M135.5 765.7V787.6M136.5 762.8V789.5M137.5 765.8V791.1M138.5 759.0V788.9M139.5 763.2V791.0M140.5 756.0V799.4M141.5 760.8V789.1M142.5 761.4V792.6M143.5 768.2V812.9M144.5 771.3V800.3M145.5 769.5V802.2M146.5 767.1V813.8M147.5 772.6V801.5M148.5 768.7V808.2M149.5 772.5V797.5M150.5 766.2V801.9M151.5 770.0V808.5M152.5 760.6V806.5M153.5 765.5V798.8M154.5 769.8V807.0M155.5 763.5V805.1M156.5 771.3V799.9M157.5 771.6V801.6M158.5 766.3V800.0M159.5 770.5V795.6M160.5 766.2V796.8M161.5 770.4V806.7M162.5 768.5V819.5M163.5 774.5V806.0M164.5 766.8V806.0M165.5 767.2V810.3M166.5 761.0V814.9M167.5 771.9V799.6M168.5 769.0V800.6M169.5 769.9V793.0M170.5 771.1V804.7M171.5 767.0V804.8M172.5 762.8V798.4M173.5 765.8V803.2M174.5 761.6V827.1M175.5 764.2V802.4M176.5 770.2V802.3M177.5 761.8V804.8M178.5 774.0V798.5M179.5 772.0V814.5M180.5 774.6V809.9M181.5 768.1V802.1M182.5 768.1V796.1M183.5 768.2V798.4M184.5 768.0V801.5M185.5 773.5V800.8M186.5 768.1V796.2M187.5 773.1V800.3M188.5 774.4V807.2M189.5 770.2V795.1M190.5 770.8V794.6M191.5 770.7V803.6M192.5 767.5V804.0M193.5 765.2V810.4M194.5 765.8V794.3M195.5 765.0V798.2M196.5 774.5V799.0M197.5 770.8V819.6M198.5 775.1V810.9M199.5 769.2V799.5M200.5 765.0V796.4M201.5 775.3V796.6M202.5 772.6V807.1M203.5 774.8V795.3M204.5 768.9V792.7M205.5 763.3V808.2M206.5 770.5V813.9M207.5 767.7V805.3M208.5 762.7V805.1M209.5 772.4V793.8M210.5 766.0V808.5M211.5 773.1V797.9M212.5 764.4V794.2M213.5 766.8V799.0M214.5 771.1V801.4M215.5 771.4V801.5M216.5 771.2V800.6M217.5 770.7V810.8M218.5 772.0V808.4M219.5 772.1V817.2M220.5 769.1V810.6M221.5 773.7V802.5M222.5 770.3V807.9M223.5 771.8V802.4M224.5 767.1V799.0M225.5 770.4V806.2M226.5 772.2V798.0M227.5 771.3V802.2M228.5 776.0V808.0M229.5 765.6V799.7M230.5 768.2V807.1M231.5 764.2V801.9M232.5 767.5V796.5M233.5 772.4V798.4M234.5 768.9V800.6M235.5 769.7V798.6M236.5 765.5V796.4M237.5 763.3V796.6M238.5 767.9V800.6M239.5 770.8V798.7M240.5 766.7V805.8M241.5 773.7V799.5M242.5 765.9V792.5M243.5 767.9V800.7M244.5 776.2V793.3M245.5 765.4V801.7M246.5 769.8V802.0M247.5 767.8V799.2M248.5 770.8V803.7M249.5 769.1V792.4M250.5 767.6V792.4M251.5 769.1V817.4M252.5 772.8V802.0M253.5 768.9V796.0M254.5 760.2V798.0M255.5 767.8V800.6M256.5 772.1V797.7M257.5 764.8V796.0M258.5 766.2V812.2M259.5 770.3V803.6M260.5 768.6V794.6M261.5 770.0V796.0M262.5 768.8V792.3M263.5 769.8V799.0M264.5 769.9V803.1M265.5 764.3V798.0M266.5 774.1V817.5M267.5 766.0V799.5M268.5 761.6V810.3M269.5 774.7V796.4M270.5 770.8V805.0M271.5 769.2V806.3M272.5 770.0V794.2M273.5 773.7V803.6M274.5 771.4V808.0M275.5 775.3V809.4M276.5 767.1V804.1M277.5 773.4V806.1M278.5 773.0V816.9M279.5 773.0V812.3M280.5 757.4V809.3M281.5 765.1V800.3M282.5 767.8V801.5M283.5 768.2V803.1M284.5 772.3V799.0M285.5 769.2V802.6M286.5 763.8V814.4M287.5 771.9V796.2M288.5 763.4V803.2M289.5 765.1V802.3M290.5 764.8V795.7M291.5 771.4V798.4M292.5 752.5V806.1M293.5 769.7V797.3M294.5 765.3V797.4M295.5 773.1V802.8M296.5 765.3V806.7M297.5 775.0V793.8M298.5 775.7V806.7M299.5 772.9V801.7M300.5 769.8V804.1M301.5 762.8V815.0M302.5 771.9V800.1M303.5 769.1V809.5M304.5 763.1V800.4M305.5 773.0V797.9M306.5 757.1V800.4M307.5 758.2V798.4M308.5 766.5V792.8M309.5 769.8V802.7M310.5 771.8V798.6M311.5 780.9V814.9M312.5 772.6V807.2M313.5 769.7V798.7M314.5 766.1V810.1M315.5 764.5V806.0M316.5 764.9V805.7M317.5 772.5V810.3M318.5 780.1V803.0M319.5 780.8V817.8M320.5 779.1V809.8M321.5 772.9V806.8M322.5 771.3V817.5M323.5 774.8V812.2M324.5 775.7V809.6M325.5 768.9V806.7M326.5 771.5V815.9M327.5 768.9V799.2M328.5 775.1V810.8M329.5 779.0V808.9M330.5 779.0V810.0M331.5 787.3V817.1M332.5 785.4V823.7M333.5 790.4V819.5M334.5 782.7V812.8M335.5 775.8V813.3M336.5 779.7V809.9M337.5 778.9V811.0M338.5 785.5V827.0M339.5 771.3V823.0M340.5 775.5V800.8M341.5 777.7V829.1M342.5 772.2V814.1M343.5 769.3V806.7M344.5 780.2V814.4M345.5 775.0V806.5M346.5 776.2V805.0M347.5 773.7V807.5M348.5 780.6V818.0M349.5 782.1V813.1M350.5 774.4V822.0M351.5 787.4V812.0M352.5 783.7V824.3M353.5 786.5V810.6M354.5 782.9V818.1M355.5 775.1V811.6M356.5 782.1V809.7M357.5 777.1V811.0M358.5 783.9V815.7M359.5 782.9V816.1M360.5 776.6V813.7M361.5 782.5V824.0M362.5 780.5V810.3M363.5 775.2V823.8M364.5 781.7V827.1M365.5 784.1V806.9M366.5 784.3V810.7M367.5 786.4V833.7M368.5 790.1V827.0M369.5 795.1V834.7M370.5 792.8V818.9M371.5 787.2V821.9M372.5 787.2V819.9M373.5 792.5V825.6M374.5 767.3V831.7M375.5 782.1V811.1M376.5 781.8V827.4M377.5 780.1V809.3M378.5 779.5V824.0M379.5 781.9V822.9M380.5 768.7V805.8M381.5 774.9V806.9M382.5 772.0V815.3M383.5 777.6V807.4M384.5 775.6V803.6M385.5 774.5V808.0M386.5 783.2V811.7M387.5 778.8V818.2M388.5 778.0V807.7M389.5 774.0V820.6M390.5 785.7V812.0M391.5 785.4V810.0M392.5 785.3V817.7M393.5 783.1V809.7M394.5 780.9V818.0M395.5 780.0V829.2M396.5 782.0V819.5M397.5 778.5V818.5M398.5 783.7V816.4M399.5 774.1V808.5M400.5 781.8V811.4M401.5 781.9V822.2M402.5 787.6V826.2M403.5 781.0V811.0M404.5 783.0V827.9M405.5 784.4V811.4M406.5 782.6V847.6M407.5 778.3V807.5M408.5 779.1V811.0M409.5 778.7V807.8M410.5 780.6V811.5M411.5 776.1V808.4M412.5 771.0V826.9M413.5 766.3V807.3M414.5 784.2V812.1M415.5 790.3V824.5M416.5 778.2V821.5M417.5 784.6V834.6M418.5 792.7V835.8M419.5 796.5V827.4M420.5 780.6V821.8M421.5 776.9V812.7M422.5 771.3V809.1M423.5 768.4V811.6M424.5 762.1V788.4M425.5 758.2V794.9M426.5 761.2V787.1M427.5 759.2V803.9M428.5 783.2V805.9M429.5 781.5V812.1M430.5 789.5V825.1M431.5 789.6V819.2M432.5 777.4V830.2M433.5 792.0V840.0M434.5 782.2V812.3M435.5 787.5V821.7M436.5 794.5V821.0M437.5 791.6V824.9M438.5 791.4V821.7M439.5 798.4V828.1M440.5 796.6V832.2M441.5 801.6V836.0M442.5 791.5V825.3M443.5 805.3V834.8M444.5 801.2V833.9M445.5 804.0V842.6M446.5 799.0V826.9M447.5 798.6V832.0M448.5 779.0V821.9M449.5 788.8V821.2M450.5 781.2V815.3M451.5 784.0V834.3M452.5 793.5V823.7M453.5 787.7V821.5M454.5 794.8V819.1M455.5 791.4V824.8M456.5 780.6V823.4M457.5 795.5V824.2M458.5 792.5V817.7M459.5 789.0V824.0M460.5 799.2V831.3M461.5 792.5V837.0M462.5 789.3V817.2M463.5 797.0V820.7M464.5 784.5V830.6M465.5 791.4V817.8M466.5 795.6V850.9M467.5 802.8V849.0M468.5 793.6V829.6M469.5 797.0V826.2M470.5 791.1V818.5M471.5 781.5V817.0M472.5 781.3V827.3M473.5 799.1V837.2M474.5 796.7V833.0M475.5 791.4V822.0M476.5 788.3V816.9M477.5 787.1V826.1M478.5 794.7V831.0M479.5 806.9V834.2M480.5 803.6V838.1M481.5 805.6V834.4M482.5 797.7V826.2M483.5 796.9V827.8M484.5 802.5V840.9M485.5 805.9V845.6M486.5 799.6V831.9M487.5 803.8V834.4M488.5 804.6V846.6M489.5 813.4V843.9M490.5 805.2V838.3M491.5 786.2V835.0M492.5 803.6V833.3M493.5 790.9V840.6M494.5 789.5V819.7M495.5 781.7V812.7M496.5 782.9V810.0M497.5 790.9V822.3M498.5 797.2V832.5M499.5 799.3V833.0M500.5 790.5V820.7M501.5 792.1V820.3M502.5 789.3V822.8M503.5 786.1V837.9M504.5 771.9V804.1M505.5 772.4V814.0M506.5 777.7V819.6M507.5 786.1V821.0M508.5 778.5V810.1M509.5 785.9V815.2M510.5 779.8V837.7M511.5 772.9V802.5M512.5 783.8V814.7M513.5 787.1V807.2M514.5 771.6V815.6M515.5 782.4V812.5M516.5 781.7V812.0M517.5 775.9V821.5M518.5 779.4V810.9M519.5 776.2V819.1M520.5 787.5V826.2M521.5 785.1V827.1M522.5 795.1V846.1M523.5 795.2V827.5M524.5 787.1V816.7M525.5 794.7V829.2M526.5 794.9V851.6M527.5 795.3V825.6M528.5 796.0V835.2M529.5 795.5V838.9M530.5 809.4V833.4M531.5 794.6V819.8M532.5 792.1V826.9M533.5 789.7V817.7M534.5 786.1V816.5M535.5 782.4V828.3M536.5 794.0V828.6M537.5 781.8V823.0M538.5 794.7V860.3M539.5 788.9V829.8M540.5 784.1V814.7M541.5 787.0V818.1M542.5 784.6V820.3M543.5 764.1V835.8M544.5 784.2V819.0M545.5 785.6V824.0M546.5 786.0V819.6M547.5 787.9V816.9M548.5 790.4V814.3M549.5 786.5V817.6M550.5 785.1V819.4M551.5 784.6V823.4M552.5 788.2V820.7M553.5 777.5V808.8M554.5 780.5V802.8M555.5 779.3V808.6M556.5 778.7V810.1M557.5 783.6V825.4M558.5 784.1V827.1M559.5 775.2V802.1M560.5 782.8V815.9M561.5 780.3V808.9M562.5 791.3V822.3M563.5 791.5V816.4M564.5 788.8V828.2M565.5 779.8V817.8M566.5 793.4V827.8M567.5 799.4V824.2M568.5 786.7V817.7M569.5 771.8V812.8M570.5 779.3V816.3M571.5 790.4V818.8M572.5 785.3V815.5M573.5 793.7V830.2M574.5 795.8V840.4M575.5 791.3V834.0M576.5 793.6V846.1M577.5 794.4V821.0M578.5 803.8V862.9M579.5 790.9V822.1M580.5 788.3V818.9M581.5 781.7V821.4M582.5 788.5V823.1M583.5 788.2V816.2M584.5 785.9V824.4M585.5 780.5V826.5M586.5 780.6V819.8M587.5 788.0V820.5M588.5 777.8V815.2M589.5 761.6V810.3M590.5 781.3V813.6M591.5 778.3V805.8M592.5 772.5V800.8M593.5 770.4V827.2M594.5 778.3V803.7M595.5 774.3V805.7M596.5 782.8V813.1M597.5 778.3V810.8M598.5 776.8V803.5M599.5 777.9V812.5M600.5 770.5V815.2M601.5 784.7V821.6M602.5 777.7V810.5M603.5 784.3V823.9M604.5 783.2V817.2M605.5 786.4V820.6M606.5 792.8V826.1M607.5 776.3V808.7M608.5 788.8V810.9M609.5 773.5V808.6M610.5 786.0V823.8M611.5 774.2V807.4M612.5 790.6V813.9M613.5 782.1V819.6M614.5 788.8V826.2M615.5 789.7V825.1M616.5 789.1V824.2M617.5 798.6V827.9M618.5 790.0V823.5M619.5 785.7V828.7M620.5 792.2V821.6M621.5 776.0V823.9M622.5 774.9V816.3M623.5 779.6V812.5M624.5 785.6V817.9M625.5 784.4V816.8M626.5 788.3V824.7"/>
<path opacity="0.17" d="M73.5 773.9V791.8M74.5 773.5V797.2M75.5 774.9V796.5M76.5 768.0V796.9M77.5 775.4V797.5M78.5 777.2V800.3M79.5 775.9V802.0M80.5 768.4V796.2M81.5 770.4V799.8M82.5 774.2V801.3M83.5 776.7V799.6M84.5 780.8V796.9M85.5 772.4V800.0M86.5 774.1V797.7M87.5 772.0V798.1M88.5 765.3V800.4M89.5 766.4V795.6M90.5 774.3V798.3M91.5 777.0V800.2M92.5 774.4V799.9M93.5 775.1V798.7M94.5 777.4V800.9M95.5 774.2V803.6M96.5 769.4V802.4M97.5 776.7V796.7M98.5 769.2V800.6M99.5 778.1V806.2M100.5 776.1V803.6M101.5 776.1V797.3M102.5 770.2V799.8M103.5 774.4V801.2M104.5 778.4V801.4M105.5 777.7V796.0M106.5 776.0V799.9M107.5 776.7V802.2M108.5 769.0V795.3M109.5 775.6V797.5M110.5 776.2V809.2M111.5 777.0V798.4M112.5 773.5V801.6M113.5 780.6V799.7M114.5 782.0V800.5M115.5 778.0V805.6M116.5 772.5V799.7M117.5 769.1V797.7M118.5 777.1V795.4M119.5 772.9V796.7M120.5 772.8V798.4M121.5 775.9V794.3M122.5 777.0V805.5M123.5 773.0V799.0M124.5 774.3V799.5M125.5 774.8V806.6M126.5 774.5V794.3M127.5 768.0V794.9M128.5 771.5V794.7M129.5 769.0V795.2M130.5 769.0V798.0M131.5 770.1V794.4M132.5 766.5V789.7M133.5 764.8V792.2M134.5 765.2V787.9M135.5 767.3V785.1M136.5 766.8V788.4M137.5 767.1V790.1M138.5 761.4V788.2M139.5 764.4V787.9M140.5 759.6V791.7M141.5 761.9V783.9M142.5 766.6V789.2M143.5 768.9V799.6M144.5 774.6V799.1M145.5 770.2V794.5M146.5 769.0V804.4M147.5 773.6V796.1M148.5 769.5V806.2M149.5 773.6V795.1M150.5 771.7V799.6M151.5 772.2V806.5M152.5 766.2V805.6M153.5 770.8V794.1M154.5 770.3V806.4M155.5 774.0V795.6M156.5 773.8V798.6M157.5 772.6V795.2M158.5 769.9V796.8M159.5 772.0V795.0M160.5 768.7V795.0M161.5 774.1V800.4M162.5 769.6V798.6M163.5 775.4V801.0M164.5 770.9V799.9M165.5 769.5V799.1M166.5 771.0V795.7M167.5 772.8V796.3M168.5 772.2V796.7M169.5 772.8V792.3M170.5 771.8V790.4M171.5 769.3V801.2M172.5 772.1V797.0M173.5 769.0V801.9M174.5 764.8V801.8M175.5 767.5V798.2M176.5 771.9V793.3M177.5 767.4V804.2M178.5 775.4V794.6M179.5 773.6V799.9M180.5 775.3V801.1M181.5 772.5V799.4M182.5 775.4V795.4M183.5 770.4V796.5M184.5 770.4V797.5M185.5 774.1V794.0M186.5 772.1V793.5M187.5 774.3V798.1M188.5 775.7V802.4M189.5 771.5V793.0M190.5 775.0V792.9M191.5 774.1V800.1M192.5 770.8V794.8M193.5 769.6V800.4M194.5 767.9V788.8M195.5 768.0V796.6M196.5 775.2V795.5M197.5 774.7V800.7M198.5 776.3V808.7M199.5 770.5V798.2M200.5 767.4V795.8M201.5 778.5V792.7M202.5 774.7V804.0M203.5 775.4V794.0M204.5 770.4V791.8M205.5 764.3V796.0M206.5 772.4V805.0M207.5 770.0V800.5M208.5 764.2V798.1M209.5 774.7V790.5M210.5 767.9V795.8M211.5 773.9V796.1M212.5 770.1V793.6M213.5 768.5V796.9M214.5 777.0V800.2M215.5 773.6V797.9M216.5 772.0V797.8M217.5 771.9V800.3M218.5 777.2V804.5M219.5 774.2V800.1M220.5 775.0V797.3M221.5 774.6V801.8M222.5 771.8V800.0M223.5 772.8V796.5M224.5 769.0V796.7M225.5 771.3V797.2M226.5 774.3V797.2M227.5 776.1V801.4M228.5 776.8V801.0M229.5 770.6V797.1M230.5 769.8V799.2M231.5 771.1V797.4M232.5 768.9V795.8M233.5 773.2V796.8M234.5 770.9V795.5M235.5 772.8V797.5M236.5 766.2V793.7M237.5 766.4V793.3M238.5 769.7V792.3M239.5 771.4V796.5M240.5 767.5V803.8M241.5 775.2V796.2M242.5 771.4V790.9M243.5 770.6V795.8M244.5 777.1V792.2M245.5 772.0V794.1M246.5 772.4V796.6M247.5 771.7V794.8M248.5 772.2V798.9M249.5 771.1V790.5M250.5 769.7V790.1M251.5 770.2V793.3M252.5 773.5V799.7M253.5 773.1V793.2M254.5 762.6V796.1M255.5 768.8V797.5M256.5 776.5V793.9M257.5 769.6V795.4M258.5 773.4V799.5M259.5 771.8V799.0M260.5 770.5V793.8M261.5 771.3V795.4M262.5 770.6V790.5M263.5 770.9V795.8M264.5 774.3V802.6M265.5 773.0V795.5M266.5 777.1V805.1M267.5 771.1V797.7M268.5 768.8V798.6M269.5 776.5V789.4M270.5 773.1V798.7M271.5 774.2V799.3M272.5 772.9V793.1M273.5 775.9V798.9M274.5 775.2V799.9M275.5 776.1V796.9M276.5 774.7V799.7M277.5 776.9V805.3M278.5 774.5V802.4M279.5 774.1V802.2M280.5 760.2V800.7M281.5 772.7V796.0M282.5 776.2V796.9M283.5 769.1V798.6M284.5 773.3V795.8M285.5 770.7V802.1M286.5 767.1V806.2M287.5 772.7V794.4M288.5 773.4V798.8M289.5 768.9V799.9M290.5 769.9V791.2M291.5 773.0V796.8M292.5 767.9V798.2M293.5 774.1V795.7M294.5 770.0V794.9M295.5 775.7V795.8M296.5 772.5V797.5M297.5 775.8V793.2M298.5 776.5V800.6M299.5 774.4V800.9M300.5 772.4V801.3M301.5 767.4V804.1M302.5 773.2V797.1M303.5 772.4V805.1M304.5 772.9V799.4M305.5 773.6V796.8M306.5 764.9V795.2M307.5 766.0V796.8M308.5 768.1V791.0M309.5 773.3V798.9M310.5 772.8V794.6M311.5 782.2V801.9M312.5 776.1V805.9M313.5 772.1V795.0M314.5 770.4V804.2M315.5 766.0V801.6M316.5 767.5V799.7M317.5 783.8V809.5M318.5 782.1V801.6M319.5 782.7V808.7M320.5 782.7V802.1M321.5 775.0V799.2M322.5 772.5V810.3M323.5 776.3V809.6M324.5 778.0V808.9M325.5 779.1V806.2M326.5 773.3V802.2M327.5 769.8V798.1M328.5 778.2V807.0M329.5 779.5V808.4M330.5 782.1V806.7M331.5 788.4V811.5M332.5 791.0V820.6M333.5 793.0V817.4M334.5 783.3V811.9M335.5 782.1V809.8M336.5 780.8V807.0M337.5 785.5V807.6M338.5 787.2V812.2M339.5 781.9V807.9M340.5 778.8V799.4M341.5 780.8V813.9M342.5 781.2V804.7M343.5 773.9V806.0M344.5 782.8V808.0M345.5 776.0V803.9M346.5 777.6V804.3M347.5 774.9V804.1M348.5 782.9V814.3M349.5 786.1V810.6M350.5 776.7V817.3M351.5 788.1V809.7M352.5 787.6V808.9M353.5 788.5V809.6M354.5 788.5V812.3M355.5 777.7V808.5M356.5 785.2V808.7M357.5 778.0V809.3M358.5 784.5V805.7M359.5 784.7V812.5M360.5 782.2V807.2M361.5 784.8V809.2M362.5 782.3V805.2M363.5 778.4V818.2M364.5 784.4V823.5M365.5 785.2V805.3M366.5 784.9V806.5M367.5 791.0V824.6M368.5 791.1V821.7M369.5 796.0V832.4M370.5 794.2V813.9M371.5 792.5V814.3M372.5 791.6V819.4M373.5 793.7V824.8M374.5 778.0V810.7M375.5 787.3V809.2M376.5 785.4V822.1M377.5 781.3V807.1M378.5 780.5V816.9M379.5 783.1V815.0M380.5 769.6V799.5M381.5 776.4V806.3M382.5 775.5V812.1M383.5 779.7V806.6M384.5 778.5V801.8M385.5 778.6V806.7M386.5 784.0V808.4M387.5 779.8V815.0M388.5 778.8V803.2M389.5 780.1V808.7M390.5 789.1V811.2M391.5 786.7V808.7M392.5 786.0V814.6M393.5 787.5V806.1M394.5 784.0V811.4M395.5 784.7V820.8M396.5 785.0V817.6M397.5 780.0V810.5M398.5 784.7V814.7M399.5 774.6V805.9M400.5 784.4V807.2M401.5 784.3V813.5M402.5 790.5V823.7M403.5 787.7V804.5M404.5 785.0V826.7M405.5 785.6V810.1M406.5 787.0V818.4M407.5 788.0V806.9M408.5 782.2V804.7M409.5 780.0V802.6M410.5 781.5V810.8M411.5 783.0V806.5M412.5 773.3V813.8M413.5 770.6V806.4M414.5 785.8V810.4M415.5 792.4V820.5M416.5 790.1V817.4M417.5 796.2V827.0M418.5 794.5V829.7M419.5 800.4V821.1M420.5 783.4V821.1M421.5 785.4V809.6M422.5 772.5V805.2M423.5 774.9V801.3M424.5 762.6V786.1M425.5 759.1V792.0M426.5 765.9V786.0M427.5 763.4V802.3M428.5 784.0V802.1M429.5 782.2V807.9M430.5 795.4V820.8M431.5 790.2V815.9M432.5 782.0V816.1M433.5 792.8V822.4M434.5 784.3V810.7M435.5 789.5V818.6M436.5 796.1V820.1M437.5 792.2V816.1M438.5 792.3V820.0M439.5 804.6V826.5M440.5 797.3V820.0M441.5 802.7V828.5M442.5 795.3V820.5M443.5 808.3V832.0M444.5 805.4V825.6M445.5 808.5V832.0M446.5 799.7V821.5M447.5 801.4V829.4M448.5 779.7V821.0M449.5 791.3V818.7M450.5 786.4V814.7M451.5 786.4V831.4M452.5 794.1V818.9M453.5 789.5V816.9M454.5 796.6V816.6M455.5 792.4V817.4M456.5 781.1V812.3M457.5 796.3V821.5M458.5 793.3V816.8M459.5 791.3V815.5M460.5 800.4V826.4M461.5 798.3V824.6M462.5 790.7V816.1M463.5 799.4V818.3M464.5 796.0V826.2M465.5 793.3V815.5M466.5 801.9V823.7M467.5 806.2V832.4M468.5 795.0V828.4M469.5 799.9V823.9M470.5 792.9V816.6M471.5 785.2V816.3M472.5 787.8V824.6M473.5 801.3V833.5M474.5 802.6V828.1M475.5 793.1V819.3M476.5 789.1V814.2M477.5 789.7V825.1M478.5 797.0V828.9M479.5 807.4V829.7M480.5 805.1V830.8M481.5 810.4V832.4M482.5 799.0V824.8M483.5 799.9V825.5M484.5 810.6V837.9M485.5 807.0V842.0M486.5 804.1V824.8M487.5 805.6V831.3M488.5 810.2V839.6M489.5 814.6V841.8M490.5 808.0V834.1M491.5 798.9V834.0M492.5 805.2V829.5M493.5 799.2V822.3M494.5 790.4V811.3M495.5 783.0V810.5M496.5 783.6V809.2M497.5 793.6V820.8M498.5 798.0V822.0M499.5 801.4V830.5M500.5 791.0V819.3M501.5 793.2V818.7M502.5 794.3V816.8M503.5 789.0V811.0M504.5 773.9V802.0M505.5 778.3V812.4M506.5 788.6V813.3M507.5 790.4V818.0M508.5 780.5V805.2M509.5 787.8V810.7M510.5 781.4V813.1M511.5 775.8V800.7M512.5 785.8V814.1M513.5 789.9V806.0M514.5 774.1V805.4M515.5 783.2V810.8M516.5 783.8V809.1M517.5 777.8V806.3M518.5 780.5V806.3M519.5 777.5V812.4M520.5 794.9V825.0M521.5 789.4V824.5M522.5 796.6V844.0M523.5 797.7V819.1M524.5 787.8V815.8M525.5 798.4V826.8M526.5 803.5V837.4M527.5 796.5V823.2M528.5 796.6V826.1M529.5 797.8V828.7M530.5 810.6V832.4M531.5 797.4V819.2M532.5 795.5V821.2M533.5 792.2V817.0M534.5 788.2V812.4M535.5 784.2V823.2M536.5 797.8V827.2M537.5 783.9V812.7M538.5 797.0V824.0M539.5 796.9V822.6M540.5 785.0V811.7M541.5 790.4V814.4M542.5 788.3V816.6M543.5 776.2V809.3M544.5 785.0V808.8M545.5 791.4V823.2M546.5 787.7V812.8M547.5 789.2V814.1M548.5 792.2V812.5M549.5 788.2V814.9M550.5 788.2V815.7M551.5 792.3V818.9M552.5 789.3V812.0M553.5 780.8V803.2M554.5 781.4V800.5M555.5 779.9V807.2M556.5 782.8V807.8M557.5 791.7V823.8M558.5 788.6V819.6M559.5 778.0V797.2M560.5 783.5V812.8M561.5 785.3V807.9M562.5 792.6V816.2M563.5 793.1V811.7M564.5 792.7V821.0M565.5 781.0V816.6M566.5 797.6V826.6M567.5 800.1V821.1M568.5 792.1V816.8M569.5 777.6V812.1M570.5 783.6V813.8M571.5 791.2V815.4M572.5 786.4V812.7M573.5 796.1V824.8M574.5 799.4V836.5M575.5 797.4V827.1M576.5 794.6V819.5M577.5 796.0V819.4M578.5 807.5V838.9M579.5 792.8V819.2M580.5 788.9V814.0M581.5 784.2V817.0M582.5 793.5V815.4M583.5 788.9V815.6M584.5 786.5V815.2M585.5 782.4V814.3M586.5 783.3V813.2M587.5 789.1V811.5M588.5 786.8V814.5M589.5 773.9V805.7M590.5 783.6V812.5M591.5 779.2V799.2M592.5 773.4V798.2M593.5 772.2V808.7M594.5 780.9V802.7M595.5 777.5V803.7M596.5 784.0V811.0M597.5 780.0V805.2M598.5 781.8V802.9M599.5 780.4V809.1M600.5 779.4V810.9M601.5 785.7V816.6M602.5 781.8V805.4M603.5 785.4V810.9M604.5 785.9V809.8M605.5 791.2V819.0M606.5 793.4V815.0M607.5 778.5V807.1M608.5 790.4V805.1M609.5 780.1V806.8M610.5 788.1V821.3M611.5 776.7V806.0M612.5 792.5V812.1M613.5 786.7V813.2M614.5 792.0V815.8M615.5 790.2V820.2M616.5 795.3V819.7M617.5 800.7V821.5M618.5 796.4V822.2M619.5 788.1V825.5M620.5 794.7V815.3M621.5 790.2V817.5M622.5 782.9V814.1M623.5 782.6V809.9M624.5 787.3V817.0M625.5 785.8V804.1M626.5 789.2V822.7"/>
<path opacity="0.45" d="M73.5 778.5V790.8M74.5 776.0V796.0M75.5 777.1V790.0M76.5 772.8V795.6M77.5 776.3V795.3M78.5 778.9V795.7M79.5 778.2V798.4M80.5 773.6V794.5M81.5 773.4V791.6M82.5 776.6V795.3M83.5 778.3V795.5M84.5 783.1V793.6M85.5 776.2V795.6M86.5 775.1V794.8M87.5 775.2V796.5M88.5 768.9V797.4M89.5 769.9V793.6M90.5 775.1V796.4M91.5 779.4V795.2M92.5 775.6V797.6M93.5 776.8V794.2M94.5 779.5V795.2M95.5 777.7V797.3M96.5 771.7V798.1M97.5 780.8V793.4M98.5 771.8V798.3M99.5 779.4V800.8M100.5 779.6V798.1M101.5 779.0V794.5M102.5 775.7V798.4M103.5 776.5V797.6M104.5 780.2V796.9M105.5 780.1V793.5M106.5 777.9V798.1M107.5 778.5V797.3M108.5 776.2V794.1M109.5 777.2V794.2M110.5 781.6V797.5M111.5 778.6V793.6M112.5 774.8V799.2M113.5 781.7V797.2M114.5 783.1V798.1M115.5 780.2V800.9M116.5 775.2V798.4M117.5 777.9V795.8M118.5 780.0V793.6M119.5 775.8V793.9M120.5 774.8V795.6M121.5 777.2V791.4M122.5 778.3V795.3M123.5 776.9V796.7M124.5 776.1V795.6M125.5 776.0V796.1M126.5 777.6V792.1M127.5 773.0V790.8M128.5 773.5V792.9M129.5 773.2V793.9M130.5 775.2V793.7M131.5 772.4V790.2M132.5 767.8V787.9M133.5 768.1V786.7M134.5 766.1V785.6M135.5 768.5V783.7M136.5 768.2V786.3M137.5 769.4V786.2M138.5 765.1V784.3M139.5 769.4V785.1M140.5 763.9V789.2M141.5 769.6V782.1M142.5 770.4V783.7M143.5 772.1V795.5M144.5 775.7V793.8M145.5 771.8V793.4M146.5 771.3V799.2M147.5 775.5V792.7M148.5 773.5V793.9M149.5 775.3V792.2M150.5 773.5V795.4M151.5 774.6V795.3M152.5 774.1V796.5M153.5 774.3V790.8M154.5 771.3V793.9M155.5 775.4V794.6M156.5 775.4V796.1M157.5 774.0V793.6M158.5 777.4V795.6M159.5 775.1V792.5M160.5 774.9V793.5M161.5 775.3V797.1M162.5 776.1V797.4M163.5 779.3V794.2M164.5 776.2V796.6M165.5 775.2V795.1M166.5 776.1V789.6M167.5 773.9V795.0M168.5 773.3V788.8M169.5 773.7V789.6M170.5 772.8V788.6M171.5 771.0V790.6M172.5 777.4V793.9M173.5 773.6V793.2M174.5 768.9V794.2M175.5 770.7V794.7M176.5 776.1V791.8M177.5 771.7V796.5M178.5 776.8V793.5M179.5 776.3V795.8M180.5 777.0V796.0M181.5 776.9V794.4M182.5 777.9V792.9M183.5 774.3V792.4M184.5 773.9V793.8M185.5 775.4V792.2M186.5 773.5V791.6M187.5 775.2V796.0M188.5 777.0V798.6M189.5 775.6V791.7M190.5 776.7V791.8M191.5 775.1V795.0M192.5 774.9V791.8M193.5 774.7V791.0M194.5 772.6V787.1M195.5 772.1V792.6M196.5 777.6V792.4M197.5 776.8V796.6M198.5 777.8V800.4M199.5 776.7V792.4M200.5 774.7V793.1M201.5 779.4V791.3M202.5 775.8V796.5M203.5 777.6V792.6M204.5 772.6V789.2M205.5 771.3V792.8M206.5 773.5V800.2M207.5 775.4V795.0M208.5 772.1V793.8M209.5 776.0V788.8M210.5 773.5V794.4M211.5 774.8V792.8M212.5 773.7V788.4M213.5 769.7V794.8M214.5 780.4V796.4M215.5 776.9V794.6M216.5 774.3V794.0M217.5 772.9V795.7M218.5 779.2V798.0M219.5 776.4V795.3M220.5 776.5V794.2M221.5 776.8V798.2M222.5 772.6V793.0M223.5 773.9V795.4M224.5 770.0V793.3M225.5 779.4V793.8M226.5 777.3V795.1M227.5 779.8V794.3M228.5 779.8V797.7M229.5 775.4V795.7M230.5 774.1V793.6M231.5 771.9V795.9M232.5 771.0V794.1M233.5 774.3V795.0M234.5 775.9V793.4M235.5 774.0V791.3M236.5 773.4V788.8M237.5 769.4V792.1M238.5 772.7V791.2M239.5 775.4V795.3M240.5 773.1V793.7M241.5 777.2V791.9M242.5 772.5V789.0M243.5 772.3V790.4M244.5 777.9V790.9M245.5 774.4V792.9M246.5 774.6V789.9M247.5 773.0V791.2M248.5 773.7V791.8M249.5 772.1V789.4M250.5 772.9V788.7M251.5 772.2V789.6M252.5 775.0V794.2M253.5 774.8V791.9M254.5 769.0V792.5M255.5 771.3V795.7M256.5 777.8V792.7M257.5 773.6V794.2M258.5 778.2V793.7M259.5 775.4V794.4M260.5 773.0V792.1M261.5 773.7V793.0M262.5 772.5V789.1M263.5 773.9V790.5M264.5 775.2V788.9M265.5 774.7V791.8M266.5 778.0V796.3M267.5 773.7V795.1M268.5 773.8V791.7M269.5 778.8V788.4M270.5 775.2V793.9M271.5 775.2V791.3M272.5 774.8V790.3M273.5 777.6V794.4M274.5 778.2V797.8M275.5 779.2V794.8M276.5 778.8V796.8M277.5 777.8V796.9M278.5 776.4V793.4M279.5 776.0V792.5M280.5 770.9V795.8M281.5 774.5V793.9M282.5 777.8V794.9M283.5 777.0V797.5M284.5 776.8V794.4M285.5 771.6V800.1M286.5 772.8V796.5M287.5 774.6V793.1M288.5 776.8V793.9M289.5 773.1V793.8M290.5 773.4V788.5M291.5 775.1V794.8M292.5 772.9V793.1M293.5 777.2V793.3M294.5 776.9V792.3M295.5 776.9V792.9M296.5 774.7V794.2M297.5 776.8V792.0M298.5 778.4V792.4M299.5 776.2V795.2M300.5 774.1V793.1M301.5 769.7V792.5M302.5 774.9V794.6M303.5 776.9V803.4M304.5 774.4V797.3M305.5 775.2V794.7M306.5 769.5V792.9M307.5 770.3V794.2M308.5 769.5V789.1M309.5 774.3V797.8M310.5 774.2V793.2M311.5 784.3V800.4M312.5 778.5V800.8M313.5 773.0V793.4M314.5 774.8V803.0M315.5 766.9V794.2M316.5 770.1V796.7M317.5 784.7V800.6M318.5 783.5V798.5M319.5 786.8V807.4M320.5 784.2V800.9M321.5 780.3V797.7M322.5 776.0V802.7M323.5 777.8V801.5M324.5 781.3V806.6M325.5 781.0V804.4M326.5 775.0V799.7M327.5 771.0V793.5M328.5 779.2V799.6M329.5 782.7V806.4M330.5 783.1V803.1M331.5 791.7V810.0M332.5 793.0V813.1M333.5 796.1V815.5M334.5 785.2V810.6M335.5 784.5V806.1M336.5 784.7V804.9M337.5 788.3V805.5M338.5 789.3V810.1M339.5 782.7V803.1M340.5 779.6V797.5M341.5 783.6V809.2M342.5 782.1V797.7M343.5 785.5V804.9M344.5 784.4V806.9M345.5 781.2V798.6M346.5 779.1V802.3M347.5 779.4V801.6M348.5 784.8V812.3M349.5 787.7V808.9M350.5 785.2V806.7M351.5 789.7V806.7M352.5 789.5V806.0M353.5 789.7V807.5M354.5 789.5V807.6M355.5 782.3V805.7M356.5 792.3V807.0M357.5 782.6V807.9M358.5 787.4V804.7M359.5 788.1V811.2M360.5 784.5V804.0M361.5 788.5V804.6M362.5 783.7V804.0M363.5 784.7V811.0M364.5 785.9V808.8M365.5 788.1V802.5M366.5 785.8V804.1M367.5 792.6V819.6M368.5 793.5V818.1M369.5 798.3V823.2M370.5 795.8V811.1M371.5 793.7V813.2M372.5 792.8V818.1M373.5 794.8V815.3M374.5 785.3V806.1M375.5 788.8V807.4M376.5 788.0V815.1M377.5 786.3V803.9M378.5 781.7V806.8M379.5 785.1V807.3M380.5 775.4V798.4M381.5 778.1V799.9M382.5 776.6V801.1M383.5 781.0V802.6M384.5 782.1V799.7M385.5 783.6V805.1M386.5 786.2V806.5M387.5 784.5V808.1M388.5 779.9V798.7M389.5 784.4V803.3M390.5 790.2V810.0M391.5 787.6V806.2M392.5 788.7V811.9M393.5 788.8V805.0M394.5 784.9V808.9M395.5 786.0V813.4M396.5 786.9V806.2M397.5 781.6V805.4M398.5 787.7V811.2M399.5 784.6V804.3M400.5 785.8V803.7M401.5 787.7V809.7M402.5 792.4V822.5M403.5 790.7V803.0M404.5 786.9V808.7M405.5 786.8V806.1M406.5 790.3V814.3M407.5 789.3V805.5M408.5 784.8V800.9M409.5 781.4V801.2M410.5 783.4V804.2M411.5 784.1V804.6M412.5 784.2V810.1M413.5 777.2V803.7M414.5 787.0V807.3M415.5 795.8V818.1M416.5 791.2V811.6M417.5 797.1V824.4M418.5 797.9V826.0M419.5 802.6V818.1M420.5 785.5V809.6M421.5 786.7V806.6M422.5 779.6V803.6M423.5 776.7V799.8M424.5 765.9V784.8M425.5 762.6V786.3M426.5 767.6V782.8M427.5 764.9V795.1M428.5 785.2V799.2M429.5 783.4V805.2M430.5 797.4V819.6M431.5 794.8V812.0M432.5 790.6V810.7M433.5 795.6V817.7M434.5 788.4V809.1M435.5 790.5V815.8M436.5 798.9V817.7M437.5 796.0V814.3M438.5 800.4V818.8M439.5 807.0V822.9M440.5 798.8V817.8M441.5 803.7V822.8M442.5 798.1V819.2M443.5 809.7V829.8M444.5 807.4V823.8M445.5 809.6V827.1M446.5 802.7V818.6M447.5 808.0V824.7M448.5 792.1V814.7M449.5 794.3V816.6M450.5 789.6V808.8M451.5 794.2V819.5M452.5 796.0V816.1M453.5 792.3V813.5M454.5 798.1V812.5M455.5 797.1V814.0M456.5 782.5V810.2M457.5 800.5V816.6M458.5 796.3V815.8M459.5 793.9V814.4M460.5 803.1V820.5M461.5 799.8V823.2M462.5 792.3V814.8M463.5 801.1V816.1M464.5 797.5V817.8M465.5 794.2V812.9M466.5 803.0V821.1M467.5 807.3V830.6M468.5 804.1V826.7M469.5 800.8V821.3M470.5 794.8V815.1M471.5 790.9V813.4M472.5 796.3V817.2M473.5 805.1V827.1M474.5 803.9V825.5M475.5 794.5V815.6M476.5 791.4V811.1M477.5 798.0V814.2M478.5 799.5V820.8M479.5 808.2V825.6M480.5 807.7V827.5M481.5 811.8V829.7M482.5 802.4V823.6M483.5 801.5V821.5M484.5 812.7V836.3M485.5 807.9V827.2M486.5 806.4V823.8M487.5 810.5V828.1M488.5 813.4V829.5M489.5 815.7V839.2M490.5 809.0V829.5M491.5 802.1V830.7M492.5 807.2V825.3M493.5 801.3V820.0M494.5 793.8V809.0M495.5 785.8V807.6M496.5 789.7V807.9M497.5 794.9V814.5M498.5 799.0V813.3M499.5 807.1V826.6M500.5 796.7V816.4M501.5 794.1V811.5M502.5 796.7V813.9M503.5 791.5V808.0M504.5 779.0V798.3M505.5 783.3V805.1M506.5 793.0V804.8M507.5 795.2V814.4M508.5 784.0V802.6M509.5 790.6V808.4M510.5 783.2V809.6M511.5 780.1V797.3M512.5 787.4V807.1M513.5 793.8V804.7M514.5 776.4V800.5M515.5 785.6V804.2M516.5 785.5V801.7M517.5 782.0V804.1M518.5 781.6V802.2M519.5 787.5V808.9M520.5 795.8V819.9M521.5 791.8V812.3M522.5 797.9V822.4M523.5 801.4V817.3M524.5 789.2V814.3M525.5 799.3V821.5M526.5 805.7V831.1M527.5 797.6V820.9M528.5 805.8V824.5M529.5 802.7V823.5M530.5 812.3V831.0M531.5 799.9V817.4M532.5 798.2V818.6M533.5 794.3V813.1M534.5 789.5V811.0M535.5 786.7V813.3M536.5 799.2V821.1M537.5 789.7V811.0M538.5 797.9V822.1M539.5 798.2V817.3M540.5 791.3V808.6M541.5 791.5V812.8M542.5 790.0V810.2M543.5 778.7V805.3M544.5 789.9V807.7M545.5 794.2V817.3M546.5 788.7V807.4M547.5 790.8V811.2M548.5 793.2V810.0M549.5 791.9V810.6M550.5 792.1V810.2M551.5 795.5V813.0M552.5 791.5V807.3M553.5 783.5V800.8M554.5 782.7V799.0M555.5 780.9V802.7M556.5 784.4V802.4M557.5 795.4V821.0M558.5 792.1V817.2M559.5 779.7V796.2M560.5 785.0V809.1M561.5 786.5V806.7M562.5 795.3V813.7M563.5 794.4V810.3M564.5 793.5V814.3M565.5 795.0V815.2M566.5 802.2V824.8M567.5 800.9V818.4M568.5 794.8V813.2M569.5 786.3V808.1M570.5 784.8V807.5M571.5 792.9V812.0M572.5 790.9V810.4M573.5 797.3V820.2M574.5 800.6V833.0M575.5 798.8V821.7M576.5 795.6V817.7M577.5 800.2V817.3M578.5 808.6V827.5M579.5 793.9V816.8M580.5 793.0V811.0M581.5 785.5V814.8M582.5 795.3V814.2M583.5 795.4V814.3M584.5 793.0V811.7M585.5 783.7V810.1M586.5 787.2V808.5M587.5 791.0V808.5M588.5 788.9V810.6M589.5 779.3V804.1M590.5 785.5V810.8M591.5 780.7V798.0M592.5 776.6V794.2M593.5 779.5V802.7M594.5 785.4V800.2M595.5 779.2V799.2M596.5 786.2V808.1M597.5 782.7V803.9M598.5 784.7V801.3M599.5 782.1V804.4M600.5 781.4V806.2M601.5 787.0V814.0M602.5 785.3V803.7M603.5 791.1V807.6M604.5 786.9V805.8M605.5 793.6V813.1M606.5 794.4V812.4M607.5 780.2V804.0M608.5 791.5V803.3M609.5 781.9V805.3M610.5 789.7V809.2M611.5 781.4V803.4M612.5 794.6V809.8M613.5 790.9V809.2M614.5 793.1V814.8M615.5 794.7V810.8M616.5 796.3V816.6M617.5 802.7V818.1M618.5 802.2V820.3M619.5 789.0V810.6M620.5 795.6V813.9M621.5 792.5V813.5M622.5 785.1V808.2M623.5 784.7V807.5M624.5 789.2V813.9M625.5 787.5V801.6M626.5 791.0V806.8"/>
<path d="M73.5 779.6V789.2M74.5 778.4V788.4M75.5 779.2V788.8M76.5 775.8V792.3M77.5 778.8V792.6M78.5 780.0V793.8M79.5 779.9V795.4M80.5 777.0V791.7M81.5 774.7V790.0M82.5 778.3V793.7M83.5 780.0V794.0M84.5 785.0V792.2M85.5 777.7V793.4M86.5 776.1V792.2M87.5 776.4V791.8M88.5 776.1V793.9M89.5 777.4V790.6M90.5 777.5V792.9M91.5 781.9V791.8M92.5 780.6V794.4M93.5 778.4V791.1M94.5 781.3V792.4M95.5 780.7V793.9M96.5 778.1V796.0M97.5 782.1V791.2M98.5 774.8V793.4M99.5 783.4V795.4M100.5 780.7V796.7M101.5 780.3V792.6M102.5 778.2V794.9M103.5 780.8V795.5M104.5 782.0V793.0M105.5 781.1V791.7M106.5 779.4V795.1M107.5 781.7V794.3M108.5 777.7V792.6M109.5 779.7V792.5M110.5 783.3V794.3M111.5 781.9V791.7M112.5 776.7V797.1M113.5 783.5V795.4M114.5 784.6V796.8M115.5 782.6V799.1M116.5 780.4V795.1M117.5 781.6V792.9M118.5 782.3V789.7M119.5 777.4V792.0M120.5 777.0V792.1M121.5 778.6V790.0M122.5 779.4V791.7M123.5 778.7V795.3M124.5 777.7V794.0M125.5 778.3V793.2M126.5 779.1V790.8M127.5 774.7V789.3M128.5 776.7V791.5M129.5 776.6V791.7M130.5 777.2V791.1M131.5 775.6V788.7M132.5 773.2V786.0M133.5 769.8V785.0M134.5 772.1V784.3M135.5 771.4V782.1M136.5 772.7V780.5M137.5 772.3V782.5M138.5 767.2V782.1M139.5 771.0V783.4M140.5 767.5V786.2M141.5 771.5V780.8M142.5 772.8V781.8M143.5 773.4V789.1M144.5 776.8V790.8M145.5 774.3V789.7M146.5 775.6V792.4M147.5 777.4V790.7M148.5 774.5V791.2M149.5 776.4V789.7M150.5 774.8V791.8M151.5 777.4V792.3M152.5 776.5V792.9M153.5 778.1V788.6M154.5 773.3V792.2M155.5 776.6V792.8M156.5 777.0V789.4M157.5 775.9V790.8M158.5 778.7V794.2M159.5 781.4V788.6M160.5 778.4V792.3M161.5 776.9V794.7M162.5 777.6V794.4M163.5 781.3V791.8M164.5 778.6V790.5M165.5 777.6V792.5M166.5 777.7V787.8M167.5 776.9V790.7M168.5 775.1V786.4M169.5 775.2V786.9M170.5 773.8V787.2M171.5 774.4V788.4M172.5 780.2V789.4M173.5 775.9V790.9M174.5 774.4V790.8M175.5 773.3V790.5M176.5 777.4V788.2M177.5 776.3V790.5M178.5 779.1V791.3M179.5 778.2V793.0M180.5 779.5V790.1M181.5 778.1V792.1M182.5 779.8V789.2M183.5 778.1V789.3M184.5 775.0V791.3M185.5 776.6V789.6M186.5 774.9V789.5M187.5 778.6V791.9M188.5 778.1V793.0M189.5 777.6V789.1M190.5 779.5V790.0M191.5 777.5V793.3M192.5 779.4V790.1M193.5 776.3V788.1M194.5 774.3V785.7M195.5 774.8V791.0M196.5 780.0V789.8M197.5 778.0V792.8M198.5 779.5V793.0M199.5 779.1V790.6M200.5 777.3V791.7M201.5 780.9V789.6M202.5 778.3V792.0M203.5 781.6V787.5M204.5 775.1V786.1M205.5 772.3V791.0M206.5 774.9V791.1M207.5 777.1V790.8M208.5 773.9V792.6M209.5 777.3V787.6M210.5 775.5V792.9M211.5 775.9V791.3M212.5 781.6V787.0M213.5 778.7V791.7M214.5 781.7V794.4M215.5 779.1V791.1M216.5 777.1V792.0M217.5 775.1V794.1M218.5 780.5V791.0M219.5 777.4V793.9M220.5 778.2V790.0M221.5 779.5V794.4M222.5 776.7V790.6M223.5 776.9V791.6M224.5 774.6V790.1M225.5 780.7V791.1M226.5 780.3V790.9M227.5 782.1V792.9M228.5 780.8V796.2M229.5 777.3V792.6M230.5 776.7V791.2M231.5 777.4V789.2M232.5 775.1V791.1M233.5 776.2V792.5M234.5 777.4V791.0M235.5 777.0V789.9M236.5 776.4V786.0M237.5 771.6V790.8M238.5 777.3V789.9M239.5 776.8V790.7M240.5 781.1V789.8M241.5 778.4V789.1M242.5 776.2V787.2M243.5 773.7V787.9M244.5 780.2V788.9M245.5 776.1V791.5M246.5 778.3V785.5M247.5 777.7V788.3M248.5 774.8V788.9M249.5 774.6V787.6M250.5 774.4V787.1M251.5 773.3V787.6M252.5 776.2V786.5M253.5 776.9V789.2M254.5 770.1V786.9M255.5 774.2V791.2M256.5 779.4V789.9M257.5 776.6V792.1M258.5 779.4V789.6M259.5 777.1V792.3M260.5 775.4V788.5M261.5 777.2V790.9M262.5 774.1V787.0M263.5 775.6V788.7M264.5 776.5V787.2M265.5 776.8V788.3M266.5 779.7V790.6M267.5 779.6V792.6M268.5 776.1V789.8M269.5 780.0V786.4M270.5 778.1V792.5M271.5 777.9V789.7M272.5 778.6V788.5M273.5 778.6V792.0M274.5 780.0V794.7M275.5 780.4V792.3M276.5 780.2V794.1M277.5 779.2V793.1M278.5 778.7V791.3M279.5 777.6V791.0M280.5 773.2V794.1M281.5 775.7V792.2M282.5 779.0V793.6M283.5 779.9V794.4M284.5 778.0V790.2M285.5 774.9V798.5M286.5 776.2V793.9M287.5 777.0V790.5M288.5 779.2V788.8M289.5 776.9V791.8M290.5 775.8V787.0M291.5 777.3V790.9M292.5 777.5V791.1M293.5 778.3V790.0M294.5 778.9V789.7M295.5 778.7V791.0M296.5 776.2V792.9M297.5 778.8V790.7M298.5 780.5V788.7M299.5 777.4V793.2M300.5 775.1V791.5M301.5 774.5V788.3M302.5 776.9V791.1M303.5 778.5V795.2M304.5 776.8V795.6M305.5 776.7V793.4M306.5 772.6V791.3M307.5 771.9V791.7M308.5 773.2V787.0M309.5 778.1V792.8M310.5 779.0V789.6M311.5 785.6V798.3M312.5 779.7V797.6M313.5 775.8V792.1M314.5 780.3V794.8M315.5 774.4V790.8M316.5 773.7V795.3M317.5 787.8V798.8M318.5 784.6V797.0M319.5 789.0V805.1M320.5 785.7V799.7M321.5 781.8V795.8M322.5 782.0V800.7M323.5 783.2V797.9M324.5 783.4V800.0M325.5 787.6V802.8M326.5 776.1V797.3M327.5 773.1V791.4M328.5 781.9V797.9M329.5 783.7V803.2M330.5 785.9V800.5M331.5 793.0V807.9M332.5 794.5V811.7M333.5 797.6V813.1M334.5 796.1V807.9M335.5 785.6V803.9M336.5 786.5V803.3M337.5 789.5V804.0M338.5 797.6V808.7M339.5 785.7V798.8M340.5 786.3V796.2M341.5 784.7V805.8M342.5 786.0V796.2M343.5 787.3V801.9M344.5 785.8V803.2M345.5 785.4V796.7M346.5 781.0V800.6M347.5 781.3V800.0M348.5 787.5V805.8M349.5 789.6V802.5M350.5 787.1V805.2M351.5 791.1V804.3M352.5 791.4V804.4M353.5 791.7V805.1M354.5 790.7V806.1M355.5 785.4V804.4M356.5 794.0V805.7M357.5 784.9V802.2M358.5 789.3V802.7M359.5 790.5V807.4M360.5 785.5V799.7M361.5 790.4V802.6M362.5 786.4V800.8M363.5 789.6V808.6M364.5 787.7V805.8M365.5 789.6V800.2M366.5 789.2V800.7M367.5 796.2V812.3M368.5 795.9V816.7M369.5 803.7V817.8M370.5 799.1V809.6M371.5 794.9V810.4M372.5 793.9V811.4M373.5 798.7V813.4M374.5 787.3V803.1M375.5 790.0V805.8M376.5 793.4V812.6M377.5 787.5V801.4M378.5 787.6V803.7M379.5 786.6V804.9M380.5 777.2V792.6M381.5 780.2V795.6M382.5 778.3V795.6M383.5 782.8V801.1M384.5 784.2V797.6M385.5 784.7V802.9M386.5 787.3V804.4M387.5 785.8V806.7M388.5 781.0V797.1M389.5 785.8V802.1M390.5 791.4V805.9M391.5 790.6V805.0M392.5 791.1V809.8M393.5 792.2V803.5M394.5 786.4V805.3M395.5 788.8V808.5M396.5 790.3V804.1M397.5 785.0V803.4M398.5 791.4V809.0M399.5 786.9V803.0M400.5 788.1V801.5M401.5 789.2V804.5M402.5 793.5V810.3M403.5 791.9V801.6M404.5 788.5V806.7M405.5 789.8V804.6M406.5 791.7V810.9M407.5 790.7V801.7M408.5 786.1V798.5M409.5 785.8V799.3M410.5 787.5V801.6M411.5 785.3V802.9M412.5 785.5V802.1M413.5 783.6V800.1M414.5 789.3V804.3M415.5 797.1V815.6M416.5 794.9V809.6M417.5 799.2V818.8M418.5 800.1V818.7M419.5 804.9V816.7M420.5 789.3V807.1M421.5 787.9V804.4M422.5 785.0V800.3M423.5 777.9V796.0M424.5 768.6V783.1M425.5 765.0V781.9M426.5 769.0V781.5M427.5 766.6V789.1M428.5 786.3V796.7M429.5 785.6V800.5M430.5 798.7V817.0M431.5 798.0V810.2M432.5 792.4V807.8M433.5 801.0V815.9M434.5 789.6V805.1M435.5 794.3V810.4M436.5 800.4V815.9M437.5 799.0V812.8M438.5 802.8V816.0M439.5 808.2V821.5M440.5 801.5V816.2M441.5 804.7V821.0M442.5 800.4V816.0M443.5 811.7V828.6M444.5 809.9V822.2M445.5 811.9V825.9M446.5 804.9V817.4M447.5 811.1V822.0M448.5 793.9V807.7M449.5 796.7V815.3M450.5 792.5V804.3M451.5 796.1V817.6M452.5 798.6V814.7M453.5 793.5V810.2M454.5 799.1V810.9M455.5 798.7V812.6M456.5 791.1V808.7M457.5 801.6V814.8M458.5 800.4V813.5M459.5 795.4V812.7M460.5 804.1V819.0M461.5 801.3V817.3M462.5 793.4V813.4M463.5 802.8V814.6M464.5 798.6V814.9M465.5 796.2V810.8M466.5 804.4V818.8M467.5 808.3V827.0M468.5 805.4V821.6M469.5 803.6V817.6M470.5 798.5V813.1M471.5 792.4V810.3M472.5 797.4V809.7M473.5 808.8V825.9M474.5 805.3V821.2M475.5 796.7V811.6M476.5 794.2V809.6M477.5 799.6V812.5M478.5 801.5V819.1M479.5 809.3V822.6M480.5 810.3V825.7M481.5 813.4V828.3M482.5 803.9V820.1M483.5 804.3V819.8M484.5 814.5V833.0M485.5 808.9V825.5M486.5 807.9V821.9M487.5 812.3V825.3M488.5 814.7V827.9M489.5 817.8V835.1M490.5 811.6V827.1M491.5 806.4V827.4M492.5 808.7V822.3M493.5 803.4V818.1M494.5 795.3V807.6M495.5 787.1V804.5M496.5 793.1V804.9M497.5 796.9V810.8M498.5 800.0V811.2M499.5 808.6V822.7M500.5 798.7V814.6M501.5 796.0V806.2M502.5 797.9V811.2M503.5 792.5V806.1M504.5 781.8V796.7M505.5 784.5V803.3M506.5 794.7V803.1M507.5 796.3V811.7M508.5 787.5V801.3M509.5 792.5V807.1M510.5 785.6V800.5M511.5 781.4V796.0M512.5 789.0V802.7M513.5 794.9V802.3M514.5 779.0V798.2M515.5 787.8V799.7M516.5 787.1V799.4M517.5 787.6V800.1M518.5 783.1V799.1M519.5 789.7V805.6M520.5 797.0V818.5M521.5 793.4V807.3M522.5 801.3V820.0M523.5 802.5V815.5M524.5 792.6V812.6M525.5 800.3V819.5M526.5 806.8V825.2M527.5 798.7V819.0M528.5 807.0V823.0M529.5 805.1V821.0M530.5 813.4V829.4M531.5 801.3V814.8M532.5 801.9V813.4M533.5 796.4V810.4M534.5 790.6V806.6M535.5 792.7V806.8M536.5 801.8V816.0M537.5 794.6V809.5M538.5 800.0V820.7M539.5 800.9V813.4M540.5 792.5V805.2M541.5 792.8V807.4M542.5 792.8V808.7M543.5 782.1V803.5M544.5 791.6V805.5M545.5 797.2V814.2M546.5 790.3V804.7M547.5 791.8V806.9M548.5 795.0V808.4M549.5 793.9V809.4M550.5 793.9V807.8M551.5 797.1V809.3M552.5 793.8V805.8M553.5 784.7V799.4M554.5 783.9V797.5M555.5 783.6V801.4M556.5 790.8V800.6M557.5 797.1V810.7M558.5 797.2V815.6M559.5 781.4V794.9M560.5 788.7V806.1M561.5 787.6V804.3M562.5 797.2V810.4M563.5 795.5V805.2M564.5 795.1V808.0M565.5 796.2V813.2M566.5 804.5V822.3M567.5 803.9V816.9M568.5 796.5V809.8M569.5 788.0V806.6M570.5 785.9V805.8M571.5 795.1V810.8M572.5 793.7V807.7M573.5 801.0V818.3M574.5 805.2V824.4M575.5 800.1V820.4M576.5 801.3V813.7M577.5 802.1V815.5M578.5 811.6V825.4M579.5 797.8V813.3M580.5 795.7V809.7M581.5 790.4V810.0M582.5 796.5V812.6M583.5 797.9V812.0M584.5 794.0V809.9M585.5 787.1V807.5M586.5 788.3V805.1M587.5 792.3V807.2M588.5 790.5V805.9M589.5 781.3V801.9M590.5 786.7V804.1M591.5 782.5V796.8M592.5 778.4V791.6M593.5 781.1V800.4M594.5 788.7V798.9M595.5 780.2V797.6M596.5 790.3V805.5M597.5 785.0V801.2M598.5 786.0V799.7M599.5 784.8V802.0M600.5 783.1V803.6M601.5 788.8V808.1M602.5 786.5V801.4M603.5 792.7V804.6M604.5 788.9V804.2M605.5 795.1V811.1M606.5 796.1V810.1M607.5 782.9V800.3M608.5 792.6V800.7M609.5 783.4V800.9M610.5 790.9V807.9M611.5 782.9V800.7M612.5 795.8V806.1M613.5 792.2V807.3M614.5 795.4V805.9M615.5 795.8V808.4M616.5 798.2V814.9M617.5 803.7V816.9M618.5 807.1V819.0M619.5 794.5V809.2M620.5 798.4V811.4M621.5 796.7V811.3M622.5 788.3V806.5M623.5 787.4V804.9M624.5 790.9V809.0M625.5 789.4V799.5M626.5 793.0V805.1"/>
<path opacity="0.14" d="M307.5 721.0V790.0M358.5 732.5V795.0M371.5 751.0V800.0M500.5 732.5V797.0M513.5 744.0V795.0M526.5 745.0V805.0M466.5 812.0V847.7M493.5 820.0V846.0M451.5 815.0V840.0M232.5 776.0V760.0M152.5 780.0V808.0"/>
</g>
<defs><linearGradient id="jet" x1="0" y1="1" x2="0" y2="0">
<stop offset="0.0000" stop-color="#000080"/>
<stop offset="0.0156" stop-color="#000092"/>
<stop offset="0.0312" stop-color="#0000a4"/>
<stop offset="0.0469" stop-color="#0000b6"/>
<stop offset="0.0625" stop-color="#0000c8"/>
<stop offset="0.0781" stop-color="#0000da"/>
<stop offset="0.0938" stop-color="#0000ed"/>
<stop offset="0.1094" stop-color="#0000ff"/>
<stop offset="0.1250" stop-color="#0000ff"/>
<stop offset="0.1406" stop-color="#0010ff"/>
<stop offset="0.1562" stop-color="#0020ff"/>
<stop offset="0.1719" stop-color="#0030ff"/>
<stop offset="0.1875" stop-color="#0040ff"/>
<stop offset="0.2031" stop-color="#0050ff"/>
<stop offset="0.2188" stop-color="#0060ff"/>
<stop offset="0.2344" stop-color="#0070ff"/>
<stop offset="0.2500" stop-color="#0080ff"/>
<stop offset="0.2656" stop-color="#0090ff"/>
<stop offset="0.2812" stop-color="#00a0ff"/>
<stop offset="0.2969" stop-color="#00b0ff"/>
<stop offset="0.3125" stop-color="#00c0ff"/>
<stop offset="0.3281" stop-color="#00d0ff"/>
<stop offset="0.3438" stop-color="#00e0fb"/>
<stop offset="0.3594" stop-color="#09f0ee"/>
<stop offset="0.3750" stop-color="#16ffe1"/>
<stop offset="0.3906" stop-color="#23ffd4"/>
<stop offset="0.4062" stop-color="#30ffc7"/>
<stop offset="0.4219" stop-color="#3cffba"/>
<stop offset="0.4375" stop-color="#49ffad"/>
<stop offset="0.4531" stop-color="#56ffa0"/>
<stop offset="0.4688" stop-color="#63ff94"/>
<stop offset="0.4844" stop-color="#70ff87"/>
<stop offset="0.5000" stop-color="#7dff7a"/>
<stop offset="0.5156" stop-color="#8aff6d"/>
<stop offset="0.5312" stop-color="#97ff60"/>
<stop offset="0.5469" stop-color="#a4ff53"/>
<stop offset="0.5625" stop-color="#b1ff46"/>
<stop offset="0.5781" stop-color="#beff39"/>
<stop offset="0.5938" stop-color="#caff2c"/>
<stop offset="0.6094" stop-color="#d7ff1f"/>
<stop offset="0.6250" stop-color="#e4ff13"/>
<stop offset="0.6406" stop-color="#f1fc06"/>
<stop offset="0.6562" stop-color="#feed00"/>
<stop offset="0.6719" stop-color="#ffde00"/>
<stop offset="0.6875" stop-color="#ffd000"/>
<stop offset="0.7031" stop-color="#ffc100"/>
<stop offset="0.7188" stop-color="#ffb200"/>
<stop offset="0.7344" stop-color="#ffa300"/>
<stop offset="0.7500" stop-color="#ff9400"/>
<stop offset="0.7656" stop-color="#ff8600"/>
<stop offset="0.7812" stop-color="#ff7700"/>
<stop offset="0.7969" stop-color="#ff6800"/>
<stop offset="0.8125" stop-color="#ff5900"/>
<stop offset="0.8281" stop-color="#ff4a00"/>
<stop offset="0.8438" stop-color="#ff3b00"/>
<stop offset="0.8594" stop-color="#ff2d00"/>
<stop offset="0.8750" stop-color="#ff1e00"/>
<stop offset="0.8906" stop-color="#fa0f00"/>
<stop offset="0.9062" stop-color="#e80000"/>
<stop offset="0.9219" stop-color="#d60000"/>
<stop offset="0.9375" stop-color="#c40000"/>
<stop offset="0.9531" stop-color="#b20000"/>
<stop offset="0.9688" stop-color="#9f0000"/>
<stop offset="0.9844" stop-color="#8d0000"/>
<stop offset="1.0000" stop-color="#800000"/>
</linearGradient></defs>
<rect x="641.3" y="194.5" width="14.3" height="457.7" fill="url(#jet)"/>
<g stroke="#000" stroke-width="0.8" fill="none">
<rect x="72.5" y="45.5" width="554.0" height="140.0"/>
<rect x="72.5" y="205.5" width="554.0" height="490.0"/>
<rect x="72.5" y="715.5" width="554.0" height="140.0"/>
<rect x="641.3" y="194.5" width="14.3" height="457.7"/>
<path d="M72.50 185.5v3.9M72.50 855.5v3.9M164.83 185.5v3.9M164.83 855.5v3.9M257.17 185.5v3.9M257.17 855.5v3.9M349.50 185.5v3.9M349.50 855.5v3.9M441.83 185.5v3.9M441.83 855.5v3.9M534.17 185.5v3.9M534.17 855.5v3.9M626.50 185.5v3.9M626.50 855.5v3.9M72.5 185.50h-3.5M72.5 150.50h-3.5M72.5 115.50h-3.5M72.5 80.50h-3.5M72.5 45.50h-3.5M72.5 695.50h-3.5M655.6 652.20h3.5M72.5 634.25h-3.5M655.6 594.99h3.5M72.5 573.00h-3.5M655.6 537.78h3.5M72.5 511.75h-3.5M655.6 480.56h3.5M72.5 450.50h-3.5M655.6 423.35h3.5M72.5 389.25h-3.5M655.6 366.14h3.5M72.5 328.00h-3.5M655.6 308.93h3.5M72.5 266.75h-3.5M655.6 251.71h3.5M72.5 205.50h-3.5M655.6 194.50h3.5M72.5 836.30h-3.5M72.5 784.60h-3.5M72.5 732.90h-3.5"/>
</g>
<g font-family="DejaVu Sans, Liberation Sans, sans-serif" fill="#000">
<text x="360.8" y="32" font-size="18" text-anchor="middle" textLength="333.6">2017-05-06 07:00-08:00 (125.00_Hz)</text>
<text x="349.3" y="123.4" font-size="18" text-anchor="middle" textLength="226">Currently No Meteo Data</text>
<g font-size="15" text-anchor="end">
<text x="66.3" y="191.10">0.00</text>
<text x="66.3" y="156.10">0.25</text>
<text x="66.3" y="121.10">0.50</text>
<text x="66.3" y="86.10">0.75</text>
<text x="66.3" y="51.10">1.00</text>
<text x="66.3" y="701.10">0</text>
<text x="66.3" y="639.85">0.25</text>
<text x="66.3" y="578.60">0.5</text>
<text x="66.3" y="517.35">0.75</text>
<text x="66.3" y="456.10">1</text>
<text x="66.3" y="394.85">1.25</text>
<text x="66.3" y="333.60">1.5</text>
<text x="66.3" y="272.35">1.75</text>
<text x="66.3" y="211.10">2</text>
<text x="66.3" y="841.90">20</text>
<text x="66.3" y="790.20">40</text>
<text x="66.3" y="738.50">60</text>
</g>
<g font-size="15" text-anchor="start">
<text x="661.7" y="657.80">0.00</text>
<text x="661.7" y="600.59">0.25</text>
<text x="661.7" y="543.38">0.50</text>
<text x="661.7" y="486.16">0.75</text>
<text x="661.7" y="428.95">1.00</text>
<text x="661.7" y="371.74">1.25</text>
<text x="661.7" y="314.53">1.50</text>
<text x="661.7" y="257.31">1.75</text>
<text x="661.7" y="200.10">2.00</text>
</g>
<g font-size="15" text-anchor="middle">
<text x="72.50" y="873.3">0</text>
<text x="164.83" y="873.3">10</text>
<text x="257.17" y="873.3">20</text>
<text x="349.50" y="873.3">30</text>
<text x="441.83" y="873.3">40</text>
<text x="534.17" y="873.3">50</text>
<text x="626.50" y="873.3">60</text>
<text x="349.5" y="890.5">time [min]</text>
<text transform="translate(25.2 450.3) rotate(-90)" textLength="137.5">FFT Frequenz [Hz]</text>
<text transform="translate(41.2 786) rotate(-90)" textLength="64.2">SPL [dB]</text>
</g>
</g>
</svg></body></html>
